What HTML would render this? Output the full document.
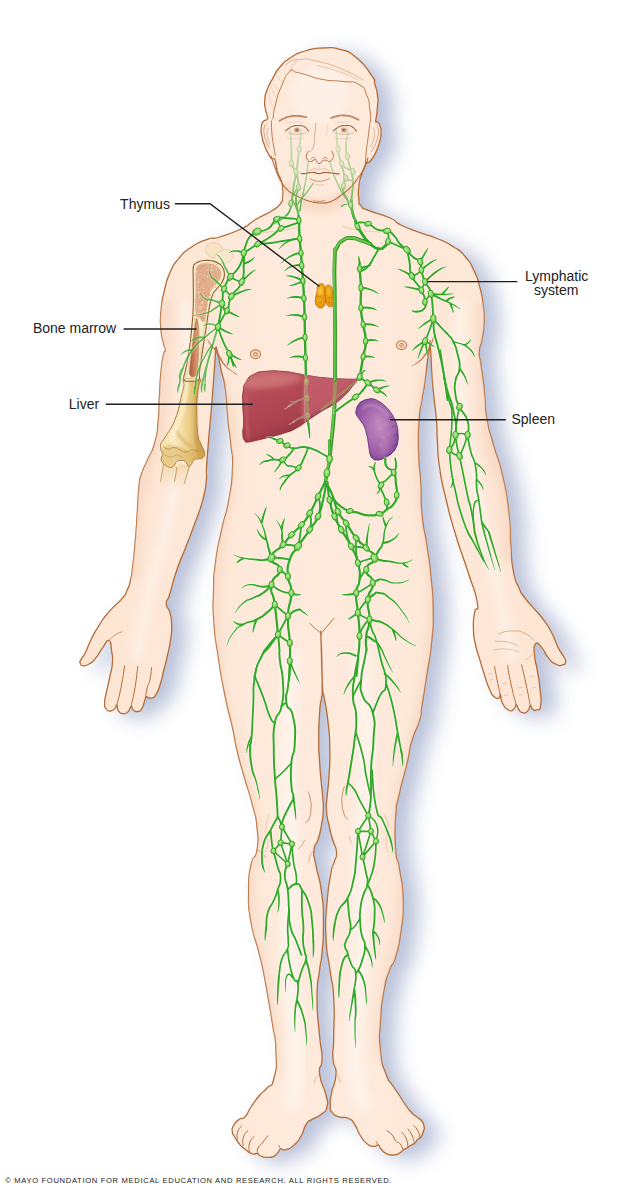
<!DOCTYPE html>
<html><head><meta charset="utf-8"><title>Lymphatic system</title>
<style>
html,body{margin:0;padding:0;background:#fff;}
body{width:632px;height:1187px;overflow:hidden;font-family:"Liberation Sans",sans-serif;}
svg{display:block}
text{font-family:"Liberation Sans",sans-serif;fill:#222;}
</style></head><body>
<svg width="632" height="1187" viewBox="0 0 632 1187">

<defs>
<filter id="shb" x="-15%" y="-5%" width="135%" height="112%"><feGaussianBlur stdDeviation="10"/></filter>
<filter id="b1" x="-50%" y="-50%" width="200%" height="200%"><feGaussianBlur stdDeviation="1"/></filter>
<filter id="b2" x="-50%" y="-50%" width="200%" height="200%"><feGaussianBlur stdDeviation="2.5"/></filter>
<filter id="b4" x="-100%" y="-100%" width="300%" height="300%"><feGaussianBlur stdDeviation="4"/></filter>
<linearGradient id="skin" x1="0" y1="0" x2="1" y2="0">
<stop offset="0" stop-color="#fde5d3"/><stop offset="0.5" stop-color="#feeadc"/><stop offset="1" stop-color="#fde5d3"/></linearGradient>
<linearGradient id="liverg" x1="0" y1="0" x2="0.6" y2="1">
<stop offset="0" stop-color="#cc6e72"/><stop offset="0.3" stop-color="#b64c58"/><stop offset="1" stop-color="#a03848"/></linearGradient>
<radialGradient id="spleeng" cx="0.55" cy="0.45" r="0.6">
<stop offset="0" stop-color="#c08ac0"/><stop offset="0.55" stop-color="#a669ae"/><stop offset="1" stop-color="#8a4e9e"/></radialGradient>
<linearGradient id="boneg" x1="0" y1="0" x2="1" y2="0">
<stop offset="0" stop-color="#f6e3ac"/><stop offset="0.3" stop-color="#f9ecc2"/><stop offset="0.62" stop-color="#eed28c"/><stop offset="1" stop-color="#c99e4c"/></linearGradient>
<radialGradient id="ndg" cx="0.42" cy="0.4" r="0.65"><stop offset="0" stop-color="#b6ee9c"/><stop offset="0.55" stop-color="#8cd96c"/><stop offset="1" stop-color="#4db53a"/></radialGradient>
<clipPath id="bodyclip"><path d="M323.5 48.0 C311.5 48.4 316.0 47.7 305.0 51.0 C294.0 54.3 298.9 52.5 290.6 57.8 C282.3 63.1 285.9 60.3 280.0 67.0 C274.1 73.7 277.3 70.3 273.0 78.0 C268.7 85.7 269.7 82.7 267.0 90.0 C264.3 97.3 265.4 94.0 264.8 100.0 C264.2 106.0 264.5 103.0 265.2 108.0 C265.9 113.0 266.3 111.3 267.0 115.0 C267.7 118.7 268.5 116.9 267.2 119.2 C265.9 121.5 265.0 118.8 263.0 121.8 C261.0 124.8 261.6 123.5 261.2 128.2 C260.8 132.9 260.8 130.2 261.9 136.0 C263.0 141.8 262.5 139.8 264.6 145.6 C266.7 151.4 265.9 149.3 268.2 153.5 C270.5 157.7 269.4 156.6 271.4 158.3 C273.4 160.0 272.8 157.5 274.2 158.7 C275.6 159.9 274.5 157.6 275.6 162.0 C276.7 166.4 275.7 166.0 277.5 172.0 C279.3 178.0 279.3 174.7 281.0 180.0 C282.7 185.3 282.1 182.3 282.6 188.0 C283.1 193.7 283.3 191.8 282.6 197.0 C281.9 202.2 284.1 198.9 280.6 203.5 C277.1 208.1 278.9 206.2 272.0 210.7 C265.1 215.2 266.7 213.2 260.0 217.0 C253.3 220.8 258.3 218.0 252.0 222.0 C245.7 226.0 251.7 224.0 241.0 229.0 C230.3 234.0 231.2 233.5 220.0 237.0 C208.8 240.5 217.1 235.8 207.3 239.4 C197.5 243.0 200.0 241.4 190.5 247.8 C181.0 254.2 185.4 250.6 178.7 258.7 C172.0 266.8 175.1 261.3 170.3 272.0 C165.5 282.7 167.5 277.7 164.4 290.7 C161.3 303.7 162.1 298.1 161.0 311.0 C159.9 323.9 160.2 318.7 161.0 329.4 C161.8 340.1 162.0 336.1 163.4 343.0 C164.8 349.9 165.3 346.0 165.3 350.0 C165.3 354.0 164.8 347.8 163.4 355.0 C162.0 362.2 162.3 357.6 161.0 371.5 C159.7 385.4 160.3 380.6 159.4 396.8 C158.5 413.0 159.8 404.9 158.3 420.0 C156.8 435.1 158.4 429.0 155.0 442.0 C151.6 455.0 152.5 448.3 148.0 459.0 C143.5 469.7 144.5 464.7 141.5 474.0 C138.5 483.3 140.3 475.5 139.0 487.0 C137.7 498.5 138.6 491.8 137.5 508.5 C136.4 525.2 137.2 518.0 135.6 537.0 C134.0 556.0 134.5 551.1 132.8 565.4 C131.1 579.7 132.4 571.8 130.5 580.0 C128.6 588.2 130.0 583.8 127.2 590.0 C124.4 596.2 127.8 591.7 122.0 598.7 C116.2 605.7 117.3 602.2 109.8 610.9 C102.3 619.6 105.8 614.9 99.4 624.8 C93.0 634.7 95.4 631.2 90.7 640.5 C86.0 649.8 88.6 646.3 85.4 652.7 C82.2 659.1 82.7 656.2 81.0 659.6 C79.3 663.0 79.6 661.0 80.2 663.0 C80.8 665.0 79.9 665.4 82.8 665.7 C85.7 666.0 84.6 666.6 89.0 664.0 C93.4 661.4 91.3 663.4 95.9 657.9 C100.5 652.4 98.5 653.2 102.9 647.4 C107.3 641.6 106.1 639.3 109.0 640.5 C111.9 641.7 110.5 643.5 111.6 651.0 C112.7 658.5 113.0 654.3 112.4 663.0 C111.8 671.7 111.8 667.1 109.8 677.0 C107.8 686.9 108.0 684.0 106.3 692.7 C104.6 701.4 104.6 697.5 104.6 703.0 C104.6 708.5 104.3 706.5 106.3 709.2 C108.3 711.9 107.8 711.3 110.7 711.0 C113.6 710.7 113.0 710.3 115.0 708.4 C117.0 706.5 115.6 704.3 116.8 705.2 C118.0 706.1 116.5 708.2 118.5 711.0 C120.5 713.8 119.7 713.3 122.9 713.6 C126.1 713.9 125.3 714.1 128.0 711.8 C130.7 709.5 129.2 707.4 131.0 706.8 C132.8 706.2 131.1 708.4 133.3 710.0 C135.5 711.6 134.8 712.0 137.7 711.5 C140.6 711.0 139.4 712.7 142.0 708.4 C144.6 704.1 143.5 702.1 145.5 698.5 C147.5 694.9 146.0 697.7 148.0 697.5 C150.0 697.3 148.9 699.0 151.6 698.0 C154.3 697.0 153.1 699.1 156.0 694.4 C158.9 689.7 157.7 692.1 160.3 684.0 C162.9 675.9 161.5 679.3 163.8 670.0 C166.1 660.7 165.0 666.4 167.3 656.0 C169.6 645.6 169.3 649.1 170.7 638.7 C172.1 628.3 171.9 633.5 171.6 624.8 C171.3 616.1 171.7 619.7 169.9 612.6 C168.1 605.5 166.3 609.6 166.3 603.4 C166.3 597.2 166.4 604.8 169.8 594.0 C173.2 583.2 171.1 586.8 176.5 571.0 C181.9 555.2 179.7 562.9 186.0 546.5 C192.3 530.1 189.7 537.6 195.4 521.8 C201.1 506.0 199.4 512.9 203.0 499.0 C206.6 485.1 205.1 490.5 206.3 480.0 C207.5 469.5 205.7 481.3 206.5 467.6 C207.3 453.9 206.9 461.2 208.7 439.0 C210.5 416.8 209.9 427.3 212.0 401.0 C214.1 374.7 213.8 377.3 215.0 360.0 C216.2 342.7 214.7 351.7 215.5 349.0 C216.3 346.3 215.7 345.2 217.5 352.0 C219.3 358.8 218.3 356.8 221.0 369.5 C223.7 382.2 223.2 373.2 225.5 390.0 C227.8 406.8 226.2 401.7 228.0 420.0 C229.8 438.3 229.5 429.0 231.0 445.0 C232.5 461.0 233.2 450.0 232.5 468.0 C231.8 486.0 232.7 478.0 229.0 499.0 C225.3 520.0 225.9 509.8 221.4 531.0 C216.9 552.2 218.1 542.2 215.5 562.5 C212.9 582.8 214.0 571.8 213.5 592.0 C213.0 612.2 212.5 602.0 214.0 623.0 C215.5 644.0 214.5 631.7 218.0 655.0 C221.5 678.3 219.7 668.8 224.5 693.0 C229.3 717.2 228.3 708.7 232.5 727.7 C236.7 746.7 233.3 734.2 237.0 750.0 C240.7 765.8 238.6 756.8 243.7 775.0 C248.8 793.2 248.0 787.3 252.4 804.6 C256.8 821.9 255.5 811.9 257.0 827.0 C258.5 842.1 259.0 837.3 257.0 850.0 C255.0 862.7 253.8 851.0 251.0 865.0 C248.2 879.0 248.6 873.0 248.6 892.0 C248.6 911.0 247.5 901.8 251.0 922.0 C254.5 942.2 254.3 933.4 259.0 952.7 C263.7 972.0 260.7 957.2 265.0 980.0 C269.3 1002.8 268.3 997.3 272.0 1021.0 C275.7 1044.7 275.3 1032.0 276.0 1051.0 C276.7 1070.0 277.0 1065.7 274.0 1078.0 C271.0 1090.3 271.7 1082.3 267.0 1088.0 C262.3 1093.7 265.1 1088.7 259.8 1095.0 C254.5 1101.3 255.9 1099.7 251.0 1107.0 C246.1 1114.3 249.0 1112.7 245.0 1116.8 C241.0 1120.9 242.8 1116.5 239.0 1119.4 C235.2 1122.3 235.9 1121.4 233.7 1125.5 C231.5 1129.6 232.0 1127.8 232.3 1131.6 C232.6 1135.4 232.7 1133.3 234.6 1136.8 C236.5 1140.3 235.7 1138.8 238.0 1142.0 C240.3 1145.2 238.9 1143.7 241.5 1146.3 C244.1 1148.9 243.3 1147.8 245.9 1149.8 C248.5 1151.8 246.8 1150.9 249.4 1152.4 C252.0 1153.9 251.1 1153.8 253.7 1154.2 C256.3 1154.6 254.9 1152.9 257.2 1153.5 C259.5 1154.1 257.5 1154.7 260.7 1156.0 C263.9 1157.3 262.5 1157.2 266.8 1157.3 C271.1 1157.4 270.0 1157.9 273.7 1156.3 C277.4 1154.7 275.7 1154.8 278.0 1152.4 C280.3 1150.0 278.0 1149.9 280.7 1149.0 C283.4 1148.1 281.4 1151.1 286.0 1149.6 C290.6 1148.1 289.4 1149.5 294.6 1144.6 C299.8 1139.7 297.8 1141.7 301.6 1135.0 C305.4 1128.3 302.5 1129.8 306.0 1124.6 C309.5 1119.4 306.8 1122.9 312.0 1119.4 C317.2 1115.9 316.7 1118.1 321.6 1114.0 C326.5 1109.9 325.3 1113.3 326.8 1107.0 C328.3 1100.7 328.4 1106.0 326.0 1095.0 C323.6 1084.0 320.9 1086.1 319.6 1074.0 C318.3 1061.9 322.0 1071.4 322.0 1058.7 C322.0 1046.0 321.3 1056.2 319.6 1036.0 C317.9 1015.8 317.0 1020.0 317.0 998.0 C317.0 976.0 317.9 985.1 319.6 970.0 C321.3 954.9 320.7 968.7 322.0 952.7 C323.3 936.7 323.6 942.2 323.4 922.0 C323.2 901.8 324.0 911.0 321.5 892.0 C319.0 873.0 318.3 879.0 315.8 865.0 C313.3 851.0 313.2 858.8 314.0 850.0 C314.8 841.2 315.8 847.3 318.3 838.7 C320.8 830.1 320.0 833.5 321.6 824.3 C323.2 815.1 322.8 820.1 323.2 811.0 C323.6 801.9 323.4 807.3 322.7 797.0 C322.0 786.7 322.1 792.3 321.0 780.0 C319.9 767.7 320.3 773.3 319.5 760.0 C318.7 746.7 318.7 755.8 318.7 740.0 C318.7 724.2 318.7 726.6 319.6 712.6 C320.5 698.6 320.6 705.5 321.5 698.0 C322.4 690.5 322.2 702.7 322.2 690.0 C322.2 677.3 322.1 679.7 321.6 660.0 C321.1 640.3 320.7 631.0 320.8 631.0 C320.9 631.0 321.2 640.7 321.8 660.0 C322.4 679.3 321.8 676.4 322.6 689.0 C323.4 701.6 322.5 686.8 324.3 697.8 C326.1 708.8 326.2 704.6 328.0 721.9 C329.8 739.2 329.5 731.1 329.8 749.6 C330.1 768.1 329.8 761.7 328.9 777.4 C328.0 793.1 327.9 785.4 327.1 796.6 C326.3 807.8 325.9 801.0 326.6 811.0 C327.3 821.0 327.3 816.9 329.3 826.5 C331.3 836.1 330.3 831.3 332.7 839.8 C335.1 848.3 336.0 844.6 336.5 852.0 C337.0 859.4 336.1 855.0 334.3 862.0 C332.5 869.0 333.4 859.3 331.0 873.0 C328.6 886.7 328.7 881.5 327.0 903.0 C325.3 924.5 325.0 915.2 326.0 937.5 C327.0 959.8 327.4 949.8 330.0 970.0 C332.6 990.2 332.5 976.0 333.7 998.0 C334.9 1020.0 333.9 1015.8 333.7 1036.0 C333.5 1056.2 332.2 1046.0 333.0 1058.7 C333.8 1071.4 336.5 1062.6 336.0 1074.0 C335.5 1085.4 333.4 1082.5 331.5 1093.0 C329.6 1103.5 330.2 1098.9 330.4 1105.4 C330.6 1111.9 329.3 1108.6 332.2 1112.4 C335.1 1116.2 333.5 1114.8 339.0 1116.8 C344.5 1118.8 343.4 1115.9 348.7 1118.5 C354.0 1121.1 351.0 1119.1 354.8 1124.6 C358.6 1130.1 355.9 1128.6 360.0 1135.0 C364.1 1141.4 362.3 1139.9 367.0 1143.7 C371.7 1147.5 370.2 1145.9 374.0 1146.3 C377.8 1146.7 376.0 1144.1 378.3 1145.0 C380.6 1145.9 378.4 1146.2 381.0 1149.0 C383.6 1151.8 382.0 1151.3 386.0 1153.3 C390.0 1155.3 388.6 1155.0 393.0 1155.0 C397.4 1155.0 395.7 1155.0 399.2 1153.3 C402.7 1151.6 400.9 1151.6 403.5 1149.8 C406.1 1148.0 404.7 1149.4 407.0 1148.0 C409.3 1146.6 407.9 1147.2 410.5 1145.5 C413.1 1143.8 412.6 1144.9 414.9 1142.9 C417.2 1140.9 415.5 1141.4 417.5 1139.4 C419.5 1137.4 419.0 1139.7 421.0 1136.8 C423.0 1133.9 422.6 1134.2 423.6 1130.7 C424.6 1127.2 424.6 1129.5 424.0 1126.3 C423.4 1123.1 424.3 1124.2 421.8 1121.0 C419.3 1117.8 420.4 1120.0 416.6 1116.8 C412.8 1113.6 414.9 1116.4 410.5 1111.5 C406.1 1106.6 407.3 1107.5 403.5 1102.0 C399.7 1096.5 402.7 1100.3 399.2 1095.0 C395.7 1089.7 397.4 1093.0 393.0 1086.0 C388.6 1079.0 390.2 1085.7 386.0 1074.0 C381.8 1062.3 382.3 1068.7 380.4 1051.0 C378.5 1033.3 379.2 1041.3 380.4 1021.0 C381.6 1000.7 381.0 1007.0 384.0 990.0 C387.0 973.0 385.6 981.2 389.5 970.0 C393.4 958.8 391.8 969.8 395.6 956.5 C399.4 943.2 398.5 949.0 401.0 930.0 C403.5 911.0 403.5 919.8 403.0 899.5 C402.5 879.2 401.9 885.5 399.4 869.0 C396.9 852.5 396.9 867.7 395.6 850.0 C394.3 832.3 394.3 835.0 395.6 816.0 C396.9 797.0 395.6 810.7 399.4 793.0 C403.2 775.3 402.8 780.7 407.0 763.0 C411.2 745.3 407.8 754.3 412.0 740.0 C416.2 725.7 416.3 731.7 419.6 720.0 C422.9 708.3 419.5 720.7 422.0 705.0 C424.5 689.3 423.8 694.2 427.0 673.0 C430.2 651.8 429.6 662.5 431.6 641.5 C433.6 620.5 433.2 631.2 433.0 610.0 C432.8 588.8 433.0 599.1 431.0 578.0 C429.0 556.9 430.0 567.6 427.0 546.6 C424.0 525.6 424.1 536.2 422.0 515.0 C419.9 493.8 421.8 504.0 420.6 483.0 C419.4 462.0 419.0 473.0 418.5 452.0 C418.0 431.0 417.9 437.3 419.0 420.0 C420.1 402.7 419.9 412.7 421.8 400.0 C423.7 387.3 422.4 398.7 424.8 382.0 C427.2 365.3 427.1 361.3 429.0 350.0 C430.9 338.7 429.2 337.3 430.4 348.0 C431.6 358.7 430.5 358.0 432.5 382.0 C434.5 406.0 434.8 401.0 436.4 420.0 C438.0 439.0 436.2 423.2 437.3 439.0 C438.4 454.8 436.7 447.5 439.6 467.5 C442.5 487.5 440.7 476.8 446.0 499.0 C451.3 521.2 448.1 509.7 455.4 534.0 C462.7 558.3 460.7 549.3 468.0 572.0 C475.3 594.7 475.0 588.5 477.2 602.0 C479.4 615.5 475.9 603.8 474.6 612.6 C473.3 621.4 473.1 617.8 473.4 628.3 C473.7 638.8 473.3 633.6 475.4 644.0 C477.5 654.4 476.9 649.8 479.8 659.6 C482.7 669.4 480.8 663.7 484.0 673.5 C487.2 683.3 485.9 681.2 489.4 689.0 C492.9 696.8 491.4 694.1 494.6 697.0 C497.8 699.9 497.0 698.5 499.0 697.8 C501.0 697.1 499.4 693.3 500.5 695.0 C501.6 696.7 499.7 698.0 502.4 703.0 C505.1 708.0 504.7 707.9 508.5 710.0 C512.3 712.1 511.1 710.9 513.7 709.2 C516.3 707.5 514.7 705.1 516.3 705.0 C517.9 704.9 516.5 706.4 518.5 709.0 C520.5 711.6 519.3 712.0 522.4 712.7 C525.5 713.4 525.1 713.3 527.7 711.0 C530.3 708.7 528.7 706.5 530.3 705.8 C531.9 705.1 530.5 707.6 532.5 709.0 C534.5 710.4 533.7 711.3 536.4 710.0 C539.1 708.7 539.6 712.5 540.7 705.0 C541.8 697.5 541.0 699.2 539.8 687.5 C538.6 675.8 538.9 680.5 537.2 670.0 C535.5 659.5 535.2 664.7 534.6 656.0 C534.0 647.3 533.2 646.9 535.5 644.0 C537.8 641.1 537.3 642.8 541.6 647.4 C545.9 652.0 543.9 652.4 548.5 657.9 C553.1 663.4 550.8 661.7 555.5 664.0 C560.2 666.3 559.1 665.7 562.5 664.8 C565.9 663.9 565.3 664.3 565.6 661.4 C565.9 658.5 565.8 660.7 563.3 656.0 C560.8 651.3 561.8 654.9 558.0 647.4 C554.2 639.9 556.9 642.8 552.0 633.5 C547.1 624.2 549.7 628.3 543.3 619.6 C536.9 610.9 539.3 614.9 532.9 607.4 C526.5 599.9 528.8 603.5 524.2 597.0 C519.6 590.5 522.6 596.3 519.0 588.0 C515.4 579.7 516.2 585.8 513.5 572.0 C510.8 558.2 512.3 565.6 510.8 546.6 C509.3 527.6 511.7 538.2 509.0 515.0 C506.3 491.8 508.0 500.3 502.8 477.0 C497.6 453.7 498.7 464.0 493.4 445.0 C488.1 426.0 489.9 436.1 487.0 420.0 C484.1 403.9 486.1 410.1 484.8 396.8 C483.5 383.5 484.4 391.3 483.0 380.0 C481.6 368.7 481.8 372.6 480.6 363.0 C479.4 353.4 478.7 359.7 479.3 351.3 C479.9 342.9 480.7 347.9 482.3 337.8 C483.9 327.7 483.8 332.3 484.0 321.0 C484.2 309.7 484.4 315.2 483.0 304.0 C481.6 292.8 482.8 298.5 479.8 287.3 C476.8 276.1 478.7 280.6 473.9 270.5 C469.1 260.4 472.2 264.8 465.5 257.0 C458.8 249.2 463.3 253.2 453.7 247.0 C444.1 240.8 448.0 243.3 436.8 238.5 C425.6 233.7 431.9 237.1 420.0 232.6 C408.1 228.1 411.0 229.9 401.0 225.0 C391.0 220.1 400.7 222.8 390.0 218.0 C379.3 213.2 378.7 214.8 369.0 210.7 C359.3 206.6 364.2 209.5 360.8 205.6 C357.4 201.7 359.5 205.5 358.8 199.0 C358.1 192.5 357.9 194.0 358.8 186.0 C359.7 178.0 359.5 181.6 361.5 175.0 C363.5 168.4 363.4 170.4 364.8 166.2 C366.2 162.0 364.7 163.6 365.8 162.4 C366.9 161.2 366.0 163.7 368.0 162.6 C370.0 161.5 369.0 163.1 371.9 159.0 C374.8 154.9 374.0 156.4 376.6 150.4 C379.2 144.4 378.3 146.7 379.8 140.9 C381.3 135.1 380.9 137.8 381.0 133.0 C381.1 128.2 381.3 130.2 380.2 126.6 C379.1 123.0 379.1 124.0 377.6 122.3 C376.1 120.6 376.1 123.3 375.7 121.5 C375.3 119.7 375.7 121.9 376.3 117.0 C376.9 112.1 377.0 113.9 377.4 106.9 C377.8 99.9 378.5 103.6 377.6 96.0 C376.7 88.4 376.8 90.8 374.8 84.0 C372.8 77.2 377.7 84.3 371.6 75.6 C365.5 66.9 366.7 66.4 356.5 57.8 C346.3 49.2 352.0 53.0 341.0 49.7 C330.0 46.4 335.5 47.6 323.5 48.0Z"/></clipPath>
</defs>
<rect width="632" height="1187" fill="#fff"/>
<g filter="url(#shb)" opacity="0.9"><path d="M323.5 48.0 C311.5 48.4 316.0 47.7 305.0 51.0 C294.0 54.3 298.9 52.5 290.6 57.8 C282.3 63.1 285.9 60.3 280.0 67.0 C274.1 73.7 277.3 70.3 273.0 78.0 C268.7 85.7 269.7 82.7 267.0 90.0 C264.3 97.3 265.4 94.0 264.8 100.0 C264.2 106.0 264.5 103.0 265.2 108.0 C265.9 113.0 266.3 111.3 267.0 115.0 C267.7 118.7 268.5 116.9 267.2 119.2 C265.9 121.5 265.0 118.8 263.0 121.8 C261.0 124.8 261.6 123.5 261.2 128.2 C260.8 132.9 260.8 130.2 261.9 136.0 C263.0 141.8 262.5 139.8 264.6 145.6 C266.7 151.4 265.9 149.3 268.2 153.5 C270.5 157.7 269.4 156.6 271.4 158.3 C273.4 160.0 272.8 157.5 274.2 158.7 C275.6 159.9 274.5 157.6 275.6 162.0 C276.7 166.4 275.7 166.0 277.5 172.0 C279.3 178.0 279.3 174.7 281.0 180.0 C282.7 185.3 282.1 182.3 282.6 188.0 C283.1 193.7 283.3 191.8 282.6 197.0 C281.9 202.2 284.1 198.9 280.6 203.5 C277.1 208.1 278.9 206.2 272.0 210.7 C265.1 215.2 266.7 213.2 260.0 217.0 C253.3 220.8 258.3 218.0 252.0 222.0 C245.7 226.0 251.7 224.0 241.0 229.0 C230.3 234.0 231.2 233.5 220.0 237.0 C208.8 240.5 217.1 235.8 207.3 239.4 C197.5 243.0 200.0 241.4 190.5 247.8 C181.0 254.2 185.4 250.6 178.7 258.7 C172.0 266.8 175.1 261.3 170.3 272.0 C165.5 282.7 167.5 277.7 164.4 290.7 C161.3 303.7 162.1 298.1 161.0 311.0 C159.9 323.9 160.2 318.7 161.0 329.4 C161.8 340.1 162.0 336.1 163.4 343.0 C164.8 349.9 165.3 346.0 165.3 350.0 C165.3 354.0 164.8 347.8 163.4 355.0 C162.0 362.2 162.3 357.6 161.0 371.5 C159.7 385.4 160.3 380.6 159.4 396.8 C158.5 413.0 159.8 404.9 158.3 420.0 C156.8 435.1 158.4 429.0 155.0 442.0 C151.6 455.0 152.5 448.3 148.0 459.0 C143.5 469.7 144.5 464.7 141.5 474.0 C138.5 483.3 140.3 475.5 139.0 487.0 C137.7 498.5 138.6 491.8 137.5 508.5 C136.4 525.2 137.2 518.0 135.6 537.0 C134.0 556.0 134.5 551.1 132.8 565.4 C131.1 579.7 132.4 571.8 130.5 580.0 C128.6 588.2 130.0 583.8 127.2 590.0 C124.4 596.2 127.8 591.7 122.0 598.7 C116.2 605.7 117.3 602.2 109.8 610.9 C102.3 619.6 105.8 614.9 99.4 624.8 C93.0 634.7 95.4 631.2 90.7 640.5 C86.0 649.8 88.6 646.3 85.4 652.7 C82.2 659.1 82.7 656.2 81.0 659.6 C79.3 663.0 79.6 661.0 80.2 663.0 C80.8 665.0 79.9 665.4 82.8 665.7 C85.7 666.0 84.6 666.6 89.0 664.0 C93.4 661.4 91.3 663.4 95.9 657.9 C100.5 652.4 98.5 653.2 102.9 647.4 C107.3 641.6 106.1 639.3 109.0 640.5 C111.9 641.7 110.5 643.5 111.6 651.0 C112.7 658.5 113.0 654.3 112.4 663.0 C111.8 671.7 111.8 667.1 109.8 677.0 C107.8 686.9 108.0 684.0 106.3 692.7 C104.6 701.4 104.6 697.5 104.6 703.0 C104.6 708.5 104.3 706.5 106.3 709.2 C108.3 711.9 107.8 711.3 110.7 711.0 C113.6 710.7 113.0 710.3 115.0 708.4 C117.0 706.5 115.6 704.3 116.8 705.2 C118.0 706.1 116.5 708.2 118.5 711.0 C120.5 713.8 119.7 713.3 122.9 713.6 C126.1 713.9 125.3 714.1 128.0 711.8 C130.7 709.5 129.2 707.4 131.0 706.8 C132.8 706.2 131.1 708.4 133.3 710.0 C135.5 711.6 134.8 712.0 137.7 711.5 C140.6 711.0 139.4 712.7 142.0 708.4 C144.6 704.1 143.5 702.1 145.5 698.5 C147.5 694.9 146.0 697.7 148.0 697.5 C150.0 697.3 148.9 699.0 151.6 698.0 C154.3 697.0 153.1 699.1 156.0 694.4 C158.9 689.7 157.7 692.1 160.3 684.0 C162.9 675.9 161.5 679.3 163.8 670.0 C166.1 660.7 165.0 666.4 167.3 656.0 C169.6 645.6 169.3 649.1 170.7 638.7 C172.1 628.3 171.9 633.5 171.6 624.8 C171.3 616.1 171.7 619.7 169.9 612.6 C168.1 605.5 166.3 609.6 166.3 603.4 C166.3 597.2 166.4 604.8 169.8 594.0 C173.2 583.2 171.1 586.8 176.5 571.0 C181.9 555.2 179.7 562.9 186.0 546.5 C192.3 530.1 189.7 537.6 195.4 521.8 C201.1 506.0 199.4 512.9 203.0 499.0 C206.6 485.1 205.1 490.5 206.3 480.0 C207.5 469.5 205.7 481.3 206.5 467.6 C207.3 453.9 206.9 461.2 208.7 439.0 C210.5 416.8 209.9 427.3 212.0 401.0 C214.1 374.7 213.8 377.3 215.0 360.0 C216.2 342.7 214.7 351.7 215.5 349.0 C216.3 346.3 215.7 345.2 217.5 352.0 C219.3 358.8 218.3 356.8 221.0 369.5 C223.7 382.2 223.2 373.2 225.5 390.0 C227.8 406.8 226.2 401.7 228.0 420.0 C229.8 438.3 229.5 429.0 231.0 445.0 C232.5 461.0 233.2 450.0 232.5 468.0 C231.8 486.0 232.7 478.0 229.0 499.0 C225.3 520.0 225.9 509.8 221.4 531.0 C216.9 552.2 218.1 542.2 215.5 562.5 C212.9 582.8 214.0 571.8 213.5 592.0 C213.0 612.2 212.5 602.0 214.0 623.0 C215.5 644.0 214.5 631.7 218.0 655.0 C221.5 678.3 219.7 668.8 224.5 693.0 C229.3 717.2 228.3 708.7 232.5 727.7 C236.7 746.7 233.3 734.2 237.0 750.0 C240.7 765.8 238.6 756.8 243.7 775.0 C248.8 793.2 248.0 787.3 252.4 804.6 C256.8 821.9 255.5 811.9 257.0 827.0 C258.5 842.1 259.0 837.3 257.0 850.0 C255.0 862.7 253.8 851.0 251.0 865.0 C248.2 879.0 248.6 873.0 248.6 892.0 C248.6 911.0 247.5 901.8 251.0 922.0 C254.5 942.2 254.3 933.4 259.0 952.7 C263.7 972.0 260.7 957.2 265.0 980.0 C269.3 1002.8 268.3 997.3 272.0 1021.0 C275.7 1044.7 275.3 1032.0 276.0 1051.0 C276.7 1070.0 277.0 1065.7 274.0 1078.0 C271.0 1090.3 271.7 1082.3 267.0 1088.0 C262.3 1093.7 265.1 1088.7 259.8 1095.0 C254.5 1101.3 255.9 1099.7 251.0 1107.0 C246.1 1114.3 249.0 1112.7 245.0 1116.8 C241.0 1120.9 242.8 1116.5 239.0 1119.4 C235.2 1122.3 235.9 1121.4 233.7 1125.5 C231.5 1129.6 232.0 1127.8 232.3 1131.6 C232.6 1135.4 232.7 1133.3 234.6 1136.8 C236.5 1140.3 235.7 1138.8 238.0 1142.0 C240.3 1145.2 238.9 1143.7 241.5 1146.3 C244.1 1148.9 243.3 1147.8 245.9 1149.8 C248.5 1151.8 246.8 1150.9 249.4 1152.4 C252.0 1153.9 251.1 1153.8 253.7 1154.2 C256.3 1154.6 254.9 1152.9 257.2 1153.5 C259.5 1154.1 257.5 1154.7 260.7 1156.0 C263.9 1157.3 262.5 1157.2 266.8 1157.3 C271.1 1157.4 270.0 1157.9 273.7 1156.3 C277.4 1154.7 275.7 1154.8 278.0 1152.4 C280.3 1150.0 278.0 1149.9 280.7 1149.0 C283.4 1148.1 281.4 1151.1 286.0 1149.6 C290.6 1148.1 289.4 1149.5 294.6 1144.6 C299.8 1139.7 297.8 1141.7 301.6 1135.0 C305.4 1128.3 302.5 1129.8 306.0 1124.6 C309.5 1119.4 306.8 1122.9 312.0 1119.4 C317.2 1115.9 316.7 1118.1 321.6 1114.0 C326.5 1109.9 325.3 1113.3 326.8 1107.0 C328.3 1100.7 328.4 1106.0 326.0 1095.0 C323.6 1084.0 320.9 1086.1 319.6 1074.0 C318.3 1061.9 322.0 1071.4 322.0 1058.7 C322.0 1046.0 321.3 1056.2 319.6 1036.0 C317.9 1015.8 317.0 1020.0 317.0 998.0 C317.0 976.0 317.9 985.1 319.6 970.0 C321.3 954.9 320.7 968.7 322.0 952.7 C323.3 936.7 323.6 942.2 323.4 922.0 C323.2 901.8 324.0 911.0 321.5 892.0 C319.0 873.0 318.3 879.0 315.8 865.0 C313.3 851.0 313.2 858.8 314.0 850.0 C314.8 841.2 315.8 847.3 318.3 838.7 C320.8 830.1 320.0 833.5 321.6 824.3 C323.2 815.1 322.8 820.1 323.2 811.0 C323.6 801.9 323.4 807.3 322.7 797.0 C322.0 786.7 322.1 792.3 321.0 780.0 C319.9 767.7 320.3 773.3 319.5 760.0 C318.7 746.7 318.7 755.8 318.7 740.0 C318.7 724.2 318.7 726.6 319.6 712.6 C320.5 698.6 320.6 705.5 321.5 698.0 C322.4 690.5 322.2 702.7 322.2 690.0 C322.2 677.3 322.1 679.7 321.6 660.0 C321.1 640.3 320.7 631.0 320.8 631.0 C320.9 631.0 321.2 640.7 321.8 660.0 C322.4 679.3 321.8 676.4 322.6 689.0 C323.4 701.6 322.5 686.8 324.3 697.8 C326.1 708.8 326.2 704.6 328.0 721.9 C329.8 739.2 329.5 731.1 329.8 749.6 C330.1 768.1 329.8 761.7 328.9 777.4 C328.0 793.1 327.9 785.4 327.1 796.6 C326.3 807.8 325.9 801.0 326.6 811.0 C327.3 821.0 327.3 816.9 329.3 826.5 C331.3 836.1 330.3 831.3 332.7 839.8 C335.1 848.3 336.0 844.6 336.5 852.0 C337.0 859.4 336.1 855.0 334.3 862.0 C332.5 869.0 333.4 859.3 331.0 873.0 C328.6 886.7 328.7 881.5 327.0 903.0 C325.3 924.5 325.0 915.2 326.0 937.5 C327.0 959.8 327.4 949.8 330.0 970.0 C332.6 990.2 332.5 976.0 333.7 998.0 C334.9 1020.0 333.9 1015.8 333.7 1036.0 C333.5 1056.2 332.2 1046.0 333.0 1058.7 C333.8 1071.4 336.5 1062.6 336.0 1074.0 C335.5 1085.4 333.4 1082.5 331.5 1093.0 C329.6 1103.5 330.2 1098.9 330.4 1105.4 C330.6 1111.9 329.3 1108.6 332.2 1112.4 C335.1 1116.2 333.5 1114.8 339.0 1116.8 C344.5 1118.8 343.4 1115.9 348.7 1118.5 C354.0 1121.1 351.0 1119.1 354.8 1124.6 C358.6 1130.1 355.9 1128.6 360.0 1135.0 C364.1 1141.4 362.3 1139.9 367.0 1143.7 C371.7 1147.5 370.2 1145.9 374.0 1146.3 C377.8 1146.7 376.0 1144.1 378.3 1145.0 C380.6 1145.9 378.4 1146.2 381.0 1149.0 C383.6 1151.8 382.0 1151.3 386.0 1153.3 C390.0 1155.3 388.6 1155.0 393.0 1155.0 C397.4 1155.0 395.7 1155.0 399.2 1153.3 C402.7 1151.6 400.9 1151.6 403.5 1149.8 C406.1 1148.0 404.7 1149.4 407.0 1148.0 C409.3 1146.6 407.9 1147.2 410.5 1145.5 C413.1 1143.8 412.6 1144.9 414.9 1142.9 C417.2 1140.9 415.5 1141.4 417.5 1139.4 C419.5 1137.4 419.0 1139.7 421.0 1136.8 C423.0 1133.9 422.6 1134.2 423.6 1130.7 C424.6 1127.2 424.6 1129.5 424.0 1126.3 C423.4 1123.1 424.3 1124.2 421.8 1121.0 C419.3 1117.8 420.4 1120.0 416.6 1116.8 C412.8 1113.6 414.9 1116.4 410.5 1111.5 C406.1 1106.6 407.3 1107.5 403.5 1102.0 C399.7 1096.5 402.7 1100.3 399.2 1095.0 C395.7 1089.7 397.4 1093.0 393.0 1086.0 C388.6 1079.0 390.2 1085.7 386.0 1074.0 C381.8 1062.3 382.3 1068.7 380.4 1051.0 C378.5 1033.3 379.2 1041.3 380.4 1021.0 C381.6 1000.7 381.0 1007.0 384.0 990.0 C387.0 973.0 385.6 981.2 389.5 970.0 C393.4 958.8 391.8 969.8 395.6 956.5 C399.4 943.2 398.5 949.0 401.0 930.0 C403.5 911.0 403.5 919.8 403.0 899.5 C402.5 879.2 401.9 885.5 399.4 869.0 C396.9 852.5 396.9 867.7 395.6 850.0 C394.3 832.3 394.3 835.0 395.6 816.0 C396.9 797.0 395.6 810.7 399.4 793.0 C403.2 775.3 402.8 780.7 407.0 763.0 C411.2 745.3 407.8 754.3 412.0 740.0 C416.2 725.7 416.3 731.7 419.6 720.0 C422.9 708.3 419.5 720.7 422.0 705.0 C424.5 689.3 423.8 694.2 427.0 673.0 C430.2 651.8 429.6 662.5 431.6 641.5 C433.6 620.5 433.2 631.2 433.0 610.0 C432.8 588.8 433.0 599.1 431.0 578.0 C429.0 556.9 430.0 567.6 427.0 546.6 C424.0 525.6 424.1 536.2 422.0 515.0 C419.9 493.8 421.8 504.0 420.6 483.0 C419.4 462.0 419.0 473.0 418.5 452.0 C418.0 431.0 417.9 437.3 419.0 420.0 C420.1 402.7 419.9 412.7 421.8 400.0 C423.7 387.3 422.4 398.7 424.8 382.0 C427.2 365.3 427.1 361.3 429.0 350.0 C430.9 338.7 429.2 337.3 430.4 348.0 C431.6 358.7 430.5 358.0 432.5 382.0 C434.5 406.0 434.8 401.0 436.4 420.0 C438.0 439.0 436.2 423.2 437.3 439.0 C438.4 454.8 436.7 447.5 439.6 467.5 C442.5 487.5 440.7 476.8 446.0 499.0 C451.3 521.2 448.1 509.7 455.4 534.0 C462.7 558.3 460.7 549.3 468.0 572.0 C475.3 594.7 475.0 588.5 477.2 602.0 C479.4 615.5 475.9 603.8 474.6 612.6 C473.3 621.4 473.1 617.8 473.4 628.3 C473.7 638.8 473.3 633.6 475.4 644.0 C477.5 654.4 476.9 649.8 479.8 659.6 C482.7 669.4 480.8 663.7 484.0 673.5 C487.2 683.3 485.9 681.2 489.4 689.0 C492.9 696.8 491.4 694.1 494.6 697.0 C497.8 699.9 497.0 698.5 499.0 697.8 C501.0 697.1 499.4 693.3 500.5 695.0 C501.6 696.7 499.7 698.0 502.4 703.0 C505.1 708.0 504.7 707.9 508.5 710.0 C512.3 712.1 511.1 710.9 513.7 709.2 C516.3 707.5 514.7 705.1 516.3 705.0 C517.9 704.9 516.5 706.4 518.5 709.0 C520.5 711.6 519.3 712.0 522.4 712.7 C525.5 713.4 525.1 713.3 527.7 711.0 C530.3 708.7 528.7 706.5 530.3 705.8 C531.9 705.1 530.5 707.6 532.5 709.0 C534.5 710.4 533.7 711.3 536.4 710.0 C539.1 708.7 539.6 712.5 540.7 705.0 C541.8 697.5 541.0 699.2 539.8 687.5 C538.6 675.8 538.9 680.5 537.2 670.0 C535.5 659.5 535.2 664.7 534.6 656.0 C534.0 647.3 533.2 646.9 535.5 644.0 C537.8 641.1 537.3 642.8 541.6 647.4 C545.9 652.0 543.9 652.4 548.5 657.9 C553.1 663.4 550.8 661.7 555.5 664.0 C560.2 666.3 559.1 665.7 562.5 664.8 C565.9 663.9 565.3 664.3 565.6 661.4 C565.9 658.5 565.8 660.7 563.3 656.0 C560.8 651.3 561.8 654.9 558.0 647.4 C554.2 639.9 556.9 642.8 552.0 633.5 C547.1 624.2 549.7 628.3 543.3 619.6 C536.9 610.9 539.3 614.9 532.9 607.4 C526.5 599.9 528.8 603.5 524.2 597.0 C519.6 590.5 522.6 596.3 519.0 588.0 C515.4 579.7 516.2 585.8 513.5 572.0 C510.8 558.2 512.3 565.6 510.8 546.6 C509.3 527.6 511.7 538.2 509.0 515.0 C506.3 491.8 508.0 500.3 502.8 477.0 C497.6 453.7 498.7 464.0 493.4 445.0 C488.1 426.0 489.9 436.1 487.0 420.0 C484.1 403.9 486.1 410.1 484.8 396.8 C483.5 383.5 484.4 391.3 483.0 380.0 C481.6 368.7 481.8 372.6 480.6 363.0 C479.4 353.4 478.7 359.7 479.3 351.3 C479.9 342.9 480.7 347.9 482.3 337.8 C483.9 327.7 483.8 332.3 484.0 321.0 C484.2 309.7 484.4 315.2 483.0 304.0 C481.6 292.8 482.8 298.5 479.8 287.3 C476.8 276.1 478.7 280.6 473.9 270.5 C469.1 260.4 472.2 264.8 465.5 257.0 C458.8 249.2 463.3 253.2 453.7 247.0 C444.1 240.8 448.0 243.3 436.8 238.5 C425.6 233.7 431.9 237.1 420.0 232.6 C408.1 228.1 411.0 229.9 401.0 225.0 C391.0 220.1 400.7 222.8 390.0 218.0 C379.3 213.2 378.7 214.8 369.0 210.7 C359.3 206.6 364.2 209.5 360.8 205.6 C357.4 201.7 359.5 205.5 358.8 199.0 C358.1 192.5 357.9 194.0 358.8 186.0 C359.7 178.0 359.5 181.6 361.5 175.0 C363.5 168.4 363.4 170.4 364.8 166.2 C366.2 162.0 364.7 163.6 365.8 162.4 C366.9 161.2 366.0 163.7 368.0 162.6 C370.0 161.5 369.0 163.1 371.9 159.0 C374.8 154.9 374.0 156.4 376.6 150.4 C379.2 144.4 378.3 146.7 379.8 140.9 C381.3 135.1 380.9 137.8 381.0 133.0 C381.1 128.2 381.3 130.2 380.2 126.6 C379.1 123.0 379.1 124.0 377.6 122.3 C376.1 120.6 376.1 123.3 375.7 121.5 C375.3 119.7 375.7 121.9 376.3 117.0 C376.9 112.1 377.0 113.9 377.4 106.9 C377.8 99.9 378.5 103.6 377.6 96.0 C376.7 88.4 376.8 90.8 374.8 84.0 C372.8 77.2 377.7 84.3 371.6 75.6 C365.5 66.9 366.7 66.4 356.5 57.8 C346.3 49.2 352.0 53.0 341.0 49.7 C330.0 46.4 335.5 47.6 323.5 48.0Z" fill="#b2bbd5" transform="translate(15,6)"/></g>
<path d="M323.5 48.0 C311.5 48.4 316.0 47.7 305.0 51.0 C294.0 54.3 298.9 52.5 290.6 57.8 C282.3 63.1 285.9 60.3 280.0 67.0 C274.1 73.7 277.3 70.3 273.0 78.0 C268.7 85.7 269.7 82.7 267.0 90.0 C264.3 97.3 265.4 94.0 264.8 100.0 C264.2 106.0 264.5 103.0 265.2 108.0 C265.9 113.0 266.3 111.3 267.0 115.0 C267.7 118.7 268.5 116.9 267.2 119.2 C265.9 121.5 265.0 118.8 263.0 121.8 C261.0 124.8 261.6 123.5 261.2 128.2 C260.8 132.9 260.8 130.2 261.9 136.0 C263.0 141.8 262.5 139.8 264.6 145.6 C266.7 151.4 265.9 149.3 268.2 153.5 C270.5 157.7 269.4 156.6 271.4 158.3 C273.4 160.0 272.8 157.5 274.2 158.7 C275.6 159.9 274.5 157.6 275.6 162.0 C276.7 166.4 275.7 166.0 277.5 172.0 C279.3 178.0 279.3 174.7 281.0 180.0 C282.7 185.3 282.1 182.3 282.6 188.0 C283.1 193.7 283.3 191.8 282.6 197.0 C281.9 202.2 284.1 198.9 280.6 203.5 C277.1 208.1 278.9 206.2 272.0 210.7 C265.1 215.2 266.7 213.2 260.0 217.0 C253.3 220.8 258.3 218.0 252.0 222.0 C245.7 226.0 251.7 224.0 241.0 229.0 C230.3 234.0 231.2 233.5 220.0 237.0 C208.8 240.5 217.1 235.8 207.3 239.4 C197.5 243.0 200.0 241.4 190.5 247.8 C181.0 254.2 185.4 250.6 178.7 258.7 C172.0 266.8 175.1 261.3 170.3 272.0 C165.5 282.7 167.5 277.7 164.4 290.7 C161.3 303.7 162.1 298.1 161.0 311.0 C159.9 323.9 160.2 318.7 161.0 329.4 C161.8 340.1 162.0 336.1 163.4 343.0 C164.8 349.9 165.3 346.0 165.3 350.0 C165.3 354.0 164.8 347.8 163.4 355.0 C162.0 362.2 162.3 357.6 161.0 371.5 C159.7 385.4 160.3 380.6 159.4 396.8 C158.5 413.0 159.8 404.9 158.3 420.0 C156.8 435.1 158.4 429.0 155.0 442.0 C151.6 455.0 152.5 448.3 148.0 459.0 C143.5 469.7 144.5 464.7 141.5 474.0 C138.5 483.3 140.3 475.5 139.0 487.0 C137.7 498.5 138.6 491.8 137.5 508.5 C136.4 525.2 137.2 518.0 135.6 537.0 C134.0 556.0 134.5 551.1 132.8 565.4 C131.1 579.7 132.4 571.8 130.5 580.0 C128.6 588.2 130.0 583.8 127.2 590.0 C124.4 596.2 127.8 591.7 122.0 598.7 C116.2 605.7 117.3 602.2 109.8 610.9 C102.3 619.6 105.8 614.9 99.4 624.8 C93.0 634.7 95.4 631.2 90.7 640.5 C86.0 649.8 88.6 646.3 85.4 652.7 C82.2 659.1 82.7 656.2 81.0 659.6 C79.3 663.0 79.6 661.0 80.2 663.0 C80.8 665.0 79.9 665.4 82.8 665.7 C85.7 666.0 84.6 666.6 89.0 664.0 C93.4 661.4 91.3 663.4 95.9 657.9 C100.5 652.4 98.5 653.2 102.9 647.4 C107.3 641.6 106.1 639.3 109.0 640.5 C111.9 641.7 110.5 643.5 111.6 651.0 C112.7 658.5 113.0 654.3 112.4 663.0 C111.8 671.7 111.8 667.1 109.8 677.0 C107.8 686.9 108.0 684.0 106.3 692.7 C104.6 701.4 104.6 697.5 104.6 703.0 C104.6 708.5 104.3 706.5 106.3 709.2 C108.3 711.9 107.8 711.3 110.7 711.0 C113.6 710.7 113.0 710.3 115.0 708.4 C117.0 706.5 115.6 704.3 116.8 705.2 C118.0 706.1 116.5 708.2 118.5 711.0 C120.5 713.8 119.7 713.3 122.9 713.6 C126.1 713.9 125.3 714.1 128.0 711.8 C130.7 709.5 129.2 707.4 131.0 706.8 C132.8 706.2 131.1 708.4 133.3 710.0 C135.5 711.6 134.8 712.0 137.7 711.5 C140.6 711.0 139.4 712.7 142.0 708.4 C144.6 704.1 143.5 702.1 145.5 698.5 C147.5 694.9 146.0 697.7 148.0 697.5 C150.0 697.3 148.9 699.0 151.6 698.0 C154.3 697.0 153.1 699.1 156.0 694.4 C158.9 689.7 157.7 692.1 160.3 684.0 C162.9 675.9 161.5 679.3 163.8 670.0 C166.1 660.7 165.0 666.4 167.3 656.0 C169.6 645.6 169.3 649.1 170.7 638.7 C172.1 628.3 171.9 633.5 171.6 624.8 C171.3 616.1 171.7 619.7 169.9 612.6 C168.1 605.5 166.3 609.6 166.3 603.4 C166.3 597.2 166.4 604.8 169.8 594.0 C173.2 583.2 171.1 586.8 176.5 571.0 C181.9 555.2 179.7 562.9 186.0 546.5 C192.3 530.1 189.7 537.6 195.4 521.8 C201.1 506.0 199.4 512.9 203.0 499.0 C206.6 485.1 205.1 490.5 206.3 480.0 C207.5 469.5 205.7 481.3 206.5 467.6 C207.3 453.9 206.9 461.2 208.7 439.0 C210.5 416.8 209.9 427.3 212.0 401.0 C214.1 374.7 213.8 377.3 215.0 360.0 C216.2 342.7 214.7 351.7 215.5 349.0 C216.3 346.3 215.7 345.2 217.5 352.0 C219.3 358.8 218.3 356.8 221.0 369.5 C223.7 382.2 223.2 373.2 225.5 390.0 C227.8 406.8 226.2 401.7 228.0 420.0 C229.8 438.3 229.5 429.0 231.0 445.0 C232.5 461.0 233.2 450.0 232.5 468.0 C231.8 486.0 232.7 478.0 229.0 499.0 C225.3 520.0 225.9 509.8 221.4 531.0 C216.9 552.2 218.1 542.2 215.5 562.5 C212.9 582.8 214.0 571.8 213.5 592.0 C213.0 612.2 212.5 602.0 214.0 623.0 C215.5 644.0 214.5 631.7 218.0 655.0 C221.5 678.3 219.7 668.8 224.5 693.0 C229.3 717.2 228.3 708.7 232.5 727.7 C236.7 746.7 233.3 734.2 237.0 750.0 C240.7 765.8 238.6 756.8 243.7 775.0 C248.8 793.2 248.0 787.3 252.4 804.6 C256.8 821.9 255.5 811.9 257.0 827.0 C258.5 842.1 259.0 837.3 257.0 850.0 C255.0 862.7 253.8 851.0 251.0 865.0 C248.2 879.0 248.6 873.0 248.6 892.0 C248.6 911.0 247.5 901.8 251.0 922.0 C254.5 942.2 254.3 933.4 259.0 952.7 C263.7 972.0 260.7 957.2 265.0 980.0 C269.3 1002.8 268.3 997.3 272.0 1021.0 C275.7 1044.7 275.3 1032.0 276.0 1051.0 C276.7 1070.0 277.0 1065.7 274.0 1078.0 C271.0 1090.3 271.7 1082.3 267.0 1088.0 C262.3 1093.7 265.1 1088.7 259.8 1095.0 C254.5 1101.3 255.9 1099.7 251.0 1107.0 C246.1 1114.3 249.0 1112.7 245.0 1116.8 C241.0 1120.9 242.8 1116.5 239.0 1119.4 C235.2 1122.3 235.9 1121.4 233.7 1125.5 C231.5 1129.6 232.0 1127.8 232.3 1131.6 C232.6 1135.4 232.7 1133.3 234.6 1136.8 C236.5 1140.3 235.7 1138.8 238.0 1142.0 C240.3 1145.2 238.9 1143.7 241.5 1146.3 C244.1 1148.9 243.3 1147.8 245.9 1149.8 C248.5 1151.8 246.8 1150.9 249.4 1152.4 C252.0 1153.9 251.1 1153.8 253.7 1154.2 C256.3 1154.6 254.9 1152.9 257.2 1153.5 C259.5 1154.1 257.5 1154.7 260.7 1156.0 C263.9 1157.3 262.5 1157.2 266.8 1157.3 C271.1 1157.4 270.0 1157.9 273.7 1156.3 C277.4 1154.7 275.7 1154.8 278.0 1152.4 C280.3 1150.0 278.0 1149.9 280.7 1149.0 C283.4 1148.1 281.4 1151.1 286.0 1149.6 C290.6 1148.1 289.4 1149.5 294.6 1144.6 C299.8 1139.7 297.8 1141.7 301.6 1135.0 C305.4 1128.3 302.5 1129.8 306.0 1124.6 C309.5 1119.4 306.8 1122.9 312.0 1119.4 C317.2 1115.9 316.7 1118.1 321.6 1114.0 C326.5 1109.9 325.3 1113.3 326.8 1107.0 C328.3 1100.7 328.4 1106.0 326.0 1095.0 C323.6 1084.0 320.9 1086.1 319.6 1074.0 C318.3 1061.9 322.0 1071.4 322.0 1058.7 C322.0 1046.0 321.3 1056.2 319.6 1036.0 C317.9 1015.8 317.0 1020.0 317.0 998.0 C317.0 976.0 317.9 985.1 319.6 970.0 C321.3 954.9 320.7 968.7 322.0 952.7 C323.3 936.7 323.6 942.2 323.4 922.0 C323.2 901.8 324.0 911.0 321.5 892.0 C319.0 873.0 318.3 879.0 315.8 865.0 C313.3 851.0 313.2 858.8 314.0 850.0 C314.8 841.2 315.8 847.3 318.3 838.7 C320.8 830.1 320.0 833.5 321.6 824.3 C323.2 815.1 322.8 820.1 323.2 811.0 C323.6 801.9 323.4 807.3 322.7 797.0 C322.0 786.7 322.1 792.3 321.0 780.0 C319.9 767.7 320.3 773.3 319.5 760.0 C318.7 746.7 318.7 755.8 318.7 740.0 C318.7 724.2 318.7 726.6 319.6 712.6 C320.5 698.6 320.6 705.5 321.5 698.0 C322.4 690.5 322.2 702.7 322.2 690.0 C322.2 677.3 322.1 679.7 321.6 660.0 C321.1 640.3 320.7 631.0 320.8 631.0 C320.9 631.0 321.2 640.7 321.8 660.0 C322.4 679.3 321.8 676.4 322.6 689.0 C323.4 701.6 322.5 686.8 324.3 697.8 C326.1 708.8 326.2 704.6 328.0 721.9 C329.8 739.2 329.5 731.1 329.8 749.6 C330.1 768.1 329.8 761.7 328.9 777.4 C328.0 793.1 327.9 785.4 327.1 796.6 C326.3 807.8 325.9 801.0 326.6 811.0 C327.3 821.0 327.3 816.9 329.3 826.5 C331.3 836.1 330.3 831.3 332.7 839.8 C335.1 848.3 336.0 844.6 336.5 852.0 C337.0 859.4 336.1 855.0 334.3 862.0 C332.5 869.0 333.4 859.3 331.0 873.0 C328.6 886.7 328.7 881.5 327.0 903.0 C325.3 924.5 325.0 915.2 326.0 937.5 C327.0 959.8 327.4 949.8 330.0 970.0 C332.6 990.2 332.5 976.0 333.7 998.0 C334.9 1020.0 333.9 1015.8 333.7 1036.0 C333.5 1056.2 332.2 1046.0 333.0 1058.7 C333.8 1071.4 336.5 1062.6 336.0 1074.0 C335.5 1085.4 333.4 1082.5 331.5 1093.0 C329.6 1103.5 330.2 1098.9 330.4 1105.4 C330.6 1111.9 329.3 1108.6 332.2 1112.4 C335.1 1116.2 333.5 1114.8 339.0 1116.8 C344.5 1118.8 343.4 1115.9 348.7 1118.5 C354.0 1121.1 351.0 1119.1 354.8 1124.6 C358.6 1130.1 355.9 1128.6 360.0 1135.0 C364.1 1141.4 362.3 1139.9 367.0 1143.7 C371.7 1147.5 370.2 1145.9 374.0 1146.3 C377.8 1146.7 376.0 1144.1 378.3 1145.0 C380.6 1145.9 378.4 1146.2 381.0 1149.0 C383.6 1151.8 382.0 1151.3 386.0 1153.3 C390.0 1155.3 388.6 1155.0 393.0 1155.0 C397.4 1155.0 395.7 1155.0 399.2 1153.3 C402.7 1151.6 400.9 1151.6 403.5 1149.8 C406.1 1148.0 404.7 1149.4 407.0 1148.0 C409.3 1146.6 407.9 1147.2 410.5 1145.5 C413.1 1143.8 412.6 1144.9 414.9 1142.9 C417.2 1140.9 415.5 1141.4 417.5 1139.4 C419.5 1137.4 419.0 1139.7 421.0 1136.8 C423.0 1133.9 422.6 1134.2 423.6 1130.7 C424.6 1127.2 424.6 1129.5 424.0 1126.3 C423.4 1123.1 424.3 1124.2 421.8 1121.0 C419.3 1117.8 420.4 1120.0 416.6 1116.8 C412.8 1113.6 414.9 1116.4 410.5 1111.5 C406.1 1106.6 407.3 1107.5 403.5 1102.0 C399.7 1096.5 402.7 1100.3 399.2 1095.0 C395.7 1089.7 397.4 1093.0 393.0 1086.0 C388.6 1079.0 390.2 1085.7 386.0 1074.0 C381.8 1062.3 382.3 1068.7 380.4 1051.0 C378.5 1033.3 379.2 1041.3 380.4 1021.0 C381.6 1000.7 381.0 1007.0 384.0 990.0 C387.0 973.0 385.6 981.2 389.5 970.0 C393.4 958.8 391.8 969.8 395.6 956.5 C399.4 943.2 398.5 949.0 401.0 930.0 C403.5 911.0 403.5 919.8 403.0 899.5 C402.5 879.2 401.9 885.5 399.4 869.0 C396.9 852.5 396.9 867.7 395.6 850.0 C394.3 832.3 394.3 835.0 395.6 816.0 C396.9 797.0 395.6 810.7 399.4 793.0 C403.2 775.3 402.8 780.7 407.0 763.0 C411.2 745.3 407.8 754.3 412.0 740.0 C416.2 725.7 416.3 731.7 419.6 720.0 C422.9 708.3 419.5 720.7 422.0 705.0 C424.5 689.3 423.8 694.2 427.0 673.0 C430.2 651.8 429.6 662.5 431.6 641.5 C433.6 620.5 433.2 631.2 433.0 610.0 C432.8 588.8 433.0 599.1 431.0 578.0 C429.0 556.9 430.0 567.6 427.0 546.6 C424.0 525.6 424.1 536.2 422.0 515.0 C419.9 493.8 421.8 504.0 420.6 483.0 C419.4 462.0 419.0 473.0 418.5 452.0 C418.0 431.0 417.9 437.3 419.0 420.0 C420.1 402.7 419.9 412.7 421.8 400.0 C423.7 387.3 422.4 398.7 424.8 382.0 C427.2 365.3 427.1 361.3 429.0 350.0 C430.9 338.7 429.2 337.3 430.4 348.0 C431.6 358.7 430.5 358.0 432.5 382.0 C434.5 406.0 434.8 401.0 436.4 420.0 C438.0 439.0 436.2 423.2 437.3 439.0 C438.4 454.8 436.7 447.5 439.6 467.5 C442.5 487.5 440.7 476.8 446.0 499.0 C451.3 521.2 448.1 509.7 455.4 534.0 C462.7 558.3 460.7 549.3 468.0 572.0 C475.3 594.7 475.0 588.5 477.2 602.0 C479.4 615.5 475.9 603.8 474.6 612.6 C473.3 621.4 473.1 617.8 473.4 628.3 C473.7 638.8 473.3 633.6 475.4 644.0 C477.5 654.4 476.9 649.8 479.8 659.6 C482.7 669.4 480.8 663.7 484.0 673.5 C487.2 683.3 485.9 681.2 489.4 689.0 C492.9 696.8 491.4 694.1 494.6 697.0 C497.8 699.9 497.0 698.5 499.0 697.8 C501.0 697.1 499.4 693.3 500.5 695.0 C501.6 696.7 499.7 698.0 502.4 703.0 C505.1 708.0 504.7 707.9 508.5 710.0 C512.3 712.1 511.1 710.9 513.7 709.2 C516.3 707.5 514.7 705.1 516.3 705.0 C517.9 704.9 516.5 706.4 518.5 709.0 C520.5 711.6 519.3 712.0 522.4 712.7 C525.5 713.4 525.1 713.3 527.7 711.0 C530.3 708.7 528.7 706.5 530.3 705.8 C531.9 705.1 530.5 707.6 532.5 709.0 C534.5 710.4 533.7 711.3 536.4 710.0 C539.1 708.7 539.6 712.5 540.7 705.0 C541.8 697.5 541.0 699.2 539.8 687.5 C538.6 675.8 538.9 680.5 537.2 670.0 C535.5 659.5 535.2 664.7 534.6 656.0 C534.0 647.3 533.2 646.9 535.5 644.0 C537.8 641.1 537.3 642.8 541.6 647.4 C545.9 652.0 543.9 652.4 548.5 657.9 C553.1 663.4 550.8 661.7 555.5 664.0 C560.2 666.3 559.1 665.7 562.5 664.8 C565.9 663.9 565.3 664.3 565.6 661.4 C565.9 658.5 565.8 660.7 563.3 656.0 C560.8 651.3 561.8 654.9 558.0 647.4 C554.2 639.9 556.9 642.8 552.0 633.5 C547.1 624.2 549.7 628.3 543.3 619.6 C536.9 610.9 539.3 614.9 532.9 607.4 C526.5 599.9 528.8 603.5 524.2 597.0 C519.6 590.5 522.6 596.3 519.0 588.0 C515.4 579.7 516.2 585.8 513.5 572.0 C510.8 558.2 512.3 565.6 510.8 546.6 C509.3 527.6 511.7 538.2 509.0 515.0 C506.3 491.8 508.0 500.3 502.8 477.0 C497.6 453.7 498.7 464.0 493.4 445.0 C488.1 426.0 489.9 436.1 487.0 420.0 C484.1 403.9 486.1 410.1 484.8 396.8 C483.5 383.5 484.4 391.3 483.0 380.0 C481.6 368.7 481.8 372.6 480.6 363.0 C479.4 353.4 478.7 359.7 479.3 351.3 C479.9 342.9 480.7 347.9 482.3 337.8 C483.9 327.7 483.8 332.3 484.0 321.0 C484.2 309.7 484.4 315.2 483.0 304.0 C481.6 292.8 482.8 298.5 479.8 287.3 C476.8 276.1 478.7 280.6 473.9 270.5 C469.1 260.4 472.2 264.8 465.5 257.0 C458.8 249.2 463.3 253.2 453.7 247.0 C444.1 240.8 448.0 243.3 436.8 238.5 C425.6 233.7 431.9 237.1 420.0 232.6 C408.1 228.1 411.0 229.9 401.0 225.0 C391.0 220.1 400.7 222.8 390.0 218.0 C379.3 213.2 378.7 214.8 369.0 210.7 C359.3 206.6 364.2 209.5 360.8 205.6 C357.4 201.7 359.5 205.5 358.8 199.0 C358.1 192.5 357.9 194.0 358.8 186.0 C359.7 178.0 359.5 181.6 361.5 175.0 C363.5 168.4 363.4 170.4 364.8 166.2 C366.2 162.0 364.7 163.6 365.8 162.4 C366.9 161.2 366.0 163.7 368.0 162.6 C370.0 161.5 369.0 163.1 371.9 159.0 C374.8 154.9 374.0 156.4 376.6 150.4 C379.2 144.4 378.3 146.7 379.8 140.9 C381.3 135.1 380.9 137.8 381.0 133.0 C381.1 128.2 381.3 130.2 380.2 126.6 C379.1 123.0 379.1 124.0 377.6 122.3 C376.1 120.6 376.1 123.3 375.7 121.5 C375.3 119.7 375.7 121.9 376.3 117.0 C376.9 112.1 377.0 113.9 377.4 106.9 C377.8 99.9 378.5 103.6 377.6 96.0 C376.7 88.4 376.8 90.8 374.8 84.0 C372.8 77.2 377.7 84.3 371.6 75.6 C365.5 66.9 366.7 66.4 356.5 57.8 C346.3 49.2 352.0 53.0 341.0 49.7 C330.0 46.4 335.5 47.6 323.5 48.0Z" fill="url(#skin)" stroke="#b46c38" stroke-width="1.3" stroke-linejoin="round"/>
<g clip-path="url(#bodyclip)">
<path d="M284.0 186.0 C289.3 190.7 288.0 193.3 300.0 200.0 C312.0 206.7 306.7 206.0 320.0 206.0 C333.3 206.0 327.3 207.3 340.0 200.0 C352.7 192.7 352.0 189.3 358.0 184.0" stroke="#f3cdb4" stroke-width="9" fill="none" opacity="0.75" filter="url(#b4)"/>
<path d="M166.0 300.0 C165.0 320.0 165.0 320.0 163.0 360.0 C161.0 400.0 165.7 383.3 160.0 420.0 C154.3 456.7 154.0 436.7 146.0 470.0 C138.0 503.3 140.3 483.3 136.0 520.0 C131.7 556.7 134.0 560.0 133.0 580.0" stroke="#f6d4bd" stroke-width="10" fill="none" opacity="0.7" filter="url(#b4)"/>
<path d="M484.0 300.0 C484.0 326.7 482.0 333.3 484.0 380.0 C486.0 426.7 482.7 400.0 490.0 440.0 C497.3 480.0 500.0 460.0 506.0 500.0 C512.0 540.0 507.3 540.0 508.0 560.0" stroke="#f6d4bd" stroke-width="10" fill="none" opacity="0.7" filter="url(#b4)"/>
<path d="M222.0 380.0 C225.0 406.7 232.3 400.0 231.0 460.0 C229.7 520.0 223.0 500.0 218.0 560.0 C213.0 620.0 211.3 580.0 216.0 640.0 C220.7 700.0 219.0 676.7 232.0 740.0 C245.0 803.3 249.0 776.7 255.0 830.0 C261.0 883.3 245.7 843.3 250.0 900.0 C254.3 956.7 259.7 943.3 268.0 1000.0 C276.3 1056.7 272.7 1046.7 275.0 1070.0" stroke="#f6d4bd" stroke-width="10" fill="none" opacity="0.6" filter="url(#b4)"/>
<path d="M426.0 370.0 C424.0 400.0 418.7 396.7 420.0 460.0 C421.3 523.3 426.0 503.3 430.0 560.0 C434.0 616.7 436.7 573.3 432.0 630.0 C427.3 686.7 427.7 666.7 416.0 730.0 C404.3 793.3 401.7 763.3 397.0 820.0 C392.3 876.7 406.3 840.0 402.0 900.0 C397.7 960.0 390.7 946.7 384.0 1000.0 C377.3 1053.3 382.7 1040.0 382.0 1060.0" stroke="#f6d4bd" stroke-width="10" fill="none" opacity="0.6" filter="url(#b4)"/>
<path d="M292.0 650.0 C290.3 686.7 287.3 693.3 287.0 760.0 C286.7 826.7 290.3 786.7 291.0 850.0 C291.7 913.3 287.3 883.3 289.0 950.0 C290.7 1016.7 295.7 996.7 296.0 1050.0 C296.3 1103.3 292.0 1090.0 290.0 1110.0" stroke="#ffffff" stroke-width="18" fill="none" opacity="0.42" filter="url(#b4)"/>
<path d="M360.0 650.0 C362.0 686.7 365.7 693.3 366.0 760.0 C366.3 826.7 362.7 786.7 361.0 850.0 C359.3 913.3 363.0 883.3 361.0 950.0 C359.0 1016.7 353.3 996.7 355.0 1050.0 C356.7 1103.3 362.3 1090.0 366.0 1110.0" stroke="#ffffff" stroke-width="18" fill="none" opacity="0.42" filter="url(#b4)"/>
<path d="M325.0 240.0 C325.0 270.0 325.0 253.3 325.0 330.0 C325.0 406.7 325.0 380.0 325.0 470.0 C325.0 560.0 325.0 556.7 325.0 600.0" stroke="#ffffff" stroke-width="22" fill="none" opacity="0.35" filter="url(#b4)"/>
<path d="M185.0 300.0 C185.3 333.3 190.3 333.3 186.0 400.0 C181.7 466.7 184.0 436.7 172.0 500.0 C160.0 563.3 162.3 536.7 150.0 590.0 C137.7 643.3 140.0 636.7 135.0 660.0" stroke="#ffffff" stroke-width="12" fill="none" opacity="0.4" filter="url(#b4)"/>
<path d="M460.0 300.0 C460.7 333.3 456.0 333.3 462.0 400.0 C468.0 466.7 466.0 436.7 478.0 500.0 C490.0 563.3 486.7 536.7 498.0 590.0 C509.3 643.3 507.3 636.7 512.0 660.0" stroke="#ffffff" stroke-width="12" fill="none" opacity="0.4" filter="url(#b4)"/>
<ellipse cx="320" cy="95" rx="30" ry="28" fill="#fff" opacity="0.3" filter="url(#b4)"/>
</g>
<path d="M271.0 156.0 C272.2 159.3 272.0 159.1 274.5 166.0 C277.0 172.9 276.0 171.0 278.5 176.7 C281.0 182.4 279.3 178.9 282.0 183.0 C284.7 187.1 283.0 185.3 286.7 189.0 C290.4 192.7 288.2 191.0 293.0 194.0 C297.8 197.0 296.0 195.7 301.0 198.0 C306.0 200.3 303.2 199.3 308.0 200.8 C312.8 202.3 310.8 201.8 315.5 202.5 C320.2 203.2 317.8 203.0 322.0 203.0 C326.2 203.0 324.0 203.5 328.0 202.5 C332.0 201.5 330.0 202.2 334.0 200.0 C338.0 197.8 335.8 199.0 340.0 196.0 C344.2 193.0 342.3 194.7 346.5 191.0 C350.7 187.3 348.8 189.3 352.6 185.0 C356.4 180.7 354.5 182.8 358.0 178.0 C361.5 173.2 360.3 175.3 363.0 170.6 C365.7 165.9 364.3 168.2 366.0 164.0 C367.7 159.8 367.3 160.0 368.0 158.0" stroke="#b46c38" stroke-width="1.1" fill="none" opacity="1" stroke-linecap="round" stroke-linejoin="round" />
<path d="M313.5 200.6 C315.3 200.9 315.3 201.4 319.0 201.4 C322.7 201.4 322.7 200.9 324.6 200.6" stroke="#b46c38" stroke-width="0.9" fill="none" opacity="0.8" stroke-linecap="round" stroke-linejoin="round" />
<path d="M272.9 119.0 C273.9 113.8 272.8 114.5 275.8 103.3 C278.8 92.1 277.2 96.1 281.8 85.5 C286.4 74.9 285.0 76.0 289.7 71.6 C294.4 67.2 290.7 71.2 296.0 72.2 C301.3 73.2 296.4 72.1 305.5 74.6 C314.6 77.1 310.8 77.3 323.3 79.6 C335.8 81.9 331.1 79.9 343.0 81.5 C354.9 83.1 351.0 79.9 358.9 84.5 C366.8 89.1 363.2 87.2 366.8 95.4 C370.4 103.6 368.5 100.7 369.8 109.2 C371.1 117.7 370.5 117.1 370.8 121.0" stroke="#b46c38" stroke-width="1.0" fill="none" opacity="0.9" stroke-linecap="round" stroke-linejoin="round" />
<path d="M285.7 64.7 C290.1 63.0 287.8 60.5 299.0 59.5 C310.2 58.5 304.6 58.4 319.3 61.8 C334.0 65.2 328.5 63.8 343.0 69.7 C357.5 75.6 356.2 76.3 362.8 79.6" stroke="#b46c38" stroke-width="0.8" fill="none" opacity="0.55" stroke-linecap="round" stroke-linejoin="round" />
<path d="M317.0 65.5 C324.7 67.7 326.7 67.3 340.0 72.0 C353.3 76.7 351.3 77.0 357.0 79.5" stroke="#b46c38" stroke-width="0.7" fill="none" opacity="0.45" stroke-linecap="round" stroke-linejoin="round" />
<path d="M289.7 71.6 C290.5 69.7 289.6 69.5 292.0 66.0 C294.4 62.5 295.3 62.7 297.0 61.0" stroke="#b46c38" stroke-width="0.7" fill="none" opacity="0.5" stroke-linecap="round" stroke-linejoin="round" />
<path d="M270.0 80.0 C270.7 83.0 270.0 83.0 272.0 89.0 C274.0 95.0 274.7 95.0 276.0 98.0" stroke="#b46c38" stroke-width="0.6" fill="none" opacity="0.3" stroke-linecap="round" stroke-linejoin="round" />
<path d="M272.5 76.0 C273.2 78.7 272.6 78.7 274.8 84.0 C276.9 89.3 277.6 89.3 279.0 92.0" stroke="#b46c38" stroke-width="0.6" fill="none" opacity="0.3" stroke-linecap="round" stroke-linejoin="round" />
<path d="M269.0 92.0 C269.4 94.7 268.8 94.7 270.2 100.0 C271.8 105.3 272.4 105.3 273.5 108.0" stroke="#b46c38" stroke-width="0.6" fill="none" opacity="0.3" stroke-linecap="round" stroke-linejoin="round" />
<path d="M276.0 72.0 C276.8 74.0 276.2 74.0 278.5 78.0 C280.8 82.0 281.5 82.0 283.0 84.0" stroke="#b46c38" stroke-width="0.6" fill="none" opacity="0.3" stroke-linecap="round" stroke-linejoin="round" />
<path d="M271.4 121.0 C271.6 125.5 271.2 126.1 272.0 134.6 C272.8 143.1 272.6 139.4 273.7 146.4 C274.8 153.4 274.8 152.5 275.3 155.5" stroke="#b46c38" stroke-width="1.0" fill="none" opacity="0.9" stroke-linecap="round" stroke-linejoin="round" />
<path d="M266.5 124.0 C265.7 125.3 264.9 124.3 264.2 128.0 C263.5 131.7 263.6 130.3 264.4 135.0 C265.2 139.7 265.0 137.7 266.5 142.0 C268.0 146.3 268.2 146.0 269.0 148.0" stroke="#b46c38" stroke-width="0.8" fill="none" opacity="0.7" stroke-linecap="round" stroke-linejoin="round" />
<path d="M268.2 128.0 C267.8 129.7 267.0 129.3 267.0 133.0 C267.0 136.7 267.2 135.3 268.2 139.0 C269.2 142.7 269.4 142.3 270.0 144.0" stroke="#b46c38" stroke-width="0.7" fill="none" opacity="0.55" stroke-linecap="round" stroke-linejoin="round" />
<path d="M370.2 121.0 C370.0 122.9 370.3 120.5 369.5 126.6 C368.7 132.7 368.9 131.4 367.9 139.3 C366.9 147.2 367.2 142.8 366.4 150.4 C365.6 158.0 365.9 158.1 365.6 162.0" stroke="#b46c38" stroke-width="1.0" fill="none" opacity="0.9" stroke-linecap="round" stroke-linejoin="round" />
<path d="M376.5 125.5 C377.1 127.0 378.0 125.8 378.3 130.0 C378.6 134.2 378.8 132.7 377.5 138.0 C376.2 143.3 376.7 141.3 374.5 146.0 C372.3 150.7 372.2 150.0 371.0 152.0" stroke="#b46c38" stroke-width="0.8" fill="none" opacity="0.7" stroke-linecap="round" stroke-linejoin="round" />
<path d="M373.5 128.0 C373.8 130.0 374.7 129.7 374.5 134.0 C374.3 138.3 374.3 136.7 373.0 141.0 C371.7 145.3 371.3 145.0 370.5 147.0" stroke="#b46c38" stroke-width="0.7" fill="none" opacity="0.55" stroke-linecap="round" stroke-linejoin="round" />
<path d="M279.5 120.8 C281.3 119.9 281.3 119.5 285.0 118.0 C288.7 116.5 286.3 117.1 290.6 116.4 C294.9 115.7 292.7 115.7 298.0 116.0 C303.3 116.3 303.6 116.8 306.4 117.2" stroke="#b4784e" stroke-width="1.8" fill="none" opacity="0.85" stroke-linecap="round" stroke-linejoin="round" />
<path d="M331.0 118.0 C333.3 117.3 333.5 116.8 338.0 116.0 C342.5 115.2 339.7 115.2 344.4 115.5 C349.1 115.8 347.3 115.4 352.0 116.8 C356.7 118.2 356.4 118.8 358.6 119.8" stroke="#b4784e" stroke-width="1.8" fill="none" opacity="0.85" stroke-linecap="round" stroke-linejoin="round" />
<ellipse cx="296.9" cy="130" rx="2.8" ry="2.6" fill="#c2a27e"/><circle cx="296.9" cy="130" r="1.1" fill="#8a6a52"/>
<path d="M285.5 131.0 C286.7 130.1 286.3 129.9 289.0 128.2 C291.7 126.5 290.2 126.9 293.5 126.0 C296.8 125.1 295.5 125.4 299.0 125.6 C302.5 125.8 300.7 124.7 304.0 126.6 C307.3 128.5 307.2 129.7 308.8 131.2" stroke="#a06c46" stroke-width="1.1" fill="none" opacity="1" stroke-linecap="round" stroke-linejoin="round" />
<path d="M288.0 132.5 C289.7 133.0 289.0 133.4 293.0 134.0 C297.0 134.6 295.7 134.7 300.0 134.2 C304.3 133.7 304.0 133.1 306.0 132.5" stroke="#c0906c" stroke-width="0.7" fill="none" opacity="0.8" stroke-linecap="round" stroke-linejoin="round" />
<path d="M287.0 123.5 C289.3 123.0 289.0 122.4 294.0 122.0 C299.0 121.6 299.3 122.3 302.0 122.4" stroke="#c99a7a" stroke-width="0.6" fill="none" opacity="0.5" stroke-linecap="round" stroke-linejoin="round" />
<path d="M287.0 137.5 C289.3 138.0 288.7 138.8 294.0 139.0 C299.3 139.2 300.0 138.3 303.0 138.0" stroke="#c99a7a" stroke-width="0.6" fill="none" opacity="0.5" stroke-linecap="round" stroke-linejoin="round" />
<ellipse cx="343.8" cy="130" rx="2.8" ry="2.6" fill="#c2a27e"/><circle cx="343.8" cy="130" r="1.1" fill="#8a6a52"/>
<path d="M333.3 131.0 C334.5 130.1 334.1 129.9 336.8 128.2 C339.5 126.5 338.0 126.9 341.3 126.0 C344.6 125.1 343.3 125.4 346.8 125.6 C350.3 125.8 348.5 124.7 351.8 126.6 C355.1 128.5 355.0 129.7 356.6 131.2" stroke="#a06c46" stroke-width="1.1" fill="none" opacity="1" stroke-linecap="round" stroke-linejoin="round" />
<path d="M335.8 132.5 C337.5 133.0 336.8 133.4 340.8 134.0 C344.8 134.6 343.5 134.7 347.8 134.2 C352.1 133.7 351.8 133.1 353.8 132.5" stroke="#c0906c" stroke-width="0.7" fill="none" opacity="0.8" stroke-linecap="round" stroke-linejoin="round" />
<path d="M334.8 123.5 C337.1 123.0 336.8 122.4 341.8 122.0 C346.8 121.6 347.1 122.3 349.8 122.4" stroke="#c99a7a" stroke-width="0.6" fill="none" opacity="0.5" stroke-linecap="round" stroke-linejoin="round" />
<path d="M334.8 137.5 C337.1 138.0 336.5 138.8 341.8 139.0 C347.1 139.2 347.8 138.3 350.8 138.0" stroke="#c99a7a" stroke-width="0.6" fill="none" opacity="0.5" stroke-linecap="round" stroke-linejoin="round" />
<path d="M315.9 123.0 C315.5 126.7 315.6 126.2 314.8 134.0 C314.0 141.8 315.1 140.6 313.5 146.4 C311.9 152.2 311.2 149.8 310.0 151.5" stroke="#b46c38" stroke-width="0.8" fill="none" opacity="0.6" stroke-linecap="round" stroke-linejoin="round" />
<path d="M327.2 125.0 C327.1 127.0 327.2 127.3 327.0 131.0 C326.8 134.7 326.7 134.3 326.5 136.0" stroke="#b46c38" stroke-width="0.6" fill="none" opacity="0.3" stroke-linecap="round" stroke-linejoin="round" />
<path d="M308.5 151.5 C307.9 152.7 307.1 152.5 306.6 155.0 C306.1 157.5 305.9 156.9 307.0 159.0 C308.1 161.1 307.8 160.8 309.8 161.4 C311.8 162.0 311.2 161.4 313.0 160.8 C314.8 160.2 313.3 158.7 315.3 159.6 C317.3 160.5 316.5 163.2 319.0 163.6 C321.5 164.0 320.5 161.9 322.8 160.8 C325.1 159.7 323.8 160.0 326.0 160.2 C328.2 160.4 327.1 162.0 329.3 161.4 C331.5 160.8 331.3 160.8 332.6 158.5 C333.9 156.2 333.6 157.0 333.2 154.5 C332.8 152.0 332.1 152.2 331.5 151.0" stroke="#b46c38" stroke-width="1.0" fill="none" opacity="1" stroke-linecap="round" stroke-linejoin="round" />
<path d="M311.0 159.5 C311.8 158.8 311.8 157.5 313.5 157.3 C315.2 157.1 315.3 158.3 316.2 158.8" stroke="#b46c38" stroke-width="0.8" fill="none" opacity="0.85" stroke-linecap="round" stroke-linejoin="round" />
<path d="M322.5 158.8 C323.4 158.3 323.4 157.1 325.2 157.3 C327.0 157.5 327.1 158.6 328.0 159.3" stroke="#b46c38" stroke-width="0.8" fill="none" opacity="0.85" stroke-linecap="round" stroke-linejoin="round" />
<path d="M300.9 173.3 C302.3 173.4 302.1 173.8 305.0 173.6 C307.9 173.4 306.4 172.9 309.6 172.6 C312.8 172.3 311.4 172.3 314.5 172.6 C317.6 172.9 316.0 173.6 319.0 173.6 C322.0 173.6 320.3 172.9 323.5 172.6 C326.7 172.3 325.0 172.3 328.5 172.6 C332.0 172.9 330.3 172.9 334.0 173.4 C337.7 173.9 337.7 173.8 339.6 174.0" stroke="#a9623a" stroke-width="1.1" fill="none" opacity="1" stroke-linecap="round" stroke-linejoin="round" />
<path d="M309.0 170.5 C310.8 169.9 311.2 169.0 314.5 168.8 C317.8 168.6 316.0 169.8 319.0 169.8 C322.0 169.8 320.0 168.6 323.5 168.8 C327.0 169.0 327.5 169.9 329.5 170.5" stroke="#b46c38" stroke-width="0.6" fill="none" opacity="0.5" stroke-linecap="round" stroke-linejoin="round" />
<path d="M309.6 178.6 C311.1 179.2 310.9 179.5 314.0 180.4 C317.1 181.3 315.5 181.2 319.0 181.2 C322.5 181.2 321.1 181.3 324.5 180.4 C327.9 179.5 327.7 179.2 329.3 178.6" stroke="#b46c38" stroke-width="0.9" fill="none" opacity="0.8" stroke-linecap="round" stroke-linejoin="round" />
<path d="M316.0 184.6 C317.3 184.8 317.4 185.2 320.0 185.2 C322.6 185.2 322.5 184.8 323.8 184.6" stroke="#b46c38" stroke-width="0.7" fill="none" opacity="0.45" stroke-linecap="round" stroke-linejoin="round" />
<path d="M319.0 164.8 C319.1 166.0 319.2 167.3 319.3 168.5" stroke="#b46c38" stroke-width="0.6" fill="none" opacity="0.35" stroke-linecap="round" stroke-linejoin="round" />
<path d="M300.0 226.0 C296.7 227.0 298.0 227.3 290.0 229.0 C282.0 230.7 285.3 229.7 276.0 231.0 C266.7 232.3 266.7 232.3 262.0 233.0" stroke="#b46c38" stroke-width="0.7" fill="none" opacity="0.35" stroke-linecap="round" stroke-linejoin="round" />
<path d="M342.0 226.0 C345.3 227.0 344.0 227.3 352.0 229.0 C360.0 230.7 356.7 230.0 366.0 231.0 C375.3 232.0 375.3 231.7 380.0 232.0" stroke="#b46c38" stroke-width="0.7" fill="none" opacity="0.35" stroke-linecap="round" stroke-linejoin="round" />
<ellipse cx="255.5" cy="354.3" rx="5" ry="4.4" fill="#fadcc8" stroke="#bf8052" stroke-width="1.1"/><circle cx="255.5" cy="354.3" r="1.9" fill="#f3c3a8" stroke="#bf8052" stroke-width="0.9"/>
<ellipse cx="401.5" cy="345.2" rx="5" ry="4.4" fill="#fadcc8" stroke="#bf8052" stroke-width="1.1"/><circle cx="401.5" cy="345.2" r="1.9" fill="#f3c3a8" stroke="#bf8052" stroke-width="0.9"/>
<path d="M215.4 348.2 L214.9 347.8 L214.4 347.7 L214.2 347.7 L213.9 347.6 L213.2 346.9 L212.1 345.6 L210.8 344.1 L209.8 342.8 L209.0 341.6 L208.3 340.5 L207.6 339.4 L206.7 338.2 L206.5 338.4 L207.2 339.6 L207.7 340.8 L208.3 342.0 L209.0 343.3 L210.0 344.7 L211.1 346.4 L212.3 347.8 L213.0 348.6 L213.6 349.0 L214.1 349.1 L214.2 349.2 L214.6 349.4Z" fill="#b46c38" opacity="0.9"/>
<path d="M214.3 349.2 L215.0 350.5 L215.6 351.6 L216.2 352.7 L216.9 354.0 L217.9 355.7 L219.4 358.1 L220.6 360.2 L221.3 361.5 L221.7 362.3 L222.2 363.0 L223.0 364.1 L224.5 365.8 L226.1 367.5 L227.1 368.5 L227.8 369.1 L228.5 369.5 L229.6 370.2 L231.3 371.3 L233.1 372.6 L234.3 373.4 L235.2 373.9 L235.9 374.2 L236.6 374.5 L237.5 374.9 L237.7 374.7 L236.8 374.1 L236.2 373.7 L235.5 373.3 L234.7 372.8 L233.5 372.0 L231.7 370.7 L230.1 369.4 L229.1 368.7 L228.4 368.3 L227.8 367.7 L227.0 366.7 L225.5 365.0 L224.0 363.3 L223.3 362.3 L222.9 361.6 L222.6 360.9 L221.9 359.5 L220.6 357.3 L219.2 354.9 L218.3 353.2 L217.6 351.9 L217.0 350.8 L216.4 349.7 L215.7 348.4Z" fill="#b46c38" opacity="0.9"/>
<path d="M430.2 348.8 L430.5 348.0 L430.7 347.4 L430.8 346.9 L431.1 346.1 L431.5 344.9 L432.0 343.2 L432.6 341.4 L433.1 340.0 L433.4 338.9 L433.6 338.0 L433.9 337.1 L434.1 336.1 L433.9 335.9 L433.4 337.0 L433.0 337.8 L432.6 338.7 L432.2 339.7 L431.7 341.0 L431.0 342.8 L430.3 344.5 L429.8 345.6 L429.5 346.4 L429.3 346.9 L429.1 347.5 L428.8 348.2Z" fill="#b46c38" opacity="0.9"/>
<path d="M428.8 348.1 L428.2 349.0 L427.8 349.8 L427.3 350.5 L426.8 351.4 L425.9 352.7 L424.4 354.6 L423.1 356.3 L422.4 357.4 L422.0 358.0 L421.5 358.7 L420.5 359.6 L418.7 361.1 L416.7 362.7 L415.2 363.8 L414.1 364.5 L413.1 365.1 L412.1 365.6 L410.9 366.4 L411.1 366.6 L412.3 366.0 L413.3 365.6 L414.4 365.1 L415.7 364.5 L417.2 363.4 L419.3 361.9 L421.2 360.4 L422.2 359.5 L422.9 358.8 L423.5 358.1 L424.2 357.1 L425.6 355.4 L427.0 353.6 L428.0 352.3 L428.7 351.3 L429.1 350.6 L429.6 349.9 L430.2 348.9Z" fill="#b46c38" opacity="0.9"/>
<path d="M310.0 623.5 C311.3 624.8 311.0 624.8 314.0 627.5 C317.0 630.2 316.7 629.3 319.0 631.5 C321.3 633.7 320.3 633.2 321.0 634.0" stroke="#b46c38" stroke-width="1.0" fill="none" opacity="1" stroke-linecap="round" stroke-linejoin="round" />
<path d="M334.0 618.5 C332.3 620.3 332.3 620.2 329.0 624.0 C325.7 627.8 326.7 626.7 324.0 630.0 C321.3 633.3 322.0 632.7 321.0 634.0" stroke="#b46c38" stroke-width="1.0" fill="none" opacity="1" stroke-linecap="round" stroke-linejoin="round" />
<path d="M124.6 665.7 C123.4 673.0 123.6 674.4 121.0 687.5 C118.4 700.6 118.2 699.2 116.8 705.0" stroke="#b46c38" stroke-width="1.0" fill="none" opacity="1" stroke-linecap="round" stroke-linejoin="round" />
<path d="M137.7 666.6 C136.8 673.6 137.2 674.2 135.0 687.5 C132.8 700.8 132.3 700.2 131.0 706.6" stroke="#b46c38" stroke-width="1.0" fill="none" opacity="1" stroke-linecap="round" stroke-linejoin="round" />
<path d="M151.6 667.5 C151.0 671.8 151.3 673.8 149.8 680.5 C148.3 687.2 148.6 681.7 147.2 687.5 C145.8 693.3 146.1 694.5 145.5 698.0" stroke="#b46c38" stroke-width="1.0" fill="none" opacity="1" stroke-linecap="round" stroke-linejoin="round" />
<path d="M122.0 631.8 C119.7 632.9 119.3 632.1 115.0 635.0 C110.7 637.9 111.0 638.7 109.0 640.5" stroke="#b46c38" stroke-width="0.9" fill="none" opacity="0.8" stroke-linecap="round" stroke-linejoin="round" />
<path d="M494.6 666.6 C495.5 671.2 495.3 671.2 497.2 680.5 C499.1 689.8 499.3 689.8 500.3 694.5" stroke="#b46c38" stroke-width="1.0" fill="none" opacity="1" stroke-linecap="round" stroke-linejoin="round" />
<path d="M507.6 665.7 C508.7 671.8 508.1 670.9 511.0 684.0 C513.9 697.1 514.5 698.0 516.3 705.0" stroke="#b46c38" stroke-width="1.0" fill="none" opacity="1" stroke-linecap="round" stroke-linejoin="round" />
<path d="M521.6 664.8 C523.1 671.2 523.1 670.4 526.0 684.0 C528.9 697.6 528.9 698.5 530.3 705.7" stroke="#b46c38" stroke-width="1.0" fill="none" opacity="1" stroke-linecap="round" stroke-linejoin="round" />
<path d="M499.0 633.5 C503.3 632.7 503.3 631.0 512.0 631.0 C520.7 631.0 517.7 630.3 525.0 633.5 C532.3 636.7 530.9 638.2 533.8 640.5" stroke="#b46c38" stroke-width="0.8" fill="none" opacity="0.6" stroke-linecap="round" stroke-linejoin="round" />
<path d="M495.5 641.3 C499.8 641.6 501.3 640.7 508.5 642.2 C515.7 643.7 514.3 644.5 517.2 645.7" stroke="#b46c38" stroke-width="0.8" fill="none" opacity="0.5" stroke-linecap="round" stroke-linejoin="round" />
<path d="M493.7 650.0 C497.5 649.7 496.6 648.4 505.0 649.0 C513.4 649.6 514.3 650.9 519.0 651.8" stroke="#b46c38" stroke-width="0.7" fill="none" opacity="0.45" stroke-linecap="round" stroke-linejoin="round" />
<path d="M526.0 659.6 C527.3 658.7 528.0 658.7 530.0 657.0 C532.0 655.3 531.3 655.3 532.0 654.4" stroke="#b46c38" stroke-width="0.7" fill="none" opacity="0.5" stroke-linecap="round" stroke-linejoin="round" />
<path d="M488.5 674.0 l4.0 -0.6" stroke="#d9967a" stroke-width="0.8" opacity="0.6"/>
<path d="M489.5 680.0 l3.5 -0.6" stroke="#d9967a" stroke-width="0.8" opacity="0.6"/>
<path d="M502.5 683.5 l5.0 -0.6" stroke="#d9967a" stroke-width="0.8" opacity="0.6"/>
<path d="M504.0 695.5 l4.5 -0.6" stroke="#d9967a" stroke-width="0.8" opacity="0.6"/>
<path d="M517.5 688.0 l5.0 -0.6" stroke="#d9967a" stroke-width="0.8" opacity="0.6"/>
<path d="M518.5 695.0 l4.5 -0.6" stroke="#d9967a" stroke-width="0.8" opacity="0.6"/>
<path d="M530.5 677.0 l4.0 -0.6" stroke="#d9967a" stroke-width="0.8" opacity="0.6"/>
<path d="M532.0 688.0 l4.0 -0.6" stroke="#d9967a" stroke-width="0.8" opacity="0.6"/>
<path d="M308.3 792.0 C309.0 794.7 309.6 794.8 310.5 800.0 C311.4 805.2 311.4 801.8 311.0 807.7 C310.6 813.6 311.2 812.7 309.4 817.7 C307.6 822.7 306.8 821.0 305.5 822.6" stroke="#b46c38" stroke-width="1.0" fill="none" opacity="0.75" stroke-linecap="round" stroke-linejoin="round" />
<path d="M344.3 786.6 C343.6 789.4 343.1 789.9 342.3 795.0 C341.5 800.1 341.5 796.0 342.0 802.0 C342.5 808.0 341.8 807.2 343.7 813.0 C345.6 818.8 346.3 817.2 347.6 819.3" stroke="#b46c38" stroke-width="1.0" fill="none" opacity="0.75" stroke-linecap="round" stroke-linejoin="round" />
<path d="M298.3 848.7 C299.5 847.5 300.0 847.8 302.0 845.0 C304.0 842.2 303.6 841.9 304.4 840.4" stroke="#b46c38" stroke-width="0.9" fill="none" opacity="0.6" stroke-linecap="round" stroke-linejoin="round" />
<path d="M349.3 836.5 C349.7 838.0 349.4 838.4 350.5 841.0 C351.6 843.6 351.9 843.1 352.6 844.2" stroke="#d08a70" stroke-width="0.9" fill="none" opacity="0.6" stroke-linecap="round" stroke-linejoin="round" />
<path d="M269.0 815.0 C268.0 819.3 266.3 819.0 266.0 828.0 C265.7 837.0 268.3 834.0 268.0 842.0 C267.7 850.0 266.0 848.7 265.0 852.0" stroke="#b46c38" stroke-width="0.7" fill="none" opacity="0.35" stroke-linecap="round" stroke-linejoin="round" />
<path d="M385.0 815.0 C386.0 819.3 387.7 819.0 388.0 828.0 C388.3 837.0 386.0 834.0 386.0 842.0 C386.0 850.0 387.3 848.7 388.0 852.0" stroke="#b46c38" stroke-width="0.7" fill="none" opacity="0.35" stroke-linecap="round" stroke-linejoin="round" />
<path d="M257.0 850.0 C258.7 851.0 259.0 850.3 262.0 853.0 C265.0 855.7 264.7 856.3 266.0 858.0" stroke="#b46c38" stroke-width="0.8" fill="none" opacity="0.6" stroke-linecap="round" stroke-linejoin="round" />
<path d="M314.0 850.0 C312.7 852.0 311.7 852.0 310.0 856.0 C308.3 860.0 309.3 860.0 309.0 862.0" stroke="#b46c38" stroke-width="0.8" fill="none" opacity="0.6" stroke-linecap="round" stroke-linejoin="round" />
<path d="M319.6 1074.0 C318.4 1075.3 317.7 1075.0 316.0 1078.0 C314.3 1081.0 315.0 1081.3 314.5 1083.0" stroke="#b46c38" stroke-width="0.7" fill="none" opacity="0.5" stroke-linecap="round" stroke-linejoin="round" />
<path d="M336.0 1074.0 C337.0 1075.3 337.7 1075.0 339.0 1078.0 C340.3 1081.0 339.7 1081.3 340.0 1083.0" stroke="#b46c38" stroke-width="0.7" fill="none" opacity="0.5" stroke-linecap="round" stroke-linejoin="round" />
<path d="M241.5 1126.0 C240.2 1128.1 238.8 1127.9 237.5 1132.4 C236.2 1136.9 237.5 1137.1 237.5 1139.4" stroke="#b46c38" stroke-width="1.0" fill="none" opacity="1" stroke-linecap="round" stroke-linejoin="round" />
<path d="M247.6 1130.7 C246.2 1133.0 244.7 1132.7 243.3 1137.6 C241.9 1142.5 243.3 1142.9 243.3 1145.5" stroke="#b46c38" stroke-width="1.0" fill="none" opacity="1" stroke-linecap="round" stroke-linejoin="round" />
<path d="M253.7 1136.8 C252.3 1139.1 250.8 1138.8 249.4 1143.7 C248.0 1148.6 249.4 1149.0 249.4 1151.6" stroke="#b46c38" stroke-width="1.0" fill="none" opacity="1" stroke-linecap="round" stroke-linejoin="round" />
<path d="M267.6 1136.0 C265.9 1138.3 265.6 1138.9 262.4 1142.9 C259.2 1146.9 259.6 1144.5 258.0 1148.0 C256.4 1151.5 257.8 1151.5 257.7 1153.3" stroke="#b46c38" stroke-width="1.0" fill="none" opacity="1" stroke-linecap="round" stroke-linejoin="round" />
<path d="M280.7 1149.0 C280.3 1148.3 280.1 1148.2 279.5 1147.0 C278.9 1145.8 279.2 1145.9 279.0 1145.3" stroke="#b46c38" stroke-width="0.9" fill="none" opacity="1" stroke-linecap="round" stroke-linejoin="round" />
<path d="M387.0 1130.7 C388.7 1132.1 389.3 1131.6 392.2 1135.0 C395.1 1138.4 393.1 1138.1 395.7 1141.0 C398.3 1143.9 397.7 1141.0 400.0 1143.7 C402.3 1146.4 401.8 1147.2 402.7 1149.0" stroke="#b46c38" stroke-width="1.0" fill="none" opacity="1" stroke-linecap="round" stroke-linejoin="round" />
<path d="M401.8 1132.4 C403.3 1134.4 404.1 1133.6 406.2 1138.5 C408.3 1143.4 407.4 1144.3 408.0 1147.2" stroke="#b46c38" stroke-width="1.0" fill="none" opacity="1" stroke-linecap="round" stroke-linejoin="round" />
<path d="M408.0 1129.0 C409.4 1131.3 410.3 1131.7 412.3 1136.0 C414.3 1140.3 413.4 1140.0 414.0 1142.0" stroke="#b46c38" stroke-width="1.0" fill="none" opacity="1" stroke-linecap="round" stroke-linejoin="round" />
<path d="M414.0 1125.5 C415.4 1127.5 416.4 1127.5 418.3 1131.5 C420.2 1135.5 419.2 1135.6 419.6 1137.6" stroke="#b46c38" stroke-width="1.0" fill="none" opacity="1" stroke-linecap="round" stroke-linejoin="round" />
<path d="M378.3 1145.0 C377.9 1144.3 377.8 1144.2 377.0 1143.0 C376.2 1141.8 376.3 1142.0 376.0 1141.5" stroke="#b46c38" stroke-width="0.9" fill="none" opacity="1" stroke-linecap="round" stroke-linejoin="round" />
<g opacity="0.75">
<path d="M206.0 248.0 C206.7 244.2 206.7 245.2 210.0 243.5 C213.3 241.8 212.3 242.2 216.0 243.0 C219.7 243.8 218.8 243.3 221.0 246.0 C223.2 248.7 222.8 247.7 222.5 251.0 C222.2 254.3 222.8 253.8 220.0 256.0 C217.2 258.2 218.0 257.8 214.0 257.5 C210.0 257.2 210.7 258.2 208.0 255.0 C205.3 251.8 205.3 251.8 206.0 248.0Z" fill="#f4e3bd" stroke="#d8b98a" stroke-width="0.7"/>
<path d="M215.0 255.0 C216.3 251.3 216.3 252.7 221.0 251.0 C225.7 249.3 225.0 249.0 229.0 250.0 C233.0 251.0 232.3 250.7 233.0 254.0 C233.7 257.3 234.0 257.0 231.0 260.0 C228.0 263.0 228.7 262.3 224.0 263.0 C219.3 263.7 220.0 264.7 217.0 262.0 C214.0 259.3 213.7 258.7 215.0 255.0Z" fill="#f6e8c8" stroke="#d8b98a" stroke-width="0.6"/>
</g>
<defs><linearGradient id="fadeb" x1="0" y1="0" x2="0" y2="1"><stop offset="0" stop-color="#efd9a4" stop-opacity="1"/><stop offset="1" stop-color="#f6ddc4" stop-opacity="0"/></linearGradient></defs>
<path d="M163 462 L160 490 L176 490 L178 466Z" fill="url(#fadeb)"/>
<path d="M178 463 L171 492 L183 492 L190 466Z" fill="url(#fadeb)"/>
<path d="M163.5 464 L160.5 482 M177 467 L174.5 482 M189.5 466.5 L184 484" stroke="#b08040" stroke-width="0.9" opacity="0.75" fill="none"/>
<path d="M185.0 378.0 C180.9 380.1 184.8 381.8 184.0 386.0 C183.2 390.2 183.1 389.4 182.0 393.7 C180.9 398.0 181.1 397.4 180.0 402.0 C178.9 406.6 179.3 406.3 178.0 411.0 C176.7 415.7 176.7 415.2 175.0 419.5 C173.3 423.8 173.6 423.3 171.6 427.0 C169.6 430.7 169.6 430.1 167.5 433.5 C165.4 436.9 165.4 436.9 163.7 439.6 C162.0 442.3 161.8 441.4 161.0 443.5 C160.2 445.6 160.5 445.5 160.6 447.5 C160.7 449.5 160.9 449.3 161.5 451.0 C162.1 452.7 163.0 452.4 163.0 454.0 C163.0 455.6 162.0 455.4 161.6 457.0 C161.2 458.6 161.0 458.4 161.4 460.0 C161.8 461.6 162.0 461.7 163.0 463.0 C164.0 464.3 163.8 464.0 165.3 465.0 C166.8 466.0 166.8 466.2 168.5 466.8 C170.2 467.4 170.0 467.8 171.6 467.3 C173.2 466.8 173.2 466.5 174.5 465.0 C175.8 463.5 174.9 463.0 176.4 461.8 C177.9 460.6 177.9 460.8 180.0 460.6 C182.1 460.4 182.4 460.1 184.3 461.0 C186.2 461.9 185.7 462.5 187.0 464.0 C188.3 465.5 187.7 466.6 189.0 466.5 C190.3 466.4 190.5 465.2 191.8 463.5 C193.1 461.8 192.3 461.3 193.8 460.0 C195.3 458.7 195.4 459.2 197.5 458.8 C199.6 458.4 200.0 459.2 201.7 458.6 C203.4 458.0 203.0 457.8 203.8 456.5 C204.6 455.2 204.5 455.5 204.6 453.9 C204.7 452.3 204.6 452.2 204.0 450.5 C203.4 448.8 203.5 449.6 202.5 447.5 C201.5 445.4 201.4 445.0 200.3 442.5 C199.2 440.0 199.2 441.3 198.5 438.0 C197.8 434.7 197.9 434.3 197.5 430.0 C197.1 425.7 197.2 427.1 197.0 422.0 C196.8 416.9 196.8 416.4 196.8 411.0 C196.8 405.6 196.7 406.4 197.0 401.6 C197.3 396.8 197.3 397.2 197.8 393.0 C198.3 388.8 198.5 389.8 198.9 385.8 C199.3 381.8 203.0 380.1 199.3 378.0 C195.6 375.9 189.1 375.9 185.0 378.0Z" fill="url(#boneg)" stroke="#a8763a" stroke-width="1"/>
<clipPath id="bnc"><path d="M185.0 378.0 C180.9 380.1 184.8 381.8 184.0 386.0 C183.2 390.2 183.1 389.4 182.0 393.7 C180.9 398.0 181.1 397.4 180.0 402.0 C178.9 406.6 179.3 406.3 178.0 411.0 C176.7 415.7 176.7 415.2 175.0 419.5 C173.3 423.8 173.6 423.3 171.6 427.0 C169.6 430.7 169.6 430.1 167.5 433.5 C165.4 436.9 165.4 436.9 163.7 439.6 C162.0 442.3 161.8 441.4 161.0 443.5 C160.2 445.6 160.5 445.5 160.6 447.5 C160.7 449.5 160.9 449.3 161.5 451.0 C162.1 452.7 163.0 452.4 163.0 454.0 C163.0 455.6 162.0 455.4 161.6 457.0 C161.2 458.6 161.0 458.4 161.4 460.0 C161.8 461.6 162.0 461.7 163.0 463.0 C164.0 464.3 163.8 464.0 165.3 465.0 C166.8 466.0 166.8 466.2 168.5 466.8 C170.2 467.4 170.0 467.8 171.6 467.3 C173.2 466.8 173.2 466.5 174.5 465.0 C175.8 463.5 174.9 463.0 176.4 461.8 C177.9 460.6 177.9 460.8 180.0 460.6 C182.1 460.4 182.4 460.1 184.3 461.0 C186.2 461.9 185.7 462.5 187.0 464.0 C188.3 465.5 187.7 466.6 189.0 466.5 C190.3 466.4 190.5 465.2 191.8 463.5 C193.1 461.8 192.3 461.3 193.8 460.0 C195.3 458.7 195.4 459.2 197.5 458.8 C199.6 458.4 200.0 459.2 201.7 458.6 C203.4 458.0 203.0 457.8 203.8 456.5 C204.6 455.2 204.5 455.5 204.6 453.9 C204.7 452.3 204.6 452.2 204.0 450.5 C203.4 448.8 203.5 449.6 202.5 447.5 C201.5 445.4 201.4 445.0 200.3 442.5 C199.2 440.0 199.2 441.3 198.5 438.0 C197.8 434.7 197.9 434.3 197.5 430.0 C197.1 425.7 197.2 427.1 197.0 422.0 C196.8 416.9 196.8 416.4 196.8 411.0 C196.8 405.6 196.7 406.4 197.0 401.6 C197.3 396.8 197.3 397.2 197.8 393.0 C198.3 388.8 198.5 389.8 198.9 385.8 C199.3 381.8 203.0 380.1 199.3 378.0 C195.6 375.9 189.1 375.9 185.0 378.0Z"/></clipPath>
<g clip-path="url(#bnc)">
<path d="M195 380 L194 438 L199 462 L207 458 L200 380Z" fill="#c4923e" opacity="0.5" filter="url(#b1)"/>
<path d="M160 452 L168 444 L180 447 L192 452 L204 450 L205 460 L160 470Z" fill="#d4aa58" opacity="0.45" filter="url(#b1)"/>
<path d="M176 430 C180 438 186 444 192 447" stroke="#c99e4c" stroke-width="2.5" fill="none" opacity="0.5" filter="url(#b1)"/>
<path d="M187 380 C186 400 182 420 170 440" stroke="#fbf0cf" stroke-width="4" fill="none" opacity="0.8" filter="url(#b1)"/>
<path d="M163.0 446.0 C164.7 447.0 164.3 448.5 168.0 449.0 C171.7 449.5 170.0 447.2 174.0 447.5 C178.0 447.8 176.0 448.5 180.0 450.0 C184.0 451.5 182.0 452.0 186.0 452.0 C190.0 452.0 187.7 450.0 192.0 450.0 C196.3 450.0 196.7 451.3 199.0 452.0" stroke="#b5863e" stroke-width="0.9" fill="none" opacity="0.8"/>
<path d="M165.0 455.0 C167.0 455.7 167.0 457.0 171.0 457.0 C175.0 457.0 173.3 454.8 177.0 455.0 C180.7 455.2 180.3 456.7 182.0 457.5" stroke="#b5863e" stroke-width="0.8" fill="none" opacity="0.7"/>
</g>
<path d="M193.3 267.0 C193.8 263.5 193.9 265.3 195.0 264.0 C196.1 262.7 195.6 263.2 197.5 262.3 C199.4 261.4 199.5 261.3 202.0 260.8 C204.5 260.3 204.3 260.4 207.0 260.4 C209.7 260.4 209.5 260.3 212.0 260.8 C214.5 261.3 214.2 261.2 216.5 262.3 C218.8 263.4 218.8 263.3 220.5 264.8 C222.2 266.3 222.0 265.9 223.0 268.0 C224.0 270.1 224.0 270.0 224.3 272.5 C224.6 275.0 224.7 274.8 224.0 277.5 C223.3 280.2 223.3 280.0 221.8 282.5 C220.3 285.0 220.2 284.7 218.4 287.0 C216.6 289.3 216.5 289.0 215.0 291.0 C213.5 293.0 213.9 291.7 212.7 294.6 C211.5 297.5 211.5 298.0 210.5 302.0 C209.5 306.0 209.7 305.2 208.9 309.7 C208.1 314.2 208.2 313.9 207.4 319.0 C206.6 324.1 206.8 323.6 206.0 328.7 C205.2 333.8 205.3 332.9 204.5 338.0 C203.7 343.1 203.8 342.6 203.0 347.7 C202.2 352.8 202.3 351.9 201.6 357.0 C200.9 362.1 200.9 362.3 200.3 366.7 C199.7 371.1 199.8 370.0 199.3 373.5 C198.8 377.0 200.8 378.0 198.6 380.0 C196.4 382.0 194.9 381.0 191.0 381.0 C187.1 381.0 185.5 382.5 184.0 380.0 C182.5 377.5 184.5 376.0 185.3 371.5 C186.1 367.0 186.1 367.8 187.0 363.0 C187.9 358.2 187.8 358.6 188.6 353.5 C189.4 348.4 189.3 349.1 190.0 344.0 C190.7 338.9 190.6 339.6 191.1 334.5 C191.6 329.4 191.5 330.1 192.0 325.0 C192.5 319.9 192.5 320.6 192.8 315.5 C193.1 310.4 193.1 311.1 193.3 306.0 C193.5 300.9 193.4 301.6 193.4 296.5 C193.4 291.4 193.4 292.2 193.3 287.0 C193.2 281.8 193.2 282.3 193.2 277.0 C193.2 271.7 192.8 270.5 193.3 267.0Z" fill="#f7ebcb" stroke="#97632e" stroke-width="1.15"/>
<path d="M196.0 270.0 C196.7 266.1 196.4 267.2 198.5 265.5 C200.6 263.8 200.7 263.9 204.0 263.5 C207.3 263.1 207.5 263.2 211.0 264.0 C214.5 264.8 214.5 264.6 217.0 266.5 C219.5 268.4 219.6 268.2 220.5 271.0 C221.4 273.8 221.4 273.8 220.5 277.0 C219.6 280.2 219.3 279.8 217.0 283.0 C214.7 286.2 214.1 285.5 212.0 289.0 C209.9 292.5 210.3 291.5 209.0 296.0 C207.7 300.5 207.9 300.7 207.0 306.0 C206.1 311.3 206.4 311.7 205.5 316.0 C204.6 320.3 205.1 321.5 203.5 322.0 C201.9 322.5 201.4 319.6 199.5 318.0 C197.6 316.4 197.6 319.2 196.5 316.0 C195.4 312.8 195.7 312.4 195.5 306.0 C195.3 299.6 195.7 298.9 195.8 292.0 C195.9 285.1 195.6 285.9 195.7 280.0 C195.8 274.1 195.3 273.9 196.0 270.0Z" fill="#e3ae8e"/>
<g opacity="0.9"><circle cx="201.6" cy="295.0" r="0.5" fill="#d59a78"/><circle cx="211.5" cy="267.7" r="0.4" fill="#d59a78"/><circle cx="202.1" cy="277.4" r="0.7" fill="#d59a78"/><circle cx="209.3" cy="295.3" r="0.5" fill="#cc9070"/><circle cx="201.4" cy="272.6" r="0.7" fill="#d59a78"/><circle cx="197.1" cy="307.2" r="0.6" fill="#f9e6cf"/><circle cx="202.4" cy="297.9" r="0.7" fill="#d59a78"/><circle cx="205.6" cy="309.7" r="0.5" fill="#cc9070"/><circle cx="217.9" cy="269.6" r="0.4" fill="#cc9070"/><circle cx="202.1" cy="302.3" r="0.6" fill="#f9e6cf"/><circle cx="210.1" cy="294.4" r="0.5" fill="#cc9070"/><circle cx="199.7" cy="313.1" r="0.7" fill="#f6dcc0"/><circle cx="213.7" cy="276.0" r="0.6" fill="#f9e6cf"/><circle cx="202.8" cy="267.6" r="0.6" fill="#d59a78"/><circle cx="197.8" cy="309.6" r="0.5" fill="#cc9070"/><circle cx="196.0" cy="288.3" r="0.5" fill="#f6dcc0"/><circle cx="196.6" cy="299.0" r="0.4" fill="#f9e6cf"/><circle cx="202.6" cy="277.4" r="0.4" fill="#f6dcc0"/><circle cx="197.5" cy="298.2" r="0.4" fill="#cc9070"/><circle cx="202.2" cy="303.3" r="0.7" fill="#f9e6cf"/><circle cx="203.5" cy="318.6" r="0.7" fill="#d59a78"/><circle cx="205.1" cy="313.6" r="0.5" fill="#f6dcc0"/><circle cx="208.4" cy="288.6" r="0.6" fill="#cc9070"/><circle cx="202.1" cy="281.3" r="0.5" fill="#d59a78"/><circle cx="205.1" cy="297.6" r="0.4" fill="#f9e6cf"/><circle cx="207.4" cy="302.7" r="0.5" fill="#f9e6cf"/><circle cx="214.3" cy="265.3" r="0.4" fill="#f6dcc0"/><circle cx="220.1" cy="278.3" r="0.5" fill="#f9e6cf"/><circle cx="200.0" cy="274.6" r="0.6" fill="#f9e6cf"/><circle cx="203.2" cy="285.5" r="0.6" fill="#f6dcc0"/><circle cx="198.9" cy="292.5" r="0.6" fill="#f9e6cf"/><circle cx="201.6" cy="274.7" r="0.5" fill="#f6dcc0"/><circle cx="198.1" cy="282.4" r="0.5" fill="#cc9070"/><circle cx="199.8" cy="283.2" r="0.6" fill="#d59a78"/><circle cx="202.4" cy="308.9" r="0.4" fill="#cc9070"/><circle cx="203.5" cy="311.7" r="0.6" fill="#f9e6cf"/><circle cx="204.2" cy="311.2" r="0.4" fill="#f9e6cf"/><circle cx="210.5" cy="288.0" r="0.5" fill="#f9e6cf"/><circle cx="207.4" cy="300.1" r="0.5" fill="#d59a78"/><circle cx="196.4" cy="287.6" r="0.4" fill="#d59a78"/><circle cx="201.2" cy="306.5" r="0.6" fill="#f9e6cf"/><circle cx="201.7" cy="266.0" r="0.6" fill="#cc9070"/><circle cx="210.2" cy="264.7" r="0.6" fill="#cc9070"/><circle cx="208.3" cy="277.6" r="0.4" fill="#d59a78"/><circle cx="196.9" cy="316.0" r="0.4" fill="#cc9070"/><circle cx="201.9" cy="313.1" r="0.5" fill="#f6dcc0"/><circle cx="204.5" cy="275.2" r="0.5" fill="#f6dcc0"/><circle cx="199.9" cy="309.1" r="0.7" fill="#cc9070"/><circle cx="216.5" cy="264.4" r="0.6" fill="#d59a78"/><circle cx="196.8" cy="279.5" r="0.4" fill="#d59a78"/><circle cx="196.8" cy="282.4" r="0.6" fill="#f6dcc0"/><circle cx="215.3" cy="266.6" r="0.4" fill="#d59a78"/><circle cx="197.7" cy="292.6" r="0.5" fill="#f9e6cf"/><circle cx="197.3" cy="286.0" r="0.5" fill="#f9e6cf"/><circle cx="204.7" cy="274.9" r="0.5" fill="#f6dcc0"/><circle cx="198.8" cy="264.2" r="0.6" fill="#f6dcc0"/><circle cx="210.0" cy="266.4" r="0.5" fill="#d59a78"/><circle cx="211.7" cy="266.5" r="0.7" fill="#f6dcc0"/><circle cx="205.0" cy="292.3" r="0.6" fill="#d59a78"/><circle cx="202.4" cy="297.6" r="0.6" fill="#cc9070"/><circle cx="202.2" cy="290.5" r="0.4" fill="#d59a78"/><circle cx="209.9" cy="269.9" r="0.6" fill="#f6dcc0"/><circle cx="207.6" cy="277.5" r="0.5" fill="#f6dcc0"/><circle cx="205.1" cy="310.7" r="0.5" fill="#f6dcc0"/><circle cx="196.1" cy="270.6" r="0.5" fill="#f9e6cf"/><circle cx="196.4" cy="307.7" r="0.5" fill="#cc9070"/><circle cx="198.2" cy="306.7" r="0.7" fill="#f6dcc0"/><circle cx="200.1" cy="268.4" r="0.7" fill="#cc9070"/><circle cx="207.1" cy="303.9" r="0.7" fill="#f9e6cf"/><circle cx="204.9" cy="286.6" r="0.5" fill="#d59a78"/><circle cx="201.5" cy="317.0" r="0.6" fill="#cc9070"/><circle cx="206.1" cy="296.4" r="0.6" fill="#d59a78"/><circle cx="199.5" cy="286.9" r="0.7" fill="#cc9070"/><circle cx="197.9" cy="306.6" r="0.7" fill="#d59a78"/><circle cx="199.0" cy="306.9" r="0.4" fill="#f9e6cf"/><circle cx="203.3" cy="279.3" r="0.6" fill="#cc9070"/><circle cx="199.9" cy="284.5" r="0.5" fill="#cc9070"/><circle cx="206.2" cy="303.8" r="0.6" fill="#cc9070"/><circle cx="207.8" cy="305.1" r="0.6" fill="#d59a78"/><circle cx="196.7" cy="315.9" r="0.7" fill="#f6dcc0"/><circle cx="201.7" cy="274.8" r="0.4" fill="#cc9070"/><circle cx="196.4" cy="317.2" r="0.4" fill="#f6dcc0"/><circle cx="203.5" cy="288.1" r="0.6" fill="#f6dcc0"/><circle cx="198.5" cy="279.1" r="0.7" fill="#f6dcc0"/><circle cx="204.6" cy="297.1" r="0.6" fill="#f6dcc0"/><circle cx="196.2" cy="282.9" r="0.5" fill="#f6dcc0"/><circle cx="200.9" cy="297.4" r="0.7" fill="#d59a78"/><circle cx="198.7" cy="282.2" r="0.7" fill="#f6dcc0"/><circle cx="212.5" cy="270.4" r="0.7" fill="#f9e6cf"/><circle cx="198.0" cy="317.7" r="0.5" fill="#f9e6cf"/><circle cx="214.8" cy="280.8" r="0.6" fill="#f9e6cf"/><circle cx="198.2" cy="317.8" r="0.5" fill="#f6dcc0"/><circle cx="212.5" cy="293.0" r="0.4" fill="#f9e6cf"/><circle cx="200.1" cy="300.8" r="0.6" fill="#cc9070"/><circle cx="207.1" cy="270.2" r="0.5" fill="#f9e6cf"/><circle cx="206.2" cy="281.1" r="0.4" fill="#d59a78"/><circle cx="203.5" cy="274.1" r="0.4" fill="#cc9070"/><circle cx="214.4" cy="284.5" r="0.4" fill="#d59a78"/><circle cx="196.9" cy="271.8" r="0.5" fill="#f9e6cf"/><circle cx="201.8" cy="307.8" r="0.5" fill="#f9e6cf"/><circle cx="216.1" cy="267.9" r="0.5" fill="#f6dcc0"/><circle cx="199.4" cy="297.6" r="0.6" fill="#f6dcc0"/><circle cx="200.2" cy="274.8" r="0.5" fill="#d59a78"/><circle cx="210.6" cy="272.3" r="0.5" fill="#cc9070"/><circle cx="209.4" cy="273.7" r="0.4" fill="#f9e6cf"/><circle cx="204.9" cy="280.7" r="0.6" fill="#d59a78"/><circle cx="205.3" cy="295.5" r="0.6" fill="#d59a78"/><circle cx="203.1" cy="313.0" r="0.5" fill="#cc9070"/><circle cx="214.0" cy="264.1" r="0.6" fill="#cc9070"/><circle cx="208.0" cy="293.8" r="0.5" fill="#cc9070"/><circle cx="215.4" cy="276.1" r="0.6" fill="#d59a78"/><circle cx="198.3" cy="280.1" r="0.6" fill="#cc9070"/><circle cx="199.0" cy="309.2" r="0.6" fill="#f6dcc0"/><circle cx="196.2" cy="299.2" r="0.5" fill="#d59a78"/><circle cx="203.7" cy="313.6" r="0.6" fill="#cc9070"/><circle cx="197.6" cy="311.8" r="0.6" fill="#f6dcc0"/><circle cx="204.3" cy="310.0" r="0.7" fill="#cc9070"/><circle cx="206.6" cy="307.1" r="0.5" fill="#f6dcc0"/><circle cx="215.6" cy="287.3" r="0.6" fill="#cc9070"/><circle cx="205.5" cy="291.0" r="0.4" fill="#d59a78"/><circle cx="200.8" cy="291.9" r="0.4" fill="#d59a78"/><circle cx="214.8" cy="286.9" r="0.4" fill="#f6dcc0"/><circle cx="213.9" cy="284.9" r="0.5" fill="#f9e6cf"/><circle cx="210.7" cy="276.8" r="0.4" fill="#cc9070"/><circle cx="202.1" cy="285.1" r="0.6" fill="#cc9070"/><circle cx="199.6" cy="265.3" r="0.6" fill="#cc9070"/><circle cx="211.7" cy="271.9" r="0.6" fill="#d59a78"/><circle cx="208.0" cy="267.4" r="0.4" fill="#d59a78"/><circle cx="203.6" cy="265.9" r="0.6" fill="#cc9070"/><circle cx="205.8" cy="286.6" r="0.4" fill="#cc9070"/><circle cx="201.7" cy="286.2" r="0.4" fill="#f9e6cf"/><circle cx="211.4" cy="283.7" r="0.4" fill="#f6dcc0"/><circle cx="216.1" cy="280.6" r="0.7" fill="#d59a78"/><circle cx="208.0" cy="296.0" r="0.4" fill="#f9e6cf"/><circle cx="211.5" cy="283.7" r="0.4" fill="#d59a78"/><circle cx="197.8" cy="273.7" r="0.4" fill="#f6dcc0"/><circle cx="200.3" cy="293.1" r="0.5" fill="#d59a78"/><circle cx="204.2" cy="291.3" r="0.5" fill="#f6dcc0"/><circle cx="205.2" cy="306.8" r="0.6" fill="#d59a78"/><circle cx="197.7" cy="280.7" r="0.6" fill="#f6dcc0"/><circle cx="208.4" cy="295.2" r="0.5" fill="#d59a78"/><circle cx="200.0" cy="306.2" r="0.6" fill="#f9e6cf"/><circle cx="206.1" cy="277.1" r="0.6" fill="#d59a78"/><circle cx="204.3" cy="310.8" r="0.5" fill="#d59a78"/><circle cx="219.7" cy="266.4" r="0.4" fill="#f6dcc0"/><circle cx="216.5" cy="269.2" r="0.6" fill="#f6dcc0"/><circle cx="203.7" cy="298.2" r="0.6" fill="#f6dcc0"/><circle cx="214.2" cy="283.0" r="0.5" fill="#f6dcc0"/><circle cx="200.5" cy="308.9" r="0.7" fill="#f9e6cf"/><circle cx="210.0" cy="270.3" r="0.4" fill="#cc9070"/><circle cx="201.6" cy="266.8" r="0.4" fill="#cc9070"/><circle cx="210.4" cy="264.7" r="0.4" fill="#cc9070"/><circle cx="201.1" cy="296.1" r="0.5" fill="#f9e6cf"/><circle cx="200.3" cy="274.1" r="0.4" fill="#f6dcc0"/><circle cx="198.1" cy="317.8" r="0.4" fill="#f6dcc0"/><circle cx="207.4" cy="276.7" r="0.6" fill="#f6dcc0"/><circle cx="217.7" cy="283.7" r="0.6" fill="#d59a78"/><circle cx="215.3" cy="280.6" r="0.7" fill="#d59a78"/></g>
<path d="M196.0 270.0 C196.7 268.8 196.4 267.2 198.5 265.5 C200.6 263.8 200.7 263.9 204.0 263.5 C207.3 263.1 207.5 263.2 211.0 264.0 C214.5 264.8 214.5 264.6 217.0 266.5 C219.5 268.4 219.6 268.2 220.5 271.0 C221.4 273.8 221.4 273.8 220.5 277.0 C219.6 280.2 219.3 279.8 217.0 283.0 C214.7 286.2 214.1 285.5 212.0 289.0 C209.9 292.5 210.3 291.5 209.0 296.0 C207.7 300.5 207.9 300.1 207.0 306.0 C206.1 311.9 206.4 311.1 205.5 318.0 C204.6 324.9 204.7 323.5 203.5 332.0 C202.3 340.5 202.3 340.4 201.0 350.0 C199.7 359.6 199.6 360.8 198.5 368.0 C197.4 375.2 197.4 374.6 197.0 377.0" fill="none" stroke="#caa468" stroke-width="0.6" stroke-dasharray="1.4 1" opacity="0.9"/>
<path d="M195.7 280.0 C195.7 285.3 196.1 288.8 195.8 300.0 C195.5 311.2 195.4 310.8 194.5 322.0 C193.6 333.2 193.8 331.3 192.5 342.0 C191.2 352.7 191.0 352.7 189.5 362.0 C188.0 371.3 187.7 373.0 187.0 377.0" fill="none" stroke="#caa468" stroke-width="0.6" stroke-dasharray="1.4 1" opacity="0.9"/>
<defs><linearGradient id="marg" x1="0" y1="0" x2="1" y2="0"><stop offset="0" stop-color="#a85a3a"/><stop offset="0.5" stop-color="#c98058"/><stop offset="1" stop-color="#e0a880"/></linearGradient></defs>
<path d="M196.8 318.5 C197.5 319.3 197.7 320.9 198.2 325.0 C198.7 329.1 198.7 328.7 198.8 334.0 C198.9 339.3 198.7 339.1 198.6 345.0 C198.5 350.9 198.6 350.4 198.3 356.0 C198.0 361.6 198.1 361.2 197.6 366.0 C197.1 370.8 197.7 371.2 196.6 374.0 C195.5 376.8 195.3 376.2 193.5 376.5 C191.7 376.8 191.0 377.0 190.0 375.0 C189.0 373.0 189.6 372.7 189.8 369.0 C190.0 365.3 190.1 365.8 190.6 361.0 C191.1 356.2 191.1 356.6 191.8 351.0 C192.5 345.4 192.5 345.6 193.2 340.0 C193.9 334.4 194.0 334.8 194.6 330.0 C195.2 325.2 195.0 325.1 195.6 322.0 C196.2 318.9 196.1 317.7 196.8 318.5Z" fill="url(#marg)" stroke="#9a5a38" stroke-width="0.5"/>
<ellipse cx="191.5" cy="380" rx="7.3" ry="1.8" fill="none" stroke="#a8763a" stroke-width="0.7" opacity="0.7"/>
<g opacity="1">
<path d="M329.6 458.0 C330.2 452.0 330.2 452.7 331.5 440.0 C332.8 427.3 332.4 433.3 333.5 420.0 C334.6 406.7 334.2 414.7 334.7 400.0 C335.2 385.3 334.8 384.0 334.9 376.0 M305.9 374.5 C305.9 378.0 305.6 377.0 306.0 385.0 C306.4 393.0 306.7 388.3 307.0 398.5 C307.3 408.7 306.5 407.1 307.0 415.6 C307.5 424.1 307.9 421.2 308.4 424.0 M307.0 398.5 C304.0 399.5 303.7 398.7 298.0 401.5 C292.3 404.3 292.5 405.2 289.8 407.0 M307.0 415.6 C304.0 416.7 302.7 418.0 298.0 419.0 C293.3 420.0 294.7 418.7 293.0 418.5" stroke="#fff" stroke-opacity="0.45" stroke-width="3.6" fill="none" stroke-linecap="round" stroke-linejoin="round"/>
<path d="M307.0 415.6 C304.0 416.7 302.7 418.0 298.0 419.0 C293.3 420.0 294.7 418.7 293.0 418.5" stroke="#30a927" stroke-width="1.69" fill="none" stroke-linecap="round" stroke-linejoin="round"/>
<path d="M307.0 398.5 C304.0 399.5 303.7 398.7 298.0 401.5 C292.3 404.3 292.5 405.2 289.8 407.0" stroke="#30a927" stroke-width="1.82" fill="none" stroke-linecap="round" stroke-linejoin="round"/>
<path d="M305.9 374.5 C305.9 378.0 305.6 377.0 306.0 385.0 C306.4 393.0 306.7 388.3 307.0 398.5 C307.3 408.7 306.5 407.1 307.0 415.6 C307.5 424.1 307.9 421.2 308.4 424.0" stroke="#30a927" stroke-width="2.41" fill="none" stroke-linecap="round" stroke-linejoin="round"/>
<path d="M329.6 458.0 C330.2 452.0 330.2 452.7 331.5 440.0 C332.8 427.3 332.4 433.3 333.5 420.0 C334.6 406.7 334.2 414.7 334.7 400.0 C335.2 385.3 334.8 384.0 334.9 376.0" stroke="#2d8c20" stroke-width="3.79" fill="none" stroke-linecap="round" stroke-linejoin="round"/>
<path d="M329.6 458.0 C330.2 452.0 330.2 452.7 331.5 440.0 C332.8 427.3 332.4 433.3 333.5 420.0 C334.6 406.7 334.2 414.7 334.7 400.0 C335.2 385.3 334.8 384.0 334.9 376.0" stroke="#63c84a" stroke-width="2.29" fill="none" stroke-linecap="round" stroke-linejoin="round" transform="translate(-0.35,0)"/>
<ellipse cx="307.0" cy="398.5" rx="2.2" ry="3.5" transform="rotate(0 307.0 398.5)" fill="url(#ndg)" stroke="#35a026" stroke-width="0.9"/>
<ellipse cx="307.0" cy="415.6" rx="2.2" ry="3.5" transform="rotate(0 307.0 415.6)" fill="url(#ndg)" stroke="#35a026" stroke-width="0.9"/>
</g>
<path d="M243.2 390.9 C244.4 383.1 242.9 387.1 246.3 381.6 C249.7 376.1 247.0 377.8 253.5 374.4 C260.0 371.0 256.3 372.3 265.9 371.3 C275.5 370.3 272.0 370.6 282.3 371.3 C292.6 372.0 287.1 371.8 296.7 373.4 C306.3 375.0 300.7 374.5 311.0 376.0 C321.3 377.5 315.9 377.0 327.6 378.0 C339.3 379.0 337.5 378.6 346.0 379.0 C354.5 379.4 349.3 378.9 353.0 379.2 C356.7 379.5 357.3 377.5 357.0 380.0 C356.7 382.5 356.5 381.4 352.2 386.7 C347.9 392.0 350.2 390.2 344.0 396.0 C337.8 401.8 341.2 399.1 333.7 404.2 C326.2 409.3 329.6 406.3 321.4 411.4 C313.2 416.5 317.2 414.1 309.0 419.6 C300.8 425.1 304.9 423.4 296.7 427.9 C288.5 432.4 293.3 430.0 284.4 433.0 C275.5 436.0 279.6 434.5 270.0 437.0 C260.4 439.5 262.9 438.9 255.6 440.6 C248.3 442.3 251.5 441.9 248.0 442.0 C244.5 442.1 246.7 443.7 245.0 441.0 C243.3 438.3 243.3 440.4 242.8 434.0 C242.3 427.6 243.6 431.4 243.6 421.7 C243.6 412.0 242.9 415.3 242.8 405.0 C242.7 394.7 242.0 398.7 243.2 390.9Z" fill="url(#liverg)" stroke="#7e2a34" stroke-width="0.8"/>
<clipPath id="lvc"><path d="M243.2 390.9 C244.4 383.1 242.9 387.1 246.3 381.6 C249.7 376.1 247.0 377.8 253.5 374.4 C260.0 371.0 256.3 372.3 265.9 371.3 C275.5 370.3 272.0 370.6 282.3 371.3 C292.6 372.0 287.1 371.8 296.7 373.4 C306.3 375.0 300.7 374.5 311.0 376.0 C321.3 377.5 315.9 377.0 327.6 378.0 C339.3 379.0 337.5 378.6 346.0 379.0 C354.5 379.4 349.3 378.9 353.0 379.2 C356.7 379.5 357.3 377.5 357.0 380.0 C356.7 382.5 356.5 381.4 352.2 386.7 C347.9 392.0 350.2 390.2 344.0 396.0 C337.8 401.8 341.2 399.1 333.7 404.2 C326.2 409.3 329.6 406.3 321.4 411.4 C313.2 416.5 317.2 414.1 309.0 419.6 C300.8 425.1 304.9 423.4 296.7 427.9 C288.5 432.4 293.3 430.0 284.4 433.0 C275.5 436.0 279.6 434.5 270.0 437.0 C260.4 439.5 262.9 438.9 255.6 440.6 C248.3 442.3 251.5 441.9 248.0 442.0 C244.5 442.1 246.7 443.7 245.0 441.0 C243.3 438.3 243.3 440.4 242.8 434.0 C242.3 427.6 243.6 431.4 243.6 421.7 C243.6 412.0 242.9 415.3 242.8 405.0 C242.7 394.7 242.0 398.7 243.2 390.9Z"/></clipPath>
<g clip-path="url(#lvc)">
<ellipse cx="272" cy="381" rx="30" ry="7" fill="#dc8c88" opacity="0.5" filter="url(#b2)" transform="rotate(-6 272 381)"/>
<path d="M246 395 C247 410 246 425 249 440" stroke="#c96d6d" stroke-width="3" fill="none" opacity="0.5" filter="url(#b1)"/>
<path d="M305 374 L360 378 L345 398 L318 413 L303 422 C300 410 303 390 305 374Z" fill="#d27080" opacity="0.5" filter="url(#b1)"/>
<path d="M357.0 381.0 C349.7 388.7 354.0 389.8 335.0 404.0 C316.0 418.2 324.3 412.3 300.0 423.5 C275.7 434.7 279.7 431.3 262.0 437.5 C244.3 443.7 252.0 440.5 247.0 442.0" fill="none" stroke="#7a2636" stroke-width="4" opacity="0.3" filter="url(#b2)"/>
<path d="M305.6 372 C305 385 304.5 400 304.8 412 C305 420 305.5 425 306 430" stroke="#e0b0b0" stroke-width="1.2" fill="none" opacity="0.6"/>
<path d="M306 372 L306.5 385 L307 398 L307.5 412 L308.2 428" stroke="#a99068" stroke-width="2.6" fill="none" opacity="0.9" stroke-linecap="round"/>
<ellipse cx="306.4" cy="381.6" rx="2.6" ry="3.6" fill="#b09a6c" opacity="0.95"/><ellipse cx="306.09999999999997" cy="381.20000000000005" rx="1.3" ry="2.2" fill="#c9b888" opacity="0.8"/>
<ellipse cx="307" cy="398" rx="2.6" ry="3.6" fill="#b09a6c" opacity="0.95"/><ellipse cx="306.7" cy="397.6" rx="1.3" ry="2.2" fill="#c9b888" opacity="0.8"/>
<ellipse cx="307.6" cy="415.5" rx="2.6" ry="3.6" fill="#b09a6c" opacity="0.95"/><ellipse cx="307.3" cy="415.1" rx="1.3" ry="2.2" fill="#c9b888" opacity="0.8"/>
<path d="M307 398 C302 398.5 297 400.5 289.5 406" stroke="#b09070" stroke-width="2.2" fill="none" opacity="0.85" stroke-linecap="round"/>
<path d="M298 400 C296 402 294 402 291 401.5" stroke="#b09070" stroke-width="1.4" fill="none" opacity="0.7" stroke-linecap="round"/>
<path d="M307.6 415.5 C302 416.5 297.5 419 293.6 421.7" stroke="#b09070" stroke-width="2" fill="none" opacity="0.85" stroke-linecap="round"/>
<path d="M290 405 C288 407 286.5 408.5 285 409 M294 421.5 C292 423 290.5 424 289 424.5" stroke="#dcb0a8" stroke-width="1.2" fill="none" opacity="0.7" stroke-linecap="round"/>
<path d="M335.6 378.5 C335 388 334.2 398 333.6 408" stroke="#a3925c" stroke-width="3.8" fill="none" opacity="0.9"/>
<path d="M333.8 400 C330 403 326 406 321.4 409.4" stroke="#a3925c" stroke-width="2.4" fill="none" opacity="0.85" stroke-linecap="round"/>
<path d="M356 381.5 C350 386.5 343 392 336 397.5" stroke="#a3925c" stroke-width="2.4" fill="none" opacity="0.75" stroke-linecap="round"/>
</g>
<path d="M356.4 409.6 C357.2 406.8 356.4 407.4 358.5 404.5 C360.6 401.6 359.5 402.7 362.7 401.0 C365.9 399.3 364.6 400.0 368.0 399.3 C371.4 398.6 369.3 398.3 373.0 399.0 C376.7 399.7 375.0 399.2 379.0 401.5 C383.0 403.8 381.3 402.7 385.0 406.0 C388.7 409.3 387.0 407.5 390.0 411.5 C393.0 415.5 391.7 413.2 394.0 418.0 C396.3 422.8 395.7 420.7 397.0 426.0 C398.3 431.3 397.7 428.8 398.0 434.0 C398.3 439.2 398.5 436.8 397.8 441.5 C397.1 446.2 397.7 444.2 395.8 448.0 C393.9 451.8 394.9 450.1 392.0 453.0 C389.1 455.9 390.3 454.6 387.0 456.6 C383.7 458.6 385.5 457.9 382.0 459.0 C378.5 460.1 379.7 460.2 376.6 460.0 C373.5 459.8 374.9 460.2 372.8 458.5 C370.7 456.8 371.7 458.5 370.4 455.0 C369.1 451.5 369.8 452.7 369.0 448.0 C368.2 443.3 368.8 445.7 368.0 441.0 C367.2 436.3 367.7 438.7 366.5 434.0 C365.3 429.3 366.2 431.2 364.4 427.0 C362.6 422.8 363.3 425.0 361.0 421.5 C358.7 418.0 359.2 419.4 357.5 416.6 C355.8 413.8 356.4 415.3 356.0 413.0 C355.6 410.7 355.6 412.4 356.4 409.6Z" fill="url(#spleeng)" stroke="#5d2b73" stroke-width="0.9"/>
<clipPath id="spc"><path d="M356.4 409.6 C357.2 406.8 356.4 407.4 358.5 404.5 C360.6 401.6 359.5 402.7 362.7 401.0 C365.9 399.3 364.6 400.0 368.0 399.3 C371.4 398.6 369.3 398.3 373.0 399.0 C376.7 399.7 375.0 399.2 379.0 401.5 C383.0 403.8 381.3 402.7 385.0 406.0 C388.7 409.3 387.0 407.5 390.0 411.5 C393.0 415.5 391.7 413.2 394.0 418.0 C396.3 422.8 395.7 420.7 397.0 426.0 C398.3 431.3 397.7 428.8 398.0 434.0 C398.3 439.2 398.5 436.8 397.8 441.5 C397.1 446.2 397.7 444.2 395.8 448.0 C393.9 451.8 394.9 450.1 392.0 453.0 C389.1 455.9 390.3 454.6 387.0 456.6 C383.7 458.6 385.5 457.9 382.0 459.0 C378.5 460.1 379.7 460.2 376.6 460.0 C373.5 459.8 374.9 460.2 372.8 458.5 C370.7 456.8 371.7 458.5 370.4 455.0 C369.1 451.5 369.8 452.7 369.0 448.0 C368.2 443.3 368.8 445.7 368.0 441.0 C367.2 436.3 367.7 438.7 366.5 434.0 C365.3 429.3 366.2 431.2 364.4 427.0 C362.6 422.8 363.3 425.0 361.0 421.5 C358.7 418.0 359.2 419.4 357.5 416.6 C355.8 413.8 356.4 415.3 356.0 413.0 C355.6 410.7 355.6 412.4 356.4 409.6Z"/></clipPath>
<g clip-path="url(#spc)">
<path d="M362 409 C368 402 380 405 388 416" stroke="#c49ccc" stroke-width="2.5" fill="none" opacity="0.55" filter="url(#b1)"/>
<path d="M376 416 C384 426 387 440 383 454" stroke="#c58cbc" stroke-width="5" fill="none" opacity="0.5" filter="url(#b2)"/>
<circle cx="377.5" cy="421" r="1.6" fill="#d4a0c8" opacity="0.55" filter="url(#b1)"/>
<circle cx="380.5" cy="428.5" r="1.8" fill="#d4a0c8" opacity="0.55" filter="url(#b1)"/>
<circle cx="382.5" cy="437" r="1.7" fill="#d4a0c8" opacity="0.55" filter="url(#b1)"/>
<circle cx="381" cy="445" r="1.6" fill="#d4a0c8" opacity="0.55" filter="url(#b1)"/>
<circle cx="386" cy="424" r="1.3" fill="#d4a0c8" opacity="0.55" filter="url(#b1)"/>
<circle cx="388.5" cy="434" r="1.3" fill="#d4a0c8" opacity="0.55" filter="url(#b1)"/>
<path d="M392.5 416.5 q-3 0.8 -4.6 2.6" stroke="#6e3486" stroke-width="1" fill="none" opacity="0.55"/>
<path d="M396.3 425.0 q-3 0.8 -4.6 2.6" stroke="#6e3486" stroke-width="1" fill="none" opacity="0.55"/>
<path d="M397.6 434.5 q-3 0.8 -4.6 2.6" stroke="#6e3486" stroke-width="1" fill="none" opacity="0.55"/>
<path d="M396.6 444.0 q-3 0.8 -4.6 2.6" stroke="#6e3486" stroke-width="1" fill="none" opacity="0.55"/>
<path d="M398.0 430.0 C397.3 436.0 399.7 439.0 396.0 448.0 C392.3 457.0 393.7 452.8 387.0 457.0 C380.3 461.2 381.7 461.2 376.0 460.5 C370.3 459.8 372.0 456.8 370.0 455.0" fill="none" stroke="#5e2a78" stroke-width="4" opacity="0.35" filter="url(#b1)"/>
</g>
<path d="M321.4 283.8 C319.4 284.1 319.3 283.3 317.8 285.8 C316.3 288.3 317.7 287.7 317.0 291.4 C316.3 295.1 316.3 293.2 315.8 296.9 C315.3 300.6 314.9 299.2 315.4 302.4 C315.9 305.6 315.5 304.5 317.4 306.4 C319.3 308.3 318.8 308.1 321.0 308.0 C323.2 307.9 322.5 307.7 324.1 306.0 C325.7 304.3 324.5 302.9 325.7 302.8 C326.9 302.7 326.1 304.3 327.7 305.6 C329.3 306.9 328.7 307.1 330.5 306.8 C332.3 306.5 331.9 307.1 333.2 304.8 C334.5 302.5 334.4 303.2 334.4 300.0 C334.4 296.8 333.9 298.4 333.2 295.3 C332.5 292.2 333.0 293.4 332.4 290.6 C331.8 287.8 332.6 288.9 331.3 287.0 C330.0 285.1 330.2 285.3 328.5 285.0 C326.8 284.7 327.3 285.3 326.1 286.2 C324.9 287.1 325.7 288.2 324.9 287.8 C324.1 287.4 324.9 286.3 323.7 285.0 C322.5 283.7 323.4 283.5 321.4 283.8Z" fill="#fff" opacity="0.6" stroke="#fff" stroke-width="2" stroke-opacity="0.6"/>
<path d="M321.4 283.8 C319.4 284.1 319.3 283.3 317.8 285.8 C316.3 288.3 317.7 287.7 317.0 291.4 C316.3 295.1 316.3 293.2 315.8 296.9 C315.3 300.6 314.9 299.2 315.4 302.4 C315.9 305.6 315.5 304.5 317.4 306.4 C319.3 308.3 318.8 308.1 321.0 308.0 C323.2 307.9 322.5 307.7 324.1 306.0 C325.7 304.3 324.5 302.9 325.7 302.8 C326.9 302.7 326.1 304.3 327.7 305.6 C329.3 306.9 328.7 307.1 330.5 306.8 C332.3 306.5 331.9 307.1 333.2 304.8 C334.5 302.5 334.4 303.2 334.4 300.0 C334.4 296.8 333.9 298.4 333.2 295.3 C332.5 292.2 333.0 293.4 332.4 290.6 C331.8 287.8 332.6 288.9 331.3 287.0 C330.0 285.1 330.2 285.3 328.5 285.0 C326.8 284.7 327.3 285.3 326.1 286.2 C324.9 287.1 325.7 288.2 324.9 287.8 C324.1 287.4 324.9 286.3 323.7 285.0 C322.5 283.7 323.4 283.5 321.4 283.8Z" fill="#e9990f" stroke="#c4700e" stroke-width="0.9"/>
<clipPath id="thc"><path d="M321.4 283.8 C319.4 284.1 319.3 283.3 317.8 285.8 C316.3 288.3 317.7 287.7 317.0 291.4 C316.3 295.1 316.3 293.2 315.8 296.9 C315.3 300.6 314.9 299.2 315.4 302.4 C315.9 305.6 315.5 304.5 317.4 306.4 C319.3 308.3 318.8 308.1 321.0 308.0 C323.2 307.9 322.5 307.7 324.1 306.0 C325.7 304.3 324.5 302.9 325.7 302.8 C326.9 302.7 326.1 304.3 327.7 305.6 C329.3 306.9 328.7 307.1 330.5 306.8 C332.3 306.5 331.9 307.1 333.2 304.8 C334.5 302.5 334.4 303.2 334.4 300.0 C334.4 296.8 333.9 298.4 333.2 295.3 C332.5 292.2 333.0 293.4 332.4 290.6 C331.8 287.8 332.6 288.9 331.3 287.0 C330.0 285.1 330.2 285.3 328.5 285.0 C326.8 284.7 327.3 285.3 326.1 286.2 C324.9 287.1 325.7 288.2 324.9 287.8 C324.1 287.4 324.9 286.3 323.7 285.0 C322.5 283.7 323.4 283.5 321.4 283.8Z"/></clipPath><g clip-path="url(#thc)">
<ellipse cx="320.5" cy="291" rx="2.6" ry="5" fill="#f9cc38" opacity="0.85" filter="url(#b1)"/>
<ellipse cx="328.5" cy="291.5" rx="2.3" ry="4.5" fill="#f6c032" opacity="0.7" filter="url(#b1)"/>
<ellipse cx="319.5" cy="301" rx="2.2" ry="3" fill="#f3b428" opacity="0.6" filter="url(#b1)"/>
<path d="M325 288 C324.5 294 326 299 325.7 303" stroke="#c06a0c" stroke-width="1.2" fill="none" opacity="0.75"/>
<path d="M317 296 q2.5 1.5 5 0 M318 302 q2 1 4 0 M327.5 297 q2.5 1.5 5.5 0 M328 302.5 q2 1 4 0" stroke="#c8780e" stroke-width="0.8" fill="none" opacity="0.7"/>
</g>
<defs><linearGradient id="fmg" gradientUnits="userSpaceOnUse" x1="0" y1="128" x2="0" y2="228"><stop offset="0" stop-color="#fff" stop-opacity="0.18"/><stop offset="0.55" stop-color="#fff" stop-opacity="0.42"/><stop offset="1" stop-color="#fff" stop-opacity="1"/></linearGradient><mask id="fm" maskUnits="userSpaceOnUse" x="250" y="100" width="140" height="160"><rect x="250" y="100" width="140" height="160" fill="url(#fmg)"/></mask></defs>
<g mask="url(#fm)"><g opacity="1">
<path d="M290.6 133.7 C290.9 139.0 290.9 139.6 291.4 149.6 C291.9 159.6 290.7 155.9 292.0 163.8 C293.3 171.7 294.7 165.9 295.3 173.3 C295.9 180.7 294.8 177.6 293.7 186.0 C292.6 194.4 293.0 191.3 292.0 198.6 C291.0 205.9 292.7 202.2 290.6 208.0 C288.5 213.8 290.0 211.7 285.8 216.0 C281.6 220.3 282.3 218.1 278.0 220.8 C273.7 223.5 274.7 222.9 273.0 224.0 M300.9 133.7 C300.4 139.0 300.4 140.2 299.3 149.6 C298.2 159.0 298.5 154.1 297.7 162.0 C296.9 169.9 296.7 165.3 297.0 173.3 C297.3 181.3 298.8 177.6 298.5 186.0 C298.2 194.4 296.3 190.3 296.0 198.6 C295.7 206.9 296.6 203.6 297.7 211.0 C298.8 218.4 299.0 214.5 299.3 220.8 C299.6 227.1 298.8 226.9 298.5 230.0 M336.5 133.7 C337.0 139.0 336.4 139.6 338.0 149.6 C339.6 159.6 339.1 154.3 341.2 163.8 C343.3 173.3 343.9 169.6 344.4 178.0 C344.9 186.4 341.8 181.7 342.8 189.0 C343.8 196.3 344.9 193.7 347.5 200.0 C350.1 206.3 348.6 202.1 350.7 208.0 C352.8 213.9 351.3 211.3 353.9 217.6 C356.5 223.9 355.4 221.2 358.6 227.0 C361.8 232.8 361.8 232.3 363.4 235.0 M347.5 133.7 C347.0 137.9 346.0 138.5 346.0 146.4 C346.0 154.3 345.9 149.6 347.5 157.5 C349.1 165.4 348.9 162.2 350.7 170.0 C352.5 177.8 352.5 173.7 353.0 181.0 C353.5 188.3 352.8 184.0 352.3 192.0 C351.8 200.0 351.0 196.5 351.5 205.0 C352.0 213.5 353.1 213.4 353.9 217.6 M308.0 162.0 C307.5 166.8 307.7 167.5 306.4 176.5 C305.1 185.5 305.6 181.2 304.0 189.0 C302.4 196.8 302.9 192.7 301.6 200.0 C300.3 207.3 300.5 207.3 300.0 211.0 M313.5 182.8 C311.7 185.4 312.0 185.4 308.0 190.7 C304.0 196.0 305.3 193.8 301.6 198.6 C297.9 203.4 298.5 202.9 297.0 205.0 M330.0 162.0 C331.1 165.8 330.6 165.8 333.3 173.3 C336.0 180.8 334.8 177.5 338.0 184.4 C341.2 191.3 339.6 188.7 342.8 193.9 C346.0 199.1 345.9 198.0 347.5 200.0 M292.0 163.8 C293.0 165.9 293.3 166.8 295.0 170.0 C296.7 173.2 296.3 172.2 297.0 173.3 M297.0 173.3 C296.3 175.5 296.1 175.8 295.0 180.0 C293.9 184.2 294.1 184.0 293.7 186.0 M298.5 186.0 C297.3 188.0 297.2 187.8 295.0 192.0 C292.8 196.2 293.0 196.4 292.0 198.6 M292.0 198.6 C293.0 200.7 293.1 200.9 295.0 205.0 C296.9 209.1 296.8 209.0 297.7 211.0 M341.2 163.8 C342.8 165.2 342.8 165.9 346.0 168.0 C349.2 170.1 349.1 169.3 350.7 170.0 M344.4 178.0 C345.9 178.7 346.1 179.0 349.0 180.0 C351.9 181.0 351.7 180.7 353.0 181.0 M351.4 200.0 C351.8 204.0 351.1 204.9 352.5 211.9 C353.9 218.9 353.9 216.3 355.5 221.0 C357.1 225.7 356.7 224.3 357.3 226.0" stroke="#fff" stroke-opacity="0.45" stroke-width="3.6" fill="none" stroke-linecap="round" stroke-linejoin="round"/>
<path d="M341.4 207.3 L342.0 206.9 L342.5 206.6 L342.9 206.3 L343.4 206.0 L344.1 205.6 L345.2 205.2 L346.3 204.8 L347.0 204.6 L347.5 204.5 L347.9 204.4 L348.4 204.4 L349.0 204.2 L349.0 203.8 L348.4 203.7 L348.0 203.6 L347.5 203.5 L346.8 203.5 L346.0 203.6 L344.8 203.8 L343.6 204.2 L342.7 204.5 L342.1 204.8 L341.6 205.1 L341.1 205.4 L340.6 205.7Z M291.5 133.6 L291.4 133.0 L291.3 132.6 L291.3 132.1 L291.2 131.6 L291.1 130.9 L291.0 130.0 L291.0 129.1 L290.9 128.5 L290.9 128.1 L290.9 127.8 L290.9 127.5 L290.8 127.0 L290.4 127.0 L290.2 127.4 L290.1 127.6 L289.9 128.0 L289.8 128.4 L289.7 129.0 L289.6 130.0 L289.6 131.0 L289.6 131.7 L289.6 132.3 L289.6 132.8 L289.7 133.3 L289.7 133.8Z M301.8 133.8 L301.8 133.3 L301.9 132.8 L301.9 132.3 L302.0 131.7 L302.0 131.0 L301.9 130.0 L301.8 129.0 L301.6 128.4 L301.5 127.9 L301.3 127.6 L301.1 127.3 L300.9 127.0 L300.5 127.0 L300.5 127.5 L300.5 127.9 L300.5 128.2 L300.5 128.5 L300.5 129.1 L300.5 130.0 L300.4 131.0 L300.4 131.6 L300.3 132.1 L300.2 132.5 L300.1 133.0 L300.0 133.6Z M337.4 133.6 L337.3 133.0 L337.2 132.6 L337.2 132.1 L337.1 131.6 L337.0 130.9 L336.9 130.0 L336.9 129.1 L336.8 128.5 L336.8 128.1 L336.8 127.8 L336.8 127.5 L336.7 127.0 L336.3 127.0 L336.1 127.4 L336.0 127.6 L335.8 128.0 L335.7 128.4 L335.6 129.0 L335.5 130.0 L335.5 131.0 L335.5 131.7 L335.5 132.3 L335.5 132.8 L335.6 133.3 L335.6 133.8Z M348.4 133.8 L348.4 133.3 L348.5 132.8 L348.5 132.3 L348.6 131.7 L348.6 131.0 L348.5 130.0 L348.4 129.0 L348.3 128.4 L348.1 127.9 L348.0 127.6 L347.8 127.3 L347.6 127.0 L347.2 127.0 L347.2 127.5 L347.2 127.8 L347.2 128.1 L347.1 128.5 L347.1 129.1 L347.1 130.0 L347.0 130.9 L347.0 131.6 L346.9 132.1 L346.8 132.6 L346.7 133.0 L346.6 133.6Z" fill="#30a927" stroke="#fff" stroke-opacity="0.35" stroke-width="1.6" paint-order="stroke"/>
<path d="M308.0 162.0 C307.5 166.8 307.7 167.5 306.4 176.5 C305.1 185.5 305.6 181.2 304.0 189.0 C302.4 196.8 302.9 192.7 301.6 200.0 C300.3 207.3 300.5 207.3 300.0 211.0 M313.5 182.8 C311.7 185.4 312.0 185.4 308.0 190.7 C304.0 196.0 305.3 193.8 301.6 198.6 C297.9 203.4 298.5 202.9 297.0 205.0 M330.0 162.0 C331.1 165.8 330.6 165.8 333.3 173.3 C336.0 180.8 334.8 177.5 338.0 184.4 C341.2 191.3 339.6 188.7 342.8 193.9 C346.0 199.1 345.9 198.0 347.5 200.0 M292.0 163.8 C293.0 165.9 293.3 166.8 295.0 170.0 C296.7 173.2 296.3 172.2 297.0 173.3 M297.0 173.3 C296.3 175.5 296.1 175.8 295.0 180.0 C293.9 184.2 294.1 184.0 293.7 186.0 M298.5 186.0 C297.3 188.0 297.2 187.8 295.0 192.0 C292.8 196.2 293.0 196.4 292.0 198.6 M292.0 198.6 C293.0 200.7 293.1 200.9 295.0 205.0 C296.9 209.1 296.8 209.0 297.7 211.0 M341.2 163.8 C342.8 165.2 342.8 165.9 346.0 168.0 C349.2 170.1 349.1 169.3 350.7 170.0 M344.4 178.0 C345.9 178.7 346.1 179.0 349.0 180.0 C351.9 181.0 351.7 180.7 353.0 181.0" stroke="#30a927" stroke-width="1.56" fill="none" stroke-linecap="round" stroke-linejoin="round"/>
<path d="M290.6 133.7 C290.9 139.0 290.9 139.6 291.4 149.6 C291.9 159.6 290.7 155.9 292.0 163.8 C293.3 171.7 294.7 165.9 295.3 173.3 C295.9 180.7 294.8 177.6 293.7 186.0 C292.6 194.4 293.0 191.3 292.0 198.6 C291.0 205.9 292.7 202.2 290.6 208.0 C288.5 213.8 290.0 211.7 285.8 216.0 C281.6 220.3 282.3 218.1 278.0 220.8 C273.7 223.5 274.7 222.9 273.0 224.0 M300.9 133.7 C300.4 139.0 300.4 140.2 299.3 149.6 C298.2 159.0 298.5 154.1 297.7 162.0 C296.9 169.9 296.7 165.3 297.0 173.3 C297.3 181.3 298.8 177.6 298.5 186.0 C298.2 194.4 296.3 190.3 296.0 198.6 C295.7 206.9 296.6 203.6 297.7 211.0 C298.8 218.4 299.0 214.5 299.3 220.8 C299.6 227.1 298.8 226.9 298.5 230.0 M336.5 133.7 C337.0 139.0 336.4 139.6 338.0 149.6 C339.6 159.6 339.1 154.3 341.2 163.8 C343.3 173.3 343.9 169.6 344.4 178.0 C344.9 186.4 341.8 181.7 342.8 189.0 C343.8 196.3 344.9 193.7 347.5 200.0 C350.1 206.3 348.6 202.1 350.7 208.0 C352.8 213.9 351.3 211.3 353.9 217.6 C356.5 223.9 355.4 221.2 358.6 227.0 C361.8 232.8 361.8 232.3 363.4 235.0 M347.5 133.7 C347.0 137.9 346.0 138.5 346.0 146.4 C346.0 154.3 345.9 149.6 347.5 157.5 C349.1 165.4 348.9 162.2 350.7 170.0 C352.5 177.8 352.5 173.7 353.0 181.0 C353.5 188.3 352.8 184.0 352.3 192.0 C351.8 200.0 351.0 196.5 351.5 205.0 C352.0 213.5 353.1 213.4 353.9 217.6" stroke="#30a927" stroke-width="1.95" fill="none" stroke-linecap="round" stroke-linejoin="round"/>
<path d="M351.4 200.0 C351.8 204.0 351.1 204.9 352.5 211.9 C353.9 218.9 353.9 216.3 355.5 221.0 C357.1 225.7 356.7 224.3 357.3 226.0" stroke="#30a927" stroke-width="2.73" fill="none" stroke-linecap="round" stroke-linejoin="round"/>
<ellipse cx="291.4" cy="163.5" rx="2.1" ry="3.4" transform="rotate(0 291.4 163.5)" fill="url(#ndg)" stroke="#35a026" stroke-width="0.9"/>
<ellipse cx="296.0" cy="172.0" rx="2.1" ry="3.4" transform="rotate(-20 296.0 172.0)" fill="url(#ndg)" stroke="#35a026" stroke-width="0.9"/>
<ellipse cx="290.8" cy="203.5" rx="2.1" ry="3.4" transform="rotate(5 290.8 203.5)" fill="url(#ndg)" stroke="#35a026" stroke-width="0.9"/>
<ellipse cx="298.4" cy="187.5" rx="2.1" ry="3.4" transform="rotate(0 298.4 187.5)" fill="url(#ndg)" stroke="#35a026" stroke-width="0.9"/>
<ellipse cx="341.8" cy="163.8" rx="2.1" ry="3.4" transform="rotate(-10 341.8 163.8)" fill="url(#ndg)" stroke="#35a026" stroke-width="0.9"/>
<ellipse cx="345.8" cy="178.0" rx="2.1" ry="3.4" transform="rotate(-10 345.8 178.0)" fill="url(#ndg)" stroke="#35a026" stroke-width="0.9"/>
<ellipse cx="343.5" cy="186.0" rx="2.1" ry="3.4" transform="rotate(5 343.5 186.0)" fill="url(#ndg)" stroke="#35a026" stroke-width="0.9"/>
<ellipse cx="350.7" cy="205.0" rx="2.1" ry="3.4" transform="rotate(-10 350.7 205.0)" fill="url(#ndg)" stroke="#35a026" stroke-width="0.9"/>
<ellipse cx="347.5" cy="156.5" rx="2.1" ry="3.4" transform="rotate(-5 347.5 156.5)" fill="url(#ndg)" stroke="#35a026" stroke-width="0.9"/>
<ellipse cx="353.0" cy="171.5" rx="2.1" ry="3.4" transform="rotate(-10 353.0 171.5)" fill="url(#ndg)" stroke="#35a026" stroke-width="0.9"/>
<ellipse cx="299.3" cy="149.0" rx="2.1" ry="3.4" transform="rotate(5 299.3 149.0)" fill="url(#ndg)" stroke="#35a026" stroke-width="0.9"/>
<ellipse cx="338.0" cy="149.0" rx="2.1" ry="3.4" transform="rotate(-5 338.0 149.0)" fill="url(#ndg)" stroke="#35a026" stroke-width="0.9"/>
</g></g>
<g opacity="0.72">
<path d="M218.0 327.0 C216.3 332.6 216.8 330.7 213.0 343.7 C209.2 356.7 210.4 352.6 206.7 366.0 C203.0 379.4 203.6 378.0 202.0 384.0 M218.0 327.0 C213.6 330.5 213.3 329.8 204.7 337.5 C196.1 345.2 199.5 339.8 192.3 350.0 C185.1 360.2 187.3 356.7 183.0 368.0 C178.7 379.3 180.7 378.7 179.5 384.0 M213.0 343.7 C210.3 347.8 210.0 346.6 205.0 356.0 C200.0 365.4 201.2 362.0 198.0 372.0 C194.8 382.0 196.3 381.3 195.5 386.0 M206.7 366.0 C206.3 369.3 206.1 370.0 205.5 376.0 C204.9 382.0 205.2 381.3 205.0 384.0" stroke="#fff" stroke-opacity="0.45" stroke-width="3.6" fill="none" stroke-linecap="round" stroke-linejoin="round"/>
<path d="M224.7 288.3 L223.5 287.0 L222.4 286.0 L221.4 284.9 L220.1 283.7 L218.6 282.3 L216.7 280.3 L214.9 278.7 L213.7 277.9 L213.1 277.7 L212.9 277.6 L212.4 277.0 L211.5 275.5 L210.5 273.7 L210.0 272.3 L209.8 271.2 L209.6 270.2 L209.5 269.1 L209.2 268.0 L208.8 268.0 L208.9 269.2 L208.9 270.2 L208.9 271.3 L209.0 272.6 L209.4 274.1 L210.3 276.1 L211.2 277.8 L211.7 278.6 L212.3 279.1 L212.8 279.4 L213.7 280.1 L215.3 281.7 L217.2 283.6 L218.7 285.1 L219.9 286.4 L221.0 287.5 L222.0 288.5 L223.3 289.7Z M231.3 276.3 L230.5 274.8 L229.8 273.6 L229.1 272.4 L228.3 271.0 L227.2 269.1 L225.8 266.6 L224.6 264.3 L224.0 262.9 L223.7 262.1 L223.4 261.3 L222.7 260.3 L221.5 258.6 L220.2 256.9 L219.1 255.8 L218.3 255.1 L217.6 254.8 L216.9 254.4 L216.1 253.8 L215.9 254.2 L216.6 254.9 L217.2 255.4 L217.7 255.9 L218.4 256.5 L219.2 257.6 L220.5 259.4 L221.5 261.1 L222.0 262.0 L222.2 262.7 L222.4 263.6 L223.0 265.0 L224.2 267.4 L225.5 270.0 L226.5 271.9 L227.3 273.4 L228.0 274.6 L228.7 275.9 L229.5 277.3Z M222.4 302.6 L220.9 302.1 L219.6 301.6 L218.3 301.1 L216.7 300.5 L214.8 299.9 L212.2 299.1 L209.9 298.6 L208.4 298.5 L207.6 298.7 L207.3 298.9 L206.6 298.7 L205.1 297.9 L203.4 296.7 L202.3 295.7 L201.6 294.8 L201.0 293.8 L200.5 292.9 L199.7 291.9 L199.3 292.1 L199.9 293.2 L200.4 294.2 L200.8 295.2 L201.5 296.4 L202.6 297.6 L204.3 298.9 L206.0 300.0 L207.0 300.4 L207.9 300.4 L208.5 300.3 L209.6 300.4 L211.8 300.9 L214.2 301.7 L216.1 302.4 L217.5 302.9 L218.8 303.5 L220.1 304.0 L221.6 304.6Z M221.4 302.7 L220.2 303.6 L219.3 304.3 L218.3 305.0 L217.2 305.8 L215.7 306.8 L213.5 308.2 L211.7 309.5 L210.9 310.2 L210.6 310.5 L210.4 310.8 L209.2 311.2 L206.5 312.2 L203.3 313.2 L200.7 313.9 L198.5 314.4 L196.5 314.8 L194.5 315.3 L192.3 315.8 L192.3 316.2 L194.6 315.9 L196.6 315.6 L198.7 315.3 L200.9 314.9 L203.6 314.3 L206.9 313.4 L209.6 312.6 L211.0 312.2 L211.7 311.8 L212.0 311.5 L212.7 310.9 L214.5 309.8 L216.7 308.5 L218.3 307.5 L219.5 306.7 L220.5 306.0 L221.4 305.3 L222.6 304.5Z M218.4 326.0 L217.3 325.5 L216.4 325.0 L215.3 324.4 L214.0 323.8 L212.3 323.4 L210.1 323.2 L207.9 323.3 L206.3 323.6 L205.2 324.1 L204.5 324.7 L203.8 325.3 L202.9 325.8 L203.1 326.2 L204.1 325.9 L205.0 325.5 L205.8 325.1 L206.6 324.9 L208.0 324.7 L209.9 324.8 L212.0 325.1 L213.4 325.6 L214.4 326.1 L215.3 326.7 L216.3 327.4 L217.6 328.0Z M204.7 336.5 L203.6 336.5 L202.8 336.4 L201.8 336.3 L200.5 336.3 L198.9 336.6 L196.8 337.2 L194.7 338.0 L193.2 338.8 L192.2 339.6 L191.5 340.4 L190.8 341.1 L189.9 341.8 L190.1 342.2 L191.2 341.6 L192.1 341.1 L192.9 340.5 L193.8 340.0 L195.2 339.4 L197.2 338.8 L199.3 338.3 L200.7 338.2 L201.7 338.2 L202.5 338.4 L203.5 338.5 L204.7 338.5Z M192.2 349.0 L191.3 349.0 L190.6 349.0 L189.8 349.0 L188.7 349.2 L187.4 349.5 L185.7 350.3 L184.1 351.1 L183.0 352.0 L182.3 352.7 L181.8 353.4 L181.4 354.1 L180.8 354.8 L181.2 355.2 L181.9 354.6 L182.6 354.0 L183.1 353.5 L183.8 353.0 L184.8 352.4 L186.3 351.7 L187.9 351.2 L189.0 351.0 L189.8 351.0 L190.5 351.1 L191.4 351.1 L192.4 351.0Z M182.1 367.5 L181.6 368.3 L181.2 369.0 L180.7 369.7 L180.2 370.7 L179.7 372.0 L179.2 373.8 L178.8 375.5 L178.7 376.8 L178.8 377.8 L179.0 378.5 L179.2 379.2 L179.3 380.0 L179.7 380.0 L179.9 379.1 L179.9 378.4 L179.9 377.7 L180.0 377.0 L180.3 375.8 L180.8 374.2 L181.4 372.6 L181.9 371.5 L182.4 370.8 L182.9 370.1 L183.4 369.4 L183.9 368.5Z M201.0 383.9 L200.9 384.6 L200.8 385.2 L200.7 385.9 L200.7 386.7 L200.6 387.7 L200.7 389.0 L200.8 390.3 L200.9 391.2 L201.1 391.7 L201.4 392.2 L201.6 392.5 L201.8 393.0 L202.2 393.0 L202.2 392.4 L202.2 391.9 L202.2 391.5 L202.2 391.0 L202.3 390.2 L202.3 389.0 L202.4 387.7 L202.5 386.8 L202.7 386.1 L202.8 385.5 L202.9 384.9 L203.0 384.1Z M178.5 383.7 L178.3 384.4 L178.1 385.0 L177.8 385.7 L177.6 386.5 L177.4 387.5 L177.2 388.9 L177.1 390.2 L177.1 391.1 L177.3 391.7 L177.4 392.1 L177.6 392.5 L177.8 393.0 L178.2 393.0 L178.3 392.4 L178.3 392.0 L178.4 391.6 L178.4 391.1 L178.6 390.3 L178.8 389.1 L179.1 387.9 L179.4 387.0 L179.7 386.3 L179.9 385.7 L180.2 385.1 L180.5 384.3Z M194.5 385.8 L194.3 386.5 L194.2 387.1 L194.0 387.8 L193.9 388.6 L193.8 389.6 L193.7 390.9 L193.6 392.2 L193.7 393.1 L193.8 393.7 L194.0 394.1 L194.1 394.5 L194.3 395.0 L194.7 395.0 L194.8 394.4 L194.9 394.0 L194.9 393.6 L195.0 393.1 L195.1 392.3 L195.3 391.1 L195.5 389.8 L195.8 388.9 L196.0 388.2 L196.2 387.6 L196.3 387.0 L196.5 386.2Z M204.0 383.9 L203.9 384.6 L203.8 385.3 L203.8 386.0 L203.7 386.8 L203.7 387.8 L203.8 389.0 L203.9 390.1 L204.0 390.8 L204.2 391.3 L204.4 391.5 L204.6 391.7 L204.8 392.0 L205.2 392.0 L205.3 391.5 L205.3 391.2 L205.3 391.0 L205.3 390.7 L205.4 390.0 L205.4 389.0 L205.5 387.9 L205.6 387.0 L205.7 386.2 L205.8 385.6 L206.0 384.9 L206.0 384.1Z" fill="#30a927" stroke="#fff" stroke-opacity="0.35" stroke-width="1.6" paint-order="stroke"/>
<path d="M206.7 366.0 C206.3 369.3 206.1 370.0 205.5 376.0 C204.9 382.0 205.2 381.3 205.0 384.0" stroke="#30a927" stroke-width="1.30" fill="none" stroke-linecap="round" stroke-linejoin="round"/>
<path d="M213.0 343.7 C210.3 347.8 210.0 346.6 205.0 356.0 C200.0 365.4 201.2 362.0 198.0 372.0 C194.8 382.0 196.3 381.3 195.5 386.0" stroke="#30a927" stroke-width="1.56" fill="none" stroke-linecap="round" stroke-linejoin="round"/>
<path d="M218.0 327.0 C213.6 330.5 213.3 329.8 204.7 337.5 C196.1 345.2 199.5 339.8 192.3 350.0 C185.1 360.2 187.3 356.7 183.0 368.0 C178.7 379.3 180.7 378.7 179.5 384.0" stroke="#30a927" stroke-width="1.69" fill="none" stroke-linecap="round" stroke-linejoin="round"/>
<path d="M218.0 327.0 C216.3 332.6 216.8 330.7 213.0 343.7 C209.2 356.7 210.4 352.6 206.7 366.0 C203.0 379.4 203.6 378.0 202.0 384.0" stroke="#30a927" stroke-width="1.95" fill="none" stroke-linecap="round" stroke-linejoin="round"/>
</g>
<g opacity="1">
<path d="M298.6 216.0 C298.7 217.4 298.5 212.7 298.9 220.3 C299.3 227.9 299.0 227.9 299.7 238.8 C300.4 249.7 300.3 244.1 301.0 253.0 C301.7 261.9 301.1 256.2 301.8 265.5 C302.5 274.8 302.3 270.0 303.0 281.0 C303.7 292.0 303.5 286.4 304.0 298.4 C304.5 310.4 304.3 304.0 304.6 317.0 C304.9 330.0 304.7 323.8 305.0 337.5 C305.3 351.2 305.2 345.7 305.5 358.0 C305.8 370.3 305.8 369.0 305.9 374.5 M298.3 219.3 C294.5 218.9 294.2 218.3 287.0 218.2 C279.8 218.1 282.9 215.6 276.7 219.0 C270.5 222.4 275.0 224.3 268.4 228.5 C261.8 232.7 260.8 230.6 257.0 231.6 M298.9 222.3 C294.9 223.7 293.0 224.4 287.0 226.5 C281.0 228.6 286.5 225.1 281.0 228.5 C275.5 231.9 278.2 231.5 270.5 236.7 C262.8 241.9 262.2 241.6 258.0 244.0 M299.7 238.8 C294.1 239.5 292.7 239.6 283.0 241.0 C273.3 242.4 278.8 242.0 270.5 243.0 C262.2 244.0 262.2 243.7 258.0 244.0 M276.7 219.0 C277.5 220.7 277.6 220.8 279.0 224.0 C280.4 227.2 280.3 227.0 281.0 228.5 M257.0 231.6 C254.7 233.3 253.7 232.2 250.0 236.7 C246.3 241.2 247.9 239.6 245.8 245.0 C243.7 250.4 245.5 246.8 243.8 253.0 C242.1 259.2 243.5 257.3 240.7 263.5 C237.9 269.7 238.9 267.3 235.5 271.7 C232.1 276.1 234.2 271.0 230.4 276.8 C226.6 282.6 226.8 280.1 224.0 289.0 C221.2 297.9 224.0 290.9 222.0 303.6 C220.0 316.3 219.3 319.2 218.0 327.0 M257.7 244.0 C255.1 245.7 254.3 245.6 250.0 249.0 C245.7 252.4 246.9 249.4 244.8 254.2 C242.7 259.0 244.8 254.2 243.8 263.5 C242.8 272.8 245.8 271.0 241.7 282.0 C237.6 293.0 236.3 286.8 231.4 296.4 C226.5 306.0 230.1 308.4 227.0 310.8 C223.9 313.2 223.7 306.0 222.0 303.6 M218.0 327.0 C219.7 331.9 219.4 332.6 223.2 341.6 C227.0 350.6 226.0 345.9 229.4 354.0 C232.8 362.1 232.1 362.0 233.5 366.0 M230.4 276.8 C232.3 277.9 232.2 278.3 236.0 280.0 C239.8 281.7 239.8 281.3 241.7 282.0 M224.0 289.0 C225.3 290.3 225.5 290.5 228.0 293.0 C230.5 295.5 230.3 295.3 231.4 296.4 M227.0 310.8 C225.5 313.2 225.5 312.6 222.5 318.0 C219.5 323.4 219.5 324.0 218.0 327.0 M334.9 380.0 C334.9 366.7 335.0 366.7 335.0 340.0 C335.0 313.3 334.9 326.9 334.8 300.0 C334.7 273.1 334.0 276.8 334.7 259.3 C335.4 241.8 334.2 253.8 337.0 247.5 C339.8 241.2 338.2 243.6 343.0 240.4 C347.8 237.2 345.4 238.0 351.4 238.0 C357.4 238.0 354.6 238.4 360.9 240.4 C367.2 242.4 367.2 242.8 370.4 244.0 M355.5 221.0 C356.1 222.7 354.7 221.1 357.3 226.0 C359.9 230.9 358.8 229.6 363.2 235.6 C367.6 241.6 365.2 239.6 370.4 244.0 C375.6 248.4 374.0 247.9 378.7 248.7 C383.4 249.5 381.5 248.7 384.6 246.3 C387.7 243.9 386.9 243.1 388.0 241.5 M358.5 222.5 C361.7 222.9 361.7 221.3 368.0 223.7 C374.3 226.1 371.2 227.3 377.5 229.7 C383.8 232.1 381.5 228.9 387.0 230.9 C392.5 232.9 389.7 231.2 394.0 235.6 C398.3 240.0 395.7 239.3 400.0 244.0 C404.3 248.7 402.7 245.5 407.0 249.8 C411.3 254.1 408.6 253.0 413.0 257.0 C417.4 261.0 417.4 257.4 420.2 261.7 C423.0 266.0 419.8 263.3 421.4 270.0 C423.0 276.7 421.8 274.0 425.0 281.9 C428.2 289.8 428.1 281.5 430.9 293.8 C433.7 306.1 432.1 305.6 433.3 318.7 C434.5 331.8 432.4 321.9 434.4 333.0 C436.4 344.1 436.0 337.8 439.2 352.0 C442.4 366.2 441.2 359.6 444.0 375.6 C446.8 391.6 446.3 391.9 447.5 400.0 M387.0 230.9 C387.5 232.6 388.2 232.5 388.5 236.0 C388.8 239.5 388.2 239.7 388.0 241.5 M388.0 241.5 C390.7 242.7 389.7 242.2 396.0 245.0 C402.3 247.8 403.3 248.2 407.0 249.8 M407.0 249.8 C407.8 253.8 407.9 253.0 409.5 261.7 C411.1 270.4 407.9 266.5 411.9 276.0 C415.9 285.5 417.0 281.5 421.4 290.2 C425.8 298.9 424.2 295.7 425.0 302.0 C425.8 308.3 426.2 305.8 423.8 309.0 C421.4 312.2 419.8 310.7 417.8 311.6 M378.7 248.7 C377.1 251.5 377.6 251.1 374.0 257.0 C370.4 262.9 372.4 261.8 368.0 266.5 C363.6 271.2 363.3 269.6 360.9 271.2 M421.4 270.0 C419.9 271.3 420.2 272.0 417.0 274.0 C413.8 276.0 413.6 275.3 411.9 276.0 M425.0 281.9 C424.3 283.4 424.2 283.7 423.0 286.5 C421.8 289.3 421.9 289.0 421.4 290.2 M430.9 293.8 C429.8 295.2 429.5 295.3 427.5 298.0 C425.5 300.7 425.8 300.7 425.0 302.0 M433.3 318.7 C432.0 322.5 432.3 322.5 429.5 330.0 C426.7 337.5 426.5 337.5 425.0 341.2 M433.3 318.7 C436.1 321.8 436.6 322.6 441.6 328.0 C446.6 333.4 444.5 330.3 448.4 335.0 C452.3 339.7 450.4 335.7 453.4 342.0 C456.4 348.3 455.5 345.2 457.5 354.0 C459.5 362.8 460.2 359.6 459.5 368.4 C458.8 377.2 456.8 371.8 455.5 380.5 C454.2 389.2 454.2 385.8 455.5 394.6 C456.8 403.4 455.5 398.0 459.5 406.8 C463.5 415.6 464.9 411.6 467.6 421.0 C470.3 430.4 467.6 430.3 467.6 435.0 M453.4 342.0 C456.9 343.0 458.3 342.3 464.0 345.0 C469.7 347.7 468.4 348.3 470.6 350.0 M444.0 375.6 C445.1 380.6 444.3 378.9 447.4 390.6 C450.5 402.3 450.7 396.0 453.4 410.8 C456.1 425.6 456.8 421.9 455.5 435.0 C454.2 448.1 451.4 445.0 449.4 450.0 M440.3 350.0 C441.3 356.8 441.6 358.7 443.3 370.4 C445.0 382.1 443.6 375.1 445.5 385.0 C447.4 394.9 446.8 389.0 449.0 400.0 C451.2 411.0 451.9 401.3 452.0 418.0 C452.1 434.7 450.3 439.3 449.4 450.0 M459.5 406.8 C458.7 411.2 458.3 410.6 457.0 420.0 C455.7 429.4 456.0 430.0 455.5 435.0 M455.5 435.0 C457.3 434.5 457.0 433.5 461.0 433.5 C465.0 433.5 465.4 434.5 467.6 435.0 M455.5 435.0 C456.0 438.7 455.7 439.0 457.0 446.0 C458.3 453.0 458.7 452.7 459.5 456.0 M467.6 435.0 C466.4 438.7 466.7 439.0 464.0 446.0 C461.3 453.0 461.0 452.7 459.5 456.0 M449.4 450.0 C450.9 451.3 450.6 452.0 454.0 454.0 C457.4 456.0 457.7 455.3 459.5 456.0 M449.4 450.0 C450.1 457.1 449.4 457.5 451.4 471.4 C453.4 485.3 452.5 478.1 455.5 491.6 C458.5 505.1 456.5 498.3 460.5 511.8 C464.5 525.3 465.2 525.3 467.6 532.0 M459.5 456.0 C460.8 462.5 460.8 462.3 463.5 475.5 C466.2 488.7 464.9 483.6 467.6 495.7 C470.3 507.8 469.3 499.7 471.6 511.8 C473.9 523.9 473.6 525.3 474.6 532.0 M467.6 435.0 C468.6 440.3 467.9 440.2 470.6 451.0 C473.3 461.8 473.7 455.2 475.7 467.4 C477.7 479.6 475.7 476.8 476.7 487.6 C477.7 498.4 477.0 488.2 478.7 499.7 C480.4 511.2 480.7 514.6 481.7 522.0 M481.7 522.0 C484.1 525.3 486.4 528.7 488.8 532.0 M478.7 499.7 C477.0 502.5 475.0 497.2 473.6 508.0 C472.2 518.8 474.3 524.0 474.6 532.0 M359.7 263.0 C359.7 264.9 359.3 260.5 359.7 268.8 C360.1 277.1 360.5 274.7 360.9 287.8 C361.3 300.9 360.1 295.7 360.9 308.0 C361.7 320.3 361.6 313.5 363.2 324.6 C364.8 335.7 365.6 330.5 365.6 341.2 C365.6 351.9 365.2 344.8 363.2 356.7 C361.2 368.6 360.9 370.1 359.7 376.8" stroke="#fff" stroke-opacity="0.45" stroke-width="3.6" fill="none" stroke-linecap="round" stroke-linejoin="round"/>
<path d="M299.6 237.7 L298.1 237.9 L296.9 237.9 L295.6 237.9 L293.9 238.1 L291.6 238.8 L288.6 240.2 L285.6 241.9 L283.6 243.4 L282.1 244.8 L281.0 246.2 L279.9 247.5 L278.6 248.8 L278.8 249.2 L280.4 248.0 L281.7 246.8 L282.9 245.7 L284.4 244.5 L286.4 243.3 L289.4 241.8 L292.3 240.6 L294.3 240.1 L295.7 239.9 L296.9 240.0 L298.2 240.1 L299.8 239.9Z M300.7 251.9 L299.4 252.2 L298.3 252.4 L297.1 252.5 L295.5 252.9 L293.5 253.8 L290.6 255.2 L287.7 256.9 L285.7 258.4 L284.3 259.7 L283.1 260.9 L282.0 262.0 L280.7 263.3 L280.9 263.7 L282.5 262.6 L283.8 261.6 L285.0 260.6 L286.5 259.5 L288.5 258.3 L291.4 256.8 L294.2 255.5 L296.1 254.8 L297.5 254.6 L298.5 254.5 L299.8 254.4 L301.3 254.1Z M301.8 264.4 L300.6 264.4 L299.7 264.2 L298.6 264.1 L297.2 264.1 L295.3 264.4 L292.7 265.2 L290.2 266.2 L288.4 267.1 L287.1 268.1 L286.1 269.0 L285.1 269.9 L283.9 270.8 L284.1 271.2 L285.5 270.5 L286.6 269.7 L287.7 269.0 L289.0 268.3 L290.8 267.6 L293.3 266.8 L295.7 266.3 L297.3 266.1 L298.4 266.2 L299.4 266.4 L300.4 266.6 L301.8 266.6Z M303.5 280.0 L302.2 279.4 L301.1 278.8 L300.0 278.2 L298.6 277.6 L296.7 276.9 L294.3 276.2 L291.8 275.6 L290.1 275.3 L288.9 275.3 L288.0 275.4 L287.1 275.6 L286.0 275.6 L286.0 276.0 L287.1 276.3 L288.0 276.4 L288.8 276.5 L289.9 276.7 L291.4 277.1 L293.7 277.8 L296.1 278.7 L297.8 279.4 L299.0 280.1 L300.1 280.7 L301.2 281.4 L302.5 282.0Z M302.5 280.0 L301.5 280.4 L300.7 280.9 L299.9 281.3 L299.0 281.8 L297.6 282.4 L295.7 283.2 L293.8 283.9 L292.4 284.4 L291.5 284.8 L290.7 285.1 L289.9 285.4 L288.9 285.8 L289.1 286.2 L290.1 286.1 L290.9 286.0 L291.8 285.9 L292.8 285.8 L294.3 285.4 L296.3 284.8 L298.3 284.1 L299.8 283.6 L300.8 283.2 L301.7 282.8 L302.5 282.5 L303.5 282.0Z M304.2 297.3 L302.9 297.0 L301.9 296.8 L300.7 296.5 L299.3 296.3 L297.5 296.1 L295.0 296.1 L292.6 296.3 L290.9 296.6 L289.7 297.0 L288.8 297.4 L288.0 297.8 L286.9 298.2 L287.1 298.6 L288.2 298.5 L289.2 298.3 L290.0 298.1 L291.1 297.9 L292.7 297.9 L295.0 297.9 L297.4 298.0 L299.0 298.2 L300.3 298.5 L301.3 298.9 L302.4 299.2 L303.8 299.5Z M304.9 315.9 L303.5 315.6 L302.4 315.2 L301.2 314.9 L299.7 314.5 L297.7 314.3 L295.0 314.1 L292.4 314.2 L290.5 314.3 L289.2 314.7 L288.2 315.1 L287.2 315.4 L286.0 315.8 L286.0 316.2 L287.4 316.1 L288.4 316.0 L289.4 315.8 L290.6 315.7 L292.4 315.7 L295.0 315.9 L297.5 316.2 L299.3 316.5 L300.6 316.9 L301.7 317.3 L302.9 317.7 L304.3 318.1Z M304.8 336.4 L303.5 336.7 L302.5 336.8 L301.4 337.0 L300.1 337.4 L298.2 338.0 L295.6 339.2 L293.1 340.5 L291.3 341.7 L290.0 342.7 L289.0 343.6 L288.1 344.5 L286.9 345.5 L287.1 345.9 L288.5 345.1 L289.6 344.4 L290.7 343.6 L292.0 342.9 L293.8 341.9 L296.4 340.8 L298.9 339.8 L300.6 339.3 L301.8 339.1 L302.8 339.0 L303.9 338.9 L305.2 338.6Z M305.8 356.9 L304.6 356.6 L303.6 356.4 L302.5 356.0 L301.2 355.8 L299.4 355.6 L297.0 355.6 L294.6 355.8 L293.0 356.1 L291.8 356.5 L290.9 356.9 L290.0 357.4 L288.9 357.8 L289.1 358.2 L290.2 358.1 L291.2 357.8 L292.1 357.6 L293.2 357.5 L294.7 357.4 L297.0 357.4 L299.3 357.5 L300.9 357.8 L302.0 358.1 L302.9 358.4 L304.0 358.8 L305.2 359.1Z M242.5 282.7 L243.5 281.6 L244.4 280.5 L245.2 279.5 L246.2 278.4 L247.6 277.0 L249.5 275.1 L251.5 273.4 L252.8 272.3 L253.7 271.6 L254.4 271.1 L255.2 270.5 L256.1 269.8 L255.9 269.4 L254.8 269.9 L254.0 270.3 L253.1 270.6 L252.0 271.2 L250.5 272.2 L248.5 273.9 L246.4 275.7 L244.9 277.1 L243.7 278.2 L242.8 279.2 L242.0 280.2 L240.9 281.3Z M231.9 297.3 L233.4 296.6 L234.7 295.8 L235.9 295.1 L237.4 294.4 L239.4 293.4 L242.3 292.3 L245.1 291.2 L247.1 290.6 L248.4 290.2 L249.5 289.9 L250.6 289.6 L252.0 289.2 L252.0 288.8 L250.5 289.0 L249.4 289.0 L248.2 289.1 L246.7 289.3 L244.7 289.8 L241.7 290.7 L238.7 291.8 L236.6 292.7 L235.0 293.4 L233.7 294.1 L232.5 294.7 L230.9 295.5Z M226.5 311.7 L227.5 312.3 L228.4 312.7 L229.3 313.2 L230.4 313.7 L231.8 314.4 L233.6 315.2 L235.4 316.0 L236.6 316.5 L237.5 316.7 L238.1 316.9 L238.7 317.0 L239.5 317.2 L239.7 316.8 L239.0 316.4 L238.4 316.0 L237.9 315.7 L237.2 315.3 L236.1 314.7 L234.4 313.8 L232.6 312.8 L231.3 312.1 L230.3 311.5 L229.4 311.0 L228.5 310.4 L227.5 309.9Z M217.5 327.9 L218.6 328.6 L219.6 329.1 L220.6 329.7 L221.8 330.4 L223.4 331.2 L225.6 332.2 L227.9 333.2 L229.4 333.7 L230.6 334.0 L231.5 334.2 L232.3 334.3 L233.4 334.6 L233.6 334.2 L232.5 333.7 L231.7 333.3 L230.9 333.0 L229.9 332.5 L228.5 331.8 L226.4 330.8 L224.2 329.6 L222.7 328.8 L221.6 328.0 L220.7 327.4 L219.7 326.8 L218.5 326.1Z M228.9 354.9 L229.9 355.4 L230.7 355.9 L231.5 356.3 L232.5 356.8 L233.8 357.4 L235.6 358.2 L237.4 359.0 L238.6 359.4 L239.5 359.7 L240.1 359.9 L240.8 360.0 L241.6 360.2 L241.8 359.8 L241.0 359.3 L240.5 359.0 L239.9 358.7 L239.1 358.3 L238.0 357.7 L236.4 356.8 L234.6 355.8 L233.4 355.1 L232.5 354.6 L231.7 354.1 L230.9 353.6 L229.9 353.1Z M228.4 353.9 L228.2 354.9 L228.2 355.8 L228.1 356.7 L228.0 357.7 L227.9 359.1 L227.7 360.9 L227.5 362.6 L227.3 363.7 L227.2 364.5 L227.2 365.1 L227.1 365.7 L227.1 366.4 L227.5 366.6 L227.8 365.8 L228.1 365.3 L228.3 364.8 L228.6 364.0 L228.9 362.9 L229.3 361.1 L229.7 359.3 L229.9 358.0 L230.1 356.9 L230.2 356.0 L230.3 355.2 L230.4 354.1Z M228.4 354.4 L229.0 355.6 L229.4 356.6 L229.8 357.6 L230.4 358.8 L231.2 360.4 L232.3 362.4 L233.4 364.3 L234.2 365.5 L234.8 366.3 L235.3 366.9 L235.8 367.4 L236.4 368.1 L236.8 367.9 L236.4 367.0 L236.0 366.3 L235.7 365.7 L235.3 364.9 L234.7 363.6 L233.7 361.6 L232.8 359.6 L232.1 358.1 L231.7 356.9 L231.3 355.8 L230.9 354.8 L230.4 353.6Z M244.1 252.0 L243.0 251.7 L242.1 251.3 L241.1 250.9 L239.9 250.5 L238.2 250.3 L236.0 250.2 L233.9 250.3 L232.4 250.6 L231.3 251.0 L230.6 251.4 L229.9 251.9 L228.9 252.3 L229.1 252.7 L230.1 252.5 L230.9 252.3 L231.7 252.0 L232.6 251.8 L234.0 251.8 L236.0 251.8 L238.0 252.0 L239.4 252.4 L240.4 252.7 L241.3 253.2 L242.3 253.6 L243.5 254.0Z M244.1 264.5 L245.0 264.2 L245.8 263.9 L246.6 263.7 L247.5 263.3 L248.8 262.7 L250.4 261.7 L252.0 260.7 L253.0 259.8 L253.7 259.1 L254.1 258.5 L254.5 257.9 L255.1 257.2 L254.9 256.8 L254.1 257.4 L253.5 257.8 L252.9 258.3 L252.2 258.8 L251.1 259.4 L249.6 260.3 L248.0 261.1 L246.8 261.6 L246.0 261.8 L245.2 262.0 L244.4 262.2 L243.5 262.5Z M421.1 262.2 L421.7 261.1 L422.2 260.1 L422.7 259.1 L423.3 258.0 L424.1 256.5 L425.2 254.4 L426.3 252.4 L427.0 251.0 L427.5 250.1 L427.9 249.3 L428.2 248.6 L428.7 247.6 L428.3 247.4 L427.6 248.2 L427.1 248.8 L426.6 249.5 L425.9 250.4 L425.0 251.6 L423.8 253.6 L422.6 255.6 L421.7 257.1 L421.0 258.2 L420.4 259.1 L419.9 260.1 L419.3 261.2Z M422.1 270.8 L423.4 269.7 L424.4 268.7 L425.5 267.7 L426.7 266.6 L428.3 265.3 L430.5 263.7 L432.5 262.2 L433.9 261.3 L434.7 260.8 L435.3 260.4 L436.0 260.1 L436.9 259.5 L436.7 259.1 L435.7 259.4 L435.0 259.6 L434.3 259.8 L433.2 260.2 L431.7 261.0 L429.5 262.3 L427.3 263.9 L425.5 265.2 L424.2 266.2 L423.1 267.2 L422.0 268.1 L420.7 269.2Z M425.7 282.7 L427.3 281.1 L428.6 279.7 L429.9 278.3 L431.4 276.8 L433.5 275.0 L436.5 272.7 L439.4 270.6 L441.4 269.3 L442.7 268.5 L443.8 268.0 L445.0 267.5 L446.4 266.7 L446.2 266.3 L444.7 266.9 L443.5 267.2 L442.3 267.5 L440.8 268.1 L438.6 269.3 L435.5 271.3 L432.4 273.6 L430.2 275.4 L428.5 276.9 L427.2 278.3 L425.9 279.6 L424.3 281.1Z M412.4 275.1 L411.3 274.4 L410.3 273.8 L409.3 273.2 L408.0 272.6 L406.5 271.8 L404.4 270.8 L402.3 269.9 L401.0 269.3 L400.0 269.1 L399.3 268.9 L398.6 268.8 L397.7 268.6 L397.5 269.0 L398.4 269.5 L399.0 269.8 L399.6 270.1 L400.4 270.5 L401.7 271.2 L403.6 272.2 L405.6 273.3 L407.1 274.2 L408.2 274.9 L409.2 275.6 L410.2 276.2 L411.4 276.9Z M421.6 289.2 L420.3 288.9 L419.1 288.6 L418.0 288.3 L416.6 288.0 L414.7 287.7 L412.2 287.2 L409.6 286.8 L407.9 286.6 L406.7 286.5 L405.8 286.5 L404.8 286.4 L403.6 286.4 L403.6 286.8 L404.7 287.1 L405.6 287.4 L406.5 287.6 L407.7 287.9 L409.4 288.2 L411.8 288.8 L414.4 289.4 L416.2 289.9 L417.5 290.2 L418.6 290.6 L419.8 290.9 L421.2 291.2Z M430.8 294.8 L432.4 295.0 L433.6 295.1 L434.9 295.2 L436.6 295.3 L438.8 295.3 L442.0 295.3 L445.2 295.2 L447.5 295.0 L449.1 294.8 L450.5 294.5 L451.8 294.3 L453.4 294.0 L453.4 293.6 L451.7 293.6 L450.4 293.6 L449.0 293.7 L447.4 293.7 L445.2 293.7 L442.0 293.7 L438.9 293.6 L436.7 293.4 L435.1 293.3 L433.9 293.1 L432.6 292.9 L431.0 292.8Z M442.8 295.2 L443.4 294.5 L443.9 293.9 L444.4 293.3 L444.9 292.6 L445.6 291.7 L446.6 290.5 L447.5 289.4 L448.1 288.6 L448.4 288.0 L448.6 287.6 L448.9 287.2 L449.2 286.6 L448.8 286.4 L448.3 286.8 L447.9 287.0 L447.6 287.3 L447.1 287.7 L446.4 288.4 L445.4 289.5 L444.3 290.6 L443.5 291.4 L442.9 292.0 L442.4 292.6 L441.8 293.1 L441.2 293.8Z M430.4 294.7 L431.9 295.5 L433.1 296.1 L434.3 296.8 L435.8 297.6 L437.8 298.5 L440.6 299.8 L443.1 301.0 L444.4 301.5 L445.2 301.7 L445.9 301.9 L447.2 302.4 L449.7 303.6 L452.5 305.0 L454.6 306.0 L456.1 306.9 L457.5 307.6 L458.8 308.4 L460.4 309.2 L460.6 308.8 L459.1 307.8 L457.9 307.0 L456.6 306.1 L455.1 305.1 L453.1 303.9 L450.3 302.4 L447.8 301.1 L446.5 300.5 L445.7 300.1 L445.0 299.9 L443.8 299.3 L441.4 298.2 L438.7 296.8 L436.8 295.8 L435.3 295.0 L434.1 294.3 L432.9 293.7 L431.4 292.9Z M446.6 301.9 L447.3 301.4 L448.0 300.9 L448.5 300.4 L449.2 300.0 L450.1 299.4 L451.3 298.7 L452.5 298.2 L453.2 297.9 L453.7 297.7 L454.1 297.6 L454.5 297.4 L455.0 297.2 L455.0 296.8 L454.4 296.8 L454.0 296.7 L453.6 296.6 L452.9 296.6 L452.0 296.8 L450.7 297.3 L449.3 297.8 L448.3 298.3 L447.5 298.8 L446.8 299.2 L446.2 299.7 L445.4 300.1Z M449.0 303.4 L449.3 304.1 L449.6 304.7 L449.9 305.3 L450.2 305.9 L450.7 306.9 L451.2 308.3 L451.8 309.6 L452.2 310.6 L452.5 311.3 L452.7 311.8 L453.0 312.4 L453.3 313.1 L453.7 312.9 L453.6 312.2 L453.6 311.6 L453.5 311.0 L453.4 310.2 L453.2 309.2 L452.8 307.7 L452.3 306.3 L452.0 305.2 L451.7 304.5 L451.5 303.9 L451.3 303.3 L451.0 302.6Z M432.8 317.8 L431.6 318.4 L430.6 319.0 L429.6 319.5 L428.4 320.2 L426.7 321.3 L424.5 322.8 L422.4 324.4 L421.0 325.7 L420.0 326.6 L419.3 327.5 L418.6 328.3 L417.7 329.2 L417.9 329.6 L419.0 328.8 L419.9 328.1 L420.7 327.5 L421.8 326.7 L423.3 325.6 L425.5 324.2 L427.7 322.8 L429.3 321.8 L430.5 321.2 L431.5 320.8 L432.6 320.3 L433.8 319.6Z M424.5 340.3 L423.5 340.9 L422.6 341.3 L421.8 341.8 L420.7 342.5 L419.4 343.5 L417.5 344.8 L415.7 346.3 L414.5 347.4 L413.7 348.2 L413.1 349.0 L412.5 349.7 L411.7 350.5 L412.1 350.9 L413.0 350.2 L413.7 349.6 L414.5 349.0 L415.4 348.4 L416.6 347.4 L418.5 346.2 L420.4 344.9 L421.7 344.1 L422.7 343.6 L423.6 343.1 L424.5 342.7 L425.5 342.1Z M424.1 340.8 L423.5 342.0 L423.0 343.0 L422.5 344.0 L422.0 345.3 L421.2 347.1 L420.2 349.7 L419.3 352.3 L418.7 354.1 L418.4 355.4 L418.1 356.5 L417.9 357.6 L417.6 358.9 L418.0 359.1 L418.6 357.8 L419.0 356.8 L419.4 355.8 L420.0 354.5 L420.7 352.8 L421.8 350.3 L422.8 347.8 L423.7 346.1 L424.3 344.9 L424.8 343.9 L425.3 342.9 L425.9 341.6Z M424.0 341.4 L424.2 342.5 L424.4 343.5 L424.7 344.3 L425.0 345.4 L425.3 347.0 L425.7 349.1 L426.1 351.3 L426.3 352.8 L426.5 353.9 L426.7 354.7 L426.9 355.6 L427.1 356.7 L427.5 356.7 L427.5 355.6 L427.6 354.7 L427.6 353.8 L427.6 352.7 L427.5 351.1 L427.3 348.9 L427.0 346.7 L426.8 345.1 L426.6 343.9 L426.4 343.0 L426.2 342.1 L426.0 341.0Z M424.5 342.1 L425.2 342.5 L425.9 342.8 L426.5 343.1 L427.2 343.4 L428.2 343.9 L429.6 344.7 L430.9 345.4 L431.8 346.0 L432.5 346.3 L433.0 346.6 L433.6 346.8 L434.3 347.2 L434.5 346.8 L434.0 346.3 L433.6 345.8 L433.2 345.4 L432.6 344.9 L431.7 344.2 L430.4 343.3 L429.1 342.4 L428.1 341.8 L427.4 341.4 L426.8 341.0 L426.2 340.7 L425.5 340.3Z M417.8 310.6 L417.2 310.6 L416.6 310.6 L416.1 310.7 L415.6 310.8 L415.0 310.8 L414.2 310.7 L413.4 310.6 L413.0 310.5 L412.8 310.5 L412.7 310.5 L412.4 310.3 L412.0 310.2 L411.8 310.6 L411.9 310.8 L412.0 311.1 L412.1 311.4 L412.4 311.7 L413.0 312.0 L413.8 312.3 L414.8 312.5 L415.5 312.6 L416.2 312.7 L416.8 312.7 L417.3 312.6 L417.8 312.6Z M464.3 345.8 L464.9 345.5 L465.3 345.4 L465.9 345.2 L466.6 344.9 L467.4 344.4 L468.4 343.5 L469.4 342.5 L470.0 341.7 L470.4 341.0 L470.6 340.4 L470.9 339.8 L471.2 339.1 L470.8 338.9 L470.3 339.5 L469.9 340.0 L469.6 340.5 L469.2 341.0 L468.5 341.7 L467.6 342.5 L466.6 343.2 L465.9 343.6 L465.4 343.8 L464.9 343.9 L464.3 344.0 L463.7 344.2Z M470.0 350.6 L470.4 351.0 L470.7 351.3 L471.1 351.5 L471.4 351.9 L471.8 352.4 L472.4 353.3 L473.0 354.3 L473.4 355.0 L473.6 355.5 L473.8 356.0 L474.0 356.5 L474.3 357.1 L474.7 356.9 L474.6 356.3 L474.6 355.8 L474.5 355.2 L474.4 354.6 L474.1 353.8 L473.6 352.7 L473.0 351.7 L472.6 350.9 L472.2 350.5 L471.8 350.1 L471.5 349.8 L471.2 349.4Z M458.7 369.0 L459.5 370.1 L460.2 370.9 L460.9 371.7 L461.6 372.7 L462.6 374.2 L463.8 376.3 L465.0 378.6 L465.7 380.2 L466.2 381.3 L466.5 382.3 L466.9 383.4 L467.4 384.6 L467.8 384.4 L467.5 383.2 L467.4 382.1 L467.2 381.1 L466.8 379.7 L466.2 378.0 L465.2 375.7 L464.0 373.3 L463.1 371.7 L462.3 370.6 L461.7 369.7 L461.0 368.9 L460.3 367.8Z M466.8 532.5 L468.1 534.8 L469.3 536.8 L470.5 538.7 L471.9 541.0 L473.7 544.1 L476.0 548.4 L478.3 552.5 L479.8 555.3 L480.9 557.2 L481.6 558.7 L482.4 560.2 L483.5 562.1 L483.9 561.9 L483.0 559.9 L482.4 558.3 L481.8 556.8 L480.9 554.8 L479.5 551.9 L477.4 547.6 L475.1 543.3 L473.4 540.2 L472.1 537.8 L470.9 535.8 L469.8 533.9 L468.4 531.5Z M473.7 532.3 L474.5 535.2 L475.1 537.6 L475.8 540.0 L476.6 542.9 L478.0 546.9 L480.0 552.3 L482.1 557.6 L483.7 561.2 L485.0 563.7 L486.2 565.7 L487.3 567.6 L488.6 570.1 L489.0 569.9 L487.9 567.3 L486.9 565.3 L486.0 563.3 L484.9 560.7 L483.4 557.1 L481.4 551.7 L479.5 546.3 L478.3 542.4 L477.5 539.5 L477.0 537.1 L476.4 534.7 L475.5 531.7Z M480.8 522.2 L481.4 524.9 L481.9 526.8 L482.4 528.7 L483.1 531.4 L484.2 535.6 L486.1 542.2 L488.1 549.2 L489.6 554.5 L490.9 558.6 L492.1 562.3 L493.3 565.9 L494.6 570.1 L495.0 569.9 L493.9 565.7 L492.9 562.0 L491.9 558.4 L490.8 554.1 L489.4 548.8 L487.5 541.8 L485.8 535.2 L484.8 531.0 L484.1 528.3 L483.7 526.4 L483.3 524.5 L482.6 521.8Z M487.9 532.3 L488.7 535.1 L489.4 537.5 L490.1 539.8 L491.0 542.6 L492.3 546.6 L494.1 552.2 L495.9 557.9 L497.2 561.8 L498.1 564.7 L499.0 566.9 L499.8 569.2 L500.8 572.1 L501.2 571.9 L500.4 569.0 L499.8 566.7 L499.2 564.3 L498.3 561.4 L497.2 557.4 L495.5 551.8 L493.9 546.1 L492.7 542.1 L491.9 539.2 L491.2 536.9 L490.6 534.6 L489.7 531.7Z M452.6 478.8 L452.4 479.8 L452.3 480.6 L452.1 481.5 L452.0 482.4 L451.7 483.5 L451.4 484.8 L451.0 486.0 L450.8 486.6 L450.7 487.0 L450.6 487.2 L450.4 487.4 L450.2 487.9 L450.6 488.1 L450.9 487.8 L451.1 487.7 L451.4 487.5 L451.7 487.1 L452.1 486.4 L452.6 485.2 L453.1 483.8 L453.4 482.7 L453.7 481.8 L453.8 480.9 L454.0 480.1 L454.2 479.2Z M475.2 463.6 L476.3 464.6 L477.3 465.3 L478.3 466.0 L479.4 466.9 L480.7 468.1 L482.2 469.8 L483.5 471.5 L484.3 472.6 L484.6 473.4 L484.8 474.0 L485.1 474.7 L485.5 475.6 L485.9 475.4 L485.7 474.5 L485.6 473.9 L485.5 473.1 L485.2 472.1 L484.5 470.8 L483.2 469.0 L481.7 467.2 L480.4 465.8 L479.3 464.8 L478.3 464.0 L477.3 463.3 L476.2 462.4Z M476.1 480.0 L476.9 481.0 L477.7 481.8 L478.5 482.5 L479.3 483.4 L480.1 484.5 L481.1 485.9 L482.0 487.3 L482.4 488.1 L482.5 488.6 L482.5 489.0 L482.6 489.4 L482.8 490.0 L483.2 490.0 L483.2 489.4 L483.3 489.0 L483.4 488.5 L483.4 487.8 L483.0 486.8 L482.3 485.3 L481.3 483.7 L480.4 482.4 L479.6 481.5 L478.8 480.7 L478.1 479.9 L477.3 479.0Z M360.7 262.8 L360.5 262.2 L360.4 261.7 L360.3 261.2 L360.2 260.6 L360.0 259.9 L359.8 258.9 L359.5 257.9 L359.4 257.3 L359.2 256.9 L359.1 256.7 L359.0 256.4 L358.8 256.0 L358.4 256.0 L358.3 256.4 L358.2 256.7 L358.2 257.1 L358.2 257.5 L358.2 258.1 L358.2 259.1 L358.4 260.1 L358.4 260.9 L358.5 261.5 L358.6 262.1 L358.6 262.6 L358.7 263.2Z M360.1 269.8 L361.0 269.5 L361.8 269.1 L362.6 268.8 L363.4 268.4 L364.6 267.9 L366.2 267.3 L367.8 266.8 L368.9 266.4 L369.6 266.2 L370.2 266.0 L370.8 265.8 L371.5 265.5 L371.5 265.1 L370.7 265.1 L370.1 265.1 L369.4 265.0 L368.6 265.1 L367.4 265.3 L365.8 265.7 L364.0 266.1 L362.7 266.5 L361.8 266.8 L361.0 267.1 L360.2 267.4 L359.3 267.8Z M360.7 288.9 L362.1 289.1 L363.2 289.1 L364.3 289.2 L365.5 289.3 L367.2 289.6 L369.7 290.3 L372.2 291.1 L373.9 291.8 L375.2 292.4 L376.2 292.9 L377.3 293.4 L378.6 294.0 L378.8 293.6 L377.6 292.8 L376.7 292.1 L375.8 291.4 L374.6 290.6 L372.8 289.7 L370.3 288.7 L367.7 287.8 L365.9 287.3 L364.5 287.1 L363.4 287.0 L362.3 286.9 L361.1 286.7Z M360.9 309.1 L362.3 309.1 L363.5 308.9 L364.6 308.7 L365.8 308.6 L367.5 308.7 L369.9 308.9 L372.1 309.2 L373.6 309.5 L374.7 309.7 L375.5 310.0 L376.3 310.3 L377.4 310.6 L377.6 310.2 L376.6 309.7 L375.9 309.2 L375.1 308.7 L374.1 308.1 L372.5 307.6 L370.1 307.1 L367.7 306.8 L365.9 306.6 L364.4 306.7 L363.3 306.7 L362.2 306.8 L360.9 306.9Z M363.3 325.7 L364.4 325.6 L365.4 325.5 L366.2 325.3 L367.3 325.2 L368.7 325.2 L370.9 325.4 L373.0 325.7 L374.5 326.0 L375.6 326.3 L376.5 326.6 L377.5 326.9 L378.6 327.2 L378.8 326.8 L377.7 326.3 L376.9 325.7 L376.1 325.2 L374.9 324.7 L373.4 324.1 L371.1 323.6 L368.9 323.3 L367.3 323.2 L366.0 323.2 L365.1 323.3 L364.2 323.4 L363.1 323.5Z M365.9 342.3 L366.8 342.0 L367.6 341.7 L368.3 341.5 L369.0 341.2 L370.2 341.0 L372.0 340.9 L373.8 340.8 L375.1 340.9 L376.0 341.0 L376.8 341.2 L377.6 341.3 L378.6 341.4 L378.8 341.0 L377.8 340.6 L377.1 340.3 L376.3 339.9 L375.3 339.5 L373.9 339.3 L372.0 339.1 L370.1 339.1 L368.7 339.2 L367.7 339.4 L366.9 339.7 L366.2 339.9 L365.3 340.1Z M363.3 357.8 L364.2 357.7 L365.0 357.6 L365.8 357.5 L366.6 357.4 L367.8 357.3 L369.4 357.4 L371.0 357.5 L372.1 357.6 L372.8 357.7 L373.5 357.9 L374.1 358.0 L374.9 358.1 L375.1 357.7 L374.3 357.3 L373.8 357.0 L373.2 356.6 L372.4 356.3 L371.3 355.9 L369.6 355.6 L367.9 355.4 L366.6 355.4 L365.6 355.4 L364.7 355.5 L364.0 355.5 L363.1 355.6Z" fill="#30a927" stroke="#fff" stroke-opacity="0.35" stroke-width="1.6" paint-order="stroke"/>
<path d="M453.4 342.0 C456.9 343.0 458.3 342.3 464.0 345.0 C469.7 347.7 468.4 348.3 470.6 350.0 M478.7 499.7 C477.0 502.5 475.0 497.2 473.6 508.0 C472.2 518.8 474.3 524.0 474.6 532.0" stroke="#30a927" stroke-width="1.43" fill="none" stroke-linecap="round" stroke-linejoin="round"/>
<path d="M440.3 350.0 C441.3 356.8 441.6 358.7 443.3 370.4 C445.0 382.1 443.6 375.1 445.5 385.0 C447.4 394.9 446.8 389.0 449.0 400.0 C451.2 411.0 451.9 401.3 452.0 418.0 C452.1 434.7 450.3 439.3 449.4 450.0" stroke="#30a927" stroke-width="1.56" fill="none" stroke-linecap="round" stroke-linejoin="round"/>
<path d="M276.7 219.0 C277.5 220.7 277.6 220.8 279.0 224.0 C280.4 227.2 280.3 227.0 281.0 228.5 M230.4 276.8 C232.3 277.9 232.2 278.3 236.0 280.0 C239.8 281.7 239.8 281.3 241.7 282.0 M224.0 289.0 C225.3 290.3 225.5 290.5 228.0 293.0 C230.5 295.5 230.3 295.3 231.4 296.4 M227.0 310.8 C225.5 313.2 225.5 312.6 222.5 318.0 C219.5 323.4 219.5 324.0 218.0 327.0 M421.4 270.0 C419.9 271.3 420.2 272.0 417.0 274.0 C413.8 276.0 413.6 275.3 411.9 276.0 M425.0 281.9 C424.3 283.4 424.2 283.7 423.0 286.5 C421.8 289.3 421.9 289.0 421.4 290.2 M430.9 293.8 C429.8 295.2 429.5 295.3 427.5 298.0 C425.5 300.7 425.8 300.7 425.0 302.0 M459.5 406.8 C458.7 411.2 458.3 410.6 457.0 420.0 C455.7 429.4 456.0 430.0 455.5 435.0 M455.5 435.0 C457.3 434.5 457.0 433.5 461.0 433.5 C465.0 433.5 465.4 434.5 467.6 435.0 M455.5 435.0 C456.0 438.7 455.7 439.0 457.0 446.0 C458.3 453.0 458.7 452.7 459.5 456.0 M467.6 435.0 C466.4 438.7 466.7 439.0 464.0 446.0 C461.3 453.0 461.0 452.7 459.5 456.0 M449.4 450.0 C450.9 451.3 450.6 452.0 454.0 454.0 C457.4 456.0 457.7 455.3 459.5 456.0 M449.4 450.0 C450.1 457.1 449.4 457.5 451.4 471.4 C453.4 485.3 452.5 478.1 455.5 491.6 C458.5 505.1 456.5 498.3 460.5 511.8 C464.5 525.3 465.2 525.3 467.6 532.0 M459.5 456.0 C460.8 462.5 460.8 462.3 463.5 475.5 C466.2 488.7 464.9 483.6 467.6 495.7 C470.3 507.8 469.3 499.7 471.6 511.8 C473.9 523.9 473.6 525.3 474.6 532.0 M467.6 435.0 C468.6 440.3 467.9 440.2 470.6 451.0 C473.3 461.8 473.7 455.2 475.7 467.4 C477.7 479.6 475.7 476.8 476.7 487.6 C477.7 498.4 477.0 488.2 478.7 499.7 C480.4 511.2 480.7 514.6 481.7 522.0 M481.7 522.0 C484.1 525.3 486.4 528.7 488.8 532.0" stroke="#30a927" stroke-width="1.69" fill="none" stroke-linecap="round" stroke-linejoin="round"/>
<path d="M299.7 238.8 C294.1 239.5 292.7 239.6 283.0 241.0 C273.3 242.4 278.8 242.0 270.5 243.0 C262.2 244.0 262.2 243.7 258.0 244.0 M218.0 327.0 C219.7 331.9 219.4 332.6 223.2 341.6 C227.0 350.6 226.0 345.9 229.4 354.0 C232.8 362.1 232.1 362.0 233.5 366.0 M387.0 230.9 C387.5 232.6 388.2 232.5 388.5 236.0 C388.8 239.5 388.2 239.7 388.0 241.5 M388.0 241.5 C390.7 242.7 389.7 242.2 396.0 245.0 C402.3 247.8 403.3 248.2 407.0 249.8 M433.3 318.7 C432.0 322.5 432.3 322.5 429.5 330.0 C426.7 337.5 426.5 337.5 425.0 341.2 M433.3 318.7 C436.1 321.8 436.6 322.6 441.6 328.0 C446.6 333.4 444.5 330.3 448.4 335.0 C452.3 339.7 450.4 335.7 453.4 342.0 C456.4 348.3 455.5 345.2 457.5 354.0 C459.5 362.8 460.2 359.6 459.5 368.4 C458.8 377.2 456.8 371.8 455.5 380.5 C454.2 389.2 454.2 385.8 455.5 394.6 C456.8 403.4 455.5 398.0 459.5 406.8 C463.5 415.6 464.9 411.6 467.6 421.0 C470.3 430.4 467.6 430.3 467.6 435.0 M444.0 375.6 C445.1 380.6 444.3 378.9 447.4 390.6 C450.5 402.3 450.7 396.0 453.4 410.8 C456.1 425.6 456.8 421.9 455.5 435.0 C454.2 448.1 451.4 445.0 449.4 450.0" stroke="#30a927" stroke-width="1.82" fill="none" stroke-linecap="round" stroke-linejoin="round"/>
<path d="M298.3 219.3 C294.5 218.9 294.2 218.3 287.0 218.2 C279.8 218.1 282.9 215.6 276.7 219.0 C270.5 222.4 275.0 224.3 268.4 228.5 C261.8 232.7 260.8 230.6 257.0 231.6 M298.9 222.3 C294.9 223.7 293.0 224.4 287.0 226.5 C281.0 228.6 286.5 225.1 281.0 228.5 C275.5 231.9 278.2 231.5 270.5 236.7 C262.8 241.9 262.2 241.6 258.0 244.0 M257.0 231.6 C254.7 233.3 253.7 232.2 250.0 236.7 C246.3 241.2 247.9 239.6 245.8 245.0 C243.7 250.4 245.5 246.8 243.8 253.0 C242.1 259.2 243.5 257.3 240.7 263.5 C237.9 269.7 238.9 267.3 235.5 271.7 C232.1 276.1 234.2 271.0 230.4 276.8 C226.6 282.6 226.8 280.1 224.0 289.0 C221.2 297.9 224.0 290.9 222.0 303.6 C220.0 316.3 219.3 319.2 218.0 327.0 M257.7 244.0 C255.1 245.7 254.3 245.6 250.0 249.0 C245.7 252.4 246.9 249.4 244.8 254.2 C242.7 259.0 244.8 254.2 243.8 263.5 C242.8 272.8 245.8 271.0 241.7 282.0 C237.6 293.0 236.3 286.8 231.4 296.4 C226.5 306.0 230.1 308.4 227.0 310.8 C223.9 313.2 223.7 306.0 222.0 303.6 M358.5 222.5 C361.7 222.9 361.7 221.3 368.0 223.7 C374.3 226.1 371.2 227.3 377.5 229.7 C383.8 232.1 381.5 228.9 387.0 230.9 C392.5 232.9 389.7 231.2 394.0 235.6 C398.3 240.0 395.7 239.3 400.0 244.0 C404.3 248.7 402.7 245.5 407.0 249.8 C411.3 254.1 408.6 253.0 413.0 257.0 C417.4 261.0 417.4 257.4 420.2 261.7 C423.0 266.0 419.8 263.3 421.4 270.0 C423.0 276.7 421.8 274.0 425.0 281.9 C428.2 289.8 428.1 281.5 430.9 293.8 C433.7 306.1 432.1 305.6 433.3 318.7 C434.5 331.8 432.4 321.9 434.4 333.0 C436.4 344.1 436.0 337.8 439.2 352.0 C442.4 366.2 441.2 359.6 444.0 375.6 C446.8 391.6 446.3 391.9 447.5 400.0 M407.0 249.8 C407.8 253.8 407.9 253.0 409.5 261.7 C411.1 270.4 407.9 266.5 411.9 276.0 C415.9 285.5 417.0 281.5 421.4 290.2 C425.8 298.9 424.2 295.7 425.0 302.0 C425.8 308.3 426.2 305.8 423.8 309.0 C421.4 312.2 419.8 310.7 417.8 311.6 M378.7 248.7 C377.1 251.5 377.6 251.1 374.0 257.0 C370.4 262.9 372.4 261.8 368.0 266.5 C363.6 271.2 363.3 269.6 360.9 271.2" stroke="#30a927" stroke-width="1.95" fill="none" stroke-linecap="round" stroke-linejoin="round"/>
<path d="M298.6 216.0 C298.7 217.4 298.5 212.7 298.9 220.3 C299.3 227.9 299.0 227.9 299.7 238.8 C300.4 249.7 300.3 244.1 301.0 253.0 C301.7 261.9 301.1 256.2 301.8 265.5 C302.5 274.8 302.3 270.0 303.0 281.0 C303.7 292.0 303.5 286.4 304.0 298.4 C304.5 310.4 304.3 304.0 304.6 317.0 C304.9 330.0 304.7 323.8 305.0 337.5 C305.3 351.2 305.2 345.7 305.5 358.0 C305.8 370.3 305.8 369.0 305.9 374.5 M359.7 263.0 C359.7 264.9 359.3 260.5 359.7 268.8 C360.1 277.1 360.5 274.7 360.9 287.8 C361.3 300.9 360.1 295.7 360.9 308.0 C361.7 320.3 361.6 313.5 363.2 324.6 C364.8 335.7 365.6 330.5 365.6 341.2 C365.6 351.9 365.2 344.8 363.2 356.7 C361.2 368.6 360.9 370.1 359.7 376.8" stroke="#30a927" stroke-width="2.41" fill="none" stroke-linecap="round" stroke-linejoin="round"/>
<path d="M355.5 221.0 C356.1 222.7 354.7 221.1 357.3 226.0 C359.9 230.9 358.8 229.6 363.2 235.6 C367.6 241.6 365.2 239.6 370.4 244.0 C375.6 248.4 374.0 247.9 378.7 248.7 C383.4 249.5 381.5 248.7 384.6 246.3 C387.7 243.9 386.9 243.1 388.0 241.5" stroke="#30a927" stroke-width="2.86" fill="none" stroke-linecap="round" stroke-linejoin="round"/>
<path d="M334.9 380.0 C334.9 366.7 335.0 366.7 335.0 340.0 C335.0 313.3 334.9 326.9 334.8 300.0 C334.7 273.1 334.0 276.8 334.7 259.3 C335.4 241.8 334.2 253.8 337.0 247.5 C339.8 241.2 338.2 243.6 343.0 240.4 C347.8 237.2 345.4 238.0 351.4 238.0 C357.4 238.0 354.6 238.4 360.9 240.4 C367.2 242.4 367.2 242.8 370.4 244.0" stroke="#2d8c20" stroke-width="3.79" fill="none" stroke-linecap="round" stroke-linejoin="round"/>
<path d="M334.9 380.0 C334.9 366.7 335.0 366.7 335.0 340.0 C335.0 313.3 334.9 326.9 334.8 300.0 C334.7 273.1 334.0 276.8 334.7 259.3 C335.4 241.8 334.2 253.8 337.0 247.5 C339.8 241.2 338.2 243.6 343.0 240.4 C347.8 237.2 345.4 238.0 351.4 238.0 C357.4 238.0 354.6 238.4 360.9 240.4 C367.2 242.4 367.2 242.8 370.4 244.0" stroke="#63c84a" stroke-width="2.29" fill="none" stroke-linecap="round" stroke-linejoin="round" transform="translate(-0.35,0)"/>
<ellipse cx="298.9" cy="220.3" rx="2.2" ry="3.5" transform="rotate(-3 298.9 220.3)" fill="url(#ndg)" stroke="#35a026" stroke-width="0.9"/>
<ellipse cx="299.7" cy="238.8" rx="2.2" ry="3.5" transform="rotate(-4 299.7 238.8)" fill="url(#ndg)" stroke="#35a026" stroke-width="0.9"/>
<ellipse cx="301.0" cy="253.0" rx="2.2" ry="3.5" transform="rotate(-4 301.0 253.0)" fill="url(#ndg)" stroke="#35a026" stroke-width="0.9"/>
<ellipse cx="301.8" cy="265.5" rx="2.2" ry="3.5" transform="rotate(-4 301.8 265.5)" fill="url(#ndg)" stroke="#35a026" stroke-width="0.9"/>
<ellipse cx="303.0" cy="281.0" rx="2.2" ry="3.5" transform="rotate(-4 303.0 281.0)" fill="url(#ndg)" stroke="#35a026" stroke-width="0.9"/>
<ellipse cx="304.0" cy="298.4" rx="2.2" ry="3.5" transform="rotate(-3 304.0 298.4)" fill="url(#ndg)" stroke="#35a026" stroke-width="0.9"/>
<ellipse cx="304.6" cy="317.0" rx="2.2" ry="3.5" transform="rotate(-1 304.6 317.0)" fill="url(#ndg)" stroke="#35a026" stroke-width="0.9"/>
<ellipse cx="305.0" cy="337.5" rx="2.2" ry="3.5" transform="rotate(-1 305.0 337.5)" fill="url(#ndg)" stroke="#35a026" stroke-width="0.9"/>
<ellipse cx="305.5" cy="358.0" rx="2.2" ry="3.5" transform="rotate(-1 305.5 358.0)" fill="url(#ndg)" stroke="#35a026" stroke-width="0.9"/>
<ellipse cx="276.7" cy="219.0" rx="2.4" ry="3.4" transform="rotate(60 276.7 219.0)" fill="url(#ndg)" stroke="#35a026" stroke-width="0.9"/>
<ellipse cx="281.0" cy="228.5" rx="2.4" ry="3.4" transform="rotate(50 281.0 228.5)" fill="url(#ndg)" stroke="#35a026" stroke-width="0.9"/>
<ellipse cx="257.0" cy="231.6" rx="3.3" ry="4.4" transform="rotate(70 257.0 231.6)" fill="url(#ndg)" stroke="#35a026" stroke-width="0.9"/>
<ellipse cx="257.7" cy="244.0" rx="2.5" ry="3.6" transform="rotate(50 257.7 244.0)" fill="url(#ndg)" stroke="#35a026" stroke-width="0.9"/>
<ellipse cx="243.8" cy="253.0" rx="2.6" ry="3.8" transform="rotate(10 243.8 253.0)" fill="url(#ndg)" stroke="#35a026" stroke-width="0.9"/>
<ellipse cx="230.4" cy="276.8" rx="2.6" ry="3.7" transform="rotate(30 230.4 276.8)" fill="url(#ndg)" stroke="#35a026" stroke-width="0.9"/>
<ellipse cx="241.7" cy="282.0" rx="2.6" ry="3.7" transform="rotate(20 241.7 282.0)" fill="url(#ndg)" stroke="#35a026" stroke-width="0.9"/>
<ellipse cx="224.0" cy="289.0" rx="2.5" ry="3.6" transform="rotate(20 224.0 289.0)" fill="url(#ndg)" stroke="#35a026" stroke-width="0.9"/>
<ellipse cx="231.4" cy="296.4" rx="2.5" ry="3.6" transform="rotate(30 231.4 296.4)" fill="url(#ndg)" stroke="#35a026" stroke-width="0.9"/>
<ellipse cx="222.0" cy="303.6" rx="2.7" ry="3.8" transform="rotate(0 222.0 303.6)" fill="url(#ndg)" stroke="#35a026" stroke-width="0.9"/>
<ellipse cx="227.0" cy="310.8" rx="2.4" ry="3.4" transform="rotate(10 227.0 310.8)" fill="url(#ndg)" stroke="#35a026" stroke-width="0.9"/>
<ellipse cx="218.0" cy="327.0" rx="2.6" ry="3.8" transform="rotate(10 218.0 327.0)" fill="url(#ndg)" stroke="#35a026" stroke-width="0.9"/>
<ellipse cx="229.4" cy="354.0" rx="2.6" ry="3.8" transform="rotate(-20 229.4 354.0)" fill="url(#ndg)" stroke="#35a026" stroke-width="0.9"/>
<ellipse cx="368.0" cy="223.7" rx="2.4" ry="3.5" transform="rotate(80 368.0 223.7)" fill="url(#ndg)" stroke="#35a026" stroke-width="0.9"/>
<ellipse cx="387.0" cy="230.9" rx="2.7" ry="3.8" transform="rotate(80 387.0 230.9)" fill="url(#ndg)" stroke="#35a026" stroke-width="0.9"/>
<ellipse cx="388.0" cy="241.5" rx="2.4" ry="3.4" transform="rotate(10 388.0 241.5)" fill="url(#ndg)" stroke="#35a026" stroke-width="0.9"/>
<ellipse cx="407.0" cy="249.8" rx="2.8" ry="4.0" transform="rotate(-40 407.0 249.8)" fill="url(#ndg)" stroke="#35a026" stroke-width="0.9"/>
<ellipse cx="420.2" cy="261.7" rx="2.5" ry="3.6" transform="rotate(-20 420.2 261.7)" fill="url(#ndg)" stroke="#35a026" stroke-width="0.9"/>
<ellipse cx="421.4" cy="270.0" rx="2.4" ry="3.4" transform="rotate(0 421.4 270.0)" fill="url(#ndg)" stroke="#35a026" stroke-width="0.9"/>
<ellipse cx="411.9" cy="276.0" rx="2.5" ry="3.6" transform="rotate(-30 411.9 276.0)" fill="url(#ndg)" stroke="#35a026" stroke-width="0.9"/>
<ellipse cx="425.0" cy="281.9" rx="2.5" ry="3.6" transform="rotate(-15 425.0 281.9)" fill="url(#ndg)" stroke="#35a026" stroke-width="0.9"/>
<ellipse cx="421.4" cy="290.2" rx="2.4" ry="3.4" transform="rotate(-10 421.4 290.2)" fill="url(#ndg)" stroke="#35a026" stroke-width="0.9"/>
<ellipse cx="430.9" cy="293.8" rx="2.6" ry="3.8" transform="rotate(-15 430.9 293.8)" fill="url(#ndg)" stroke="#35a026" stroke-width="0.9"/>
<ellipse cx="425.0" cy="302.0" rx="2.4" ry="3.4" transform="rotate(10 425.0 302.0)" fill="url(#ndg)" stroke="#35a026" stroke-width="0.9"/>
<ellipse cx="433.3" cy="318.7" rx="2.7" ry="4.0" transform="rotate(-5 433.3 318.7)" fill="url(#ndg)" stroke="#35a026" stroke-width="0.9"/>
<ellipse cx="425.0" cy="341.2" rx="2.6" ry="3.8" transform="rotate(20 425.0 341.2)" fill="url(#ndg)" stroke="#35a026" stroke-width="0.9"/>
<ellipse cx="357.5" cy="226.5" rx="2.2" ry="3.6" transform="rotate(-25 357.5 226.5)" fill="url(#ndg)" stroke="#35a026" stroke-width="0.9"/>
<ellipse cx="459.5" cy="406.8" rx="2.7" ry="3.8" transform="rotate(20 459.5 406.8)" fill="url(#ndg)" stroke="#35a026" stroke-width="0.9"/>
<ellipse cx="455.5" cy="435.0" rx="2.7" ry="3.8" transform="rotate(5 455.5 435.0)" fill="url(#ndg)" stroke="#35a026" stroke-width="0.9"/>
<ellipse cx="467.6" cy="435.0" rx="2.7" ry="3.8" transform="rotate(0 467.6 435.0)" fill="url(#ndg)" stroke="#35a026" stroke-width="0.9"/>
<ellipse cx="449.4" cy="450.0" rx="2.7" ry="3.8" transform="rotate(10 449.4 450.0)" fill="url(#ndg)" stroke="#35a026" stroke-width="0.9"/>
<ellipse cx="459.5" cy="456.0" rx="2.7" ry="3.8" transform="rotate(-20 459.5 456.0)" fill="url(#ndg)" stroke="#35a026" stroke-width="0.9"/>
<ellipse cx="359.7" cy="268.8" rx="2.2" ry="3.5" transform="rotate(-3 359.7 268.8)" fill="url(#ndg)" stroke="#35a026" stroke-width="0.9"/>
<ellipse cx="360.9" cy="287.8" rx="2.2" ry="3.5" transform="rotate(-2 360.9 287.8)" fill="url(#ndg)" stroke="#35a026" stroke-width="0.9"/>
<ellipse cx="360.9" cy="308.0" rx="2.2" ry="3.5" transform="rotate(-4 360.9 308.0)" fill="url(#ndg)" stroke="#35a026" stroke-width="0.9"/>
<ellipse cx="363.2" cy="324.6" rx="2.2" ry="3.5" transform="rotate(-8 363.2 324.6)" fill="url(#ndg)" stroke="#35a026" stroke-width="0.9"/>
<ellipse cx="365.6" cy="341.2" rx="2.2" ry="3.5" transform="rotate(0 365.6 341.2)" fill="url(#ndg)" stroke="#35a026" stroke-width="0.9"/>
<ellipse cx="363.2" cy="356.7" rx="2.2" ry="3.5" transform="rotate(9 363.2 356.7)" fill="url(#ndg)" stroke="#35a026" stroke-width="0.9"/>
<ellipse cx="359.7" cy="376.8" rx="2.2" ry="3.5" transform="rotate(10 359.7 376.8)" fill="url(#ndg)" stroke="#35a026" stroke-width="0.9"/>
</g>
<g opacity="1">
<path d="M359.7 376.8 C361.0 377.9 360.7 378.0 363.5 380.0 C366.3 382.0 365.0 380.6 368.0 382.8 C371.0 385.0 369.6 384.1 372.5 386.5 C375.4 388.9 375.3 388.8 376.7 390.0 M368.0 382.8 C366.1 385.5 366.5 386.3 362.3 391.0 C358.1 395.7 361.0 392.7 355.4 397.0 C349.8 401.3 352.4 399.0 345.4 404.0 C338.4 409.0 338.1 409.3 334.5 412.0 M329.6 441.0 C329.6 446.7 330.1 449.7 329.7 458.0 C329.3 466.3 329.4 461.2 328.5 466.0 C327.6 470.8 327.8 467.8 326.9 472.5 C326.0 477.2 326.2 477.5 325.8 480.0 M329.7 458.0 C327.3 456.7 327.8 456.8 322.6 454.0 C317.4 451.2 320.2 452.0 314.0 449.7 C307.8 447.4 310.7 447.5 304.0 447.0 C297.3 446.5 299.7 448.8 294.0 448.3 C288.3 447.8 291.7 447.9 287.0 445.5 C282.3 443.1 284.2 443.2 279.9 441.0 C275.6 438.8 276.0 439.7 274.0 439.0 M308.0 448.0 C306.7 451.3 307.2 451.3 304.0 458.0 C300.8 464.7 303.1 462.2 298.4 468.0 C293.7 473.8 294.6 470.6 289.8 475.4 C285.0 480.2 285.9 480.1 284.0 482.5 M294.0 448.3 C292.1 450.7 292.2 451.7 288.4 455.5 C284.6 459.3 287.5 458.3 282.7 459.7 C277.9 461.1 279.2 459.3 274.0 459.7 C268.8 460.1 269.3 460.6 267.0 461.0 M298.4 468.0 C295.9 467.3 294.8 466.9 291.0 466.0 C287.2 465.1 289.8 467.5 287.0 465.4 C284.2 463.3 284.1 461.6 282.7 459.7 M334.0 499.6 C336.3 502.0 335.8 502.9 341.0 506.7 C346.2 510.5 344.4 509.1 349.7 511.0 C355.0 512.9 350.6 511.0 356.8 512.4 C363.0 513.8 360.6 514.8 368.2 515.3 C375.8 515.8 373.4 515.7 379.6 513.8 C385.8 511.9 382.0 512.9 386.7 509.6 C391.4 506.3 390.5 508.7 393.8 503.9 C397.1 499.1 396.0 501.9 396.7 495.3 C397.4 488.7 397.0 491.6 396.0 484.0 C395.0 476.4 396.9 478.2 393.8 472.5 C390.7 466.8 389.5 471.5 386.7 466.8 C383.9 462.1 385.8 461.1 385.3 458.3 M395.2 458.3 C395.5 461.1 396.5 462.1 396.0 466.8 C395.5 471.5 394.5 470.6 393.8 472.5 M393.8 472.5 C391.4 474.9 391.0 475.3 386.7 479.6 C382.4 483.9 382.0 480.2 381.0 485.4 C380.0 490.6 381.9 489.6 383.8 495.3 C385.7 501.0 385.7 497.6 386.7 502.4 C387.7 507.2 386.7 507.2 386.7 509.6 M381.0 485.4 C379.6 483.0 379.1 483.4 376.7 478.2 C374.3 473.0 374.8 472.5 373.9 469.7 M325.8 480.0 C323.2 485.5 323.4 485.5 318.0 496.6 C312.6 507.7 315.2 503.8 309.7 513.2 C304.2 522.6 307.5 517.7 301.4 524.9 C295.3 532.1 297.5 528.2 291.4 534.8 C285.3 541.4 289.6 537.1 283.0 544.8 C276.4 552.5 272.6 549.7 271.5 558.0 C270.4 566.3 279.8 560.8 279.8 569.7 C279.8 578.6 273.2 573.1 271.5 584.7 C269.8 596.3 272.6 588.0 274.8 604.6 C277.0 621.2 276.9 624.5 278.0 634.5 M326.0 484.0 C325.0 489.3 325.7 489.2 323.0 500.0 C320.3 510.8 322.4 506.6 318.0 516.5 C313.6 526.4 316.4 519.8 309.7 529.8 C303.0 539.8 304.6 536.4 298.0 546.4 C291.4 556.4 293.1 549.7 289.8 559.7 C286.5 569.7 287.5 565.2 288.0 576.3 C288.5 587.4 291.4 579.8 291.4 593.0 C291.4 606.2 288.5 599.4 288.0 616.0 C287.5 632.6 289.2 627.8 289.8 642.8 C290.4 657.8 290.1 648.6 289.8 661.0 C289.5 673.4 289.3 673.7 289.0 680.0 M327.5 482.0 C328.2 488.0 327.2 488.5 329.6 500.0 C332.0 511.5 330.7 506.6 334.6 516.5 C338.5 526.4 335.8 519.8 341.3 529.8 C346.8 539.8 345.7 535.3 351.2 546.4 C356.7 557.5 355.1 551.9 357.9 563.0 C360.7 574.1 360.1 569.7 359.5 579.7 C358.9 589.7 356.7 581.9 356.2 593.0 C355.7 604.1 356.8 598.6 357.9 612.9 C359.0 627.2 359.5 620.5 359.5 636.0 C359.5 651.5 358.9 646.1 357.9 659.4 C356.9 672.7 357.0 670.5 356.5 676.0 M328.0 486.0 C329.7 489.5 329.7 488.1 333.0 496.6 C336.3 505.1 333.6 502.7 338.0 511.6 C342.4 520.5 340.1 514.4 346.2 523.2 C352.3 532.0 349.5 529.7 356.2 538.0 C362.9 546.3 360.1 541.3 366.2 548.0 C372.3 554.7 374.5 550.8 374.5 558.0 C374.5 565.2 366.8 561.4 366.2 569.7 C365.6 578.0 372.3 573.0 372.8 583.0 C373.3 593.0 368.9 587.4 367.8 599.6 C366.7 611.8 370.0 607.4 369.5 619.5 C369.0 631.6 367.2 625.8 366.2 636.0 C365.2 646.2 366.4 645.3 366.5 650.0 M271.5 558.0 C274.3 558.0 273.9 557.4 280.0 558.0 C286.1 558.6 286.5 559.1 289.8 559.7 M279.8 569.7 C281.2 570.8 281.3 570.8 284.0 573.0 C286.7 575.2 286.7 575.2 288.0 576.3 M271.5 584.7 C274.7 586.8 274.4 588.2 281.0 591.0 C287.6 593.8 287.9 592.3 291.4 593.0 M274.8 604.6 C276.9 606.4 276.6 606.2 281.0 610.0 C285.4 613.8 285.7 614.0 288.0 616.0 M278.0 634.5 C279.7 631.3 279.7 631.2 283.0 625.0 C286.3 618.8 286.3 619.0 288.0 616.0 M278.0 634.5 C280.0 636.0 280.1 636.2 284.0 639.0 C287.9 641.8 287.9 641.5 289.8 642.8 M283.0 544.8 C285.3 544.9 285.0 544.5 290.0 545.0 C295.0 545.5 295.3 545.9 298.0 546.4 M318.0 496.6 C318.7 499.7 320.0 499.4 320.0 506.0 C320.0 512.6 318.7 513.0 318.0 516.5 M309.7 513.2 C310.1 515.8 311.0 515.5 311.0 521.0 C311.0 526.5 310.1 526.9 309.7 529.8 M301.4 524.9 C300.9 528.6 301.1 528.8 300.0 536.0 C298.9 543.2 298.7 542.9 298.0 546.4 M374.5 558.0 C371.7 558.7 371.5 558.3 366.0 560.0 C360.5 561.7 360.6 562.0 357.9 563.0 M366.2 569.7 C364.8 571.5 364.2 571.7 362.0 575.0 C359.8 578.3 360.3 578.1 359.5 579.7 M372.8 583.0 C369.9 585.0 369.5 585.7 364.0 589.0 C358.5 592.3 358.8 591.7 356.2 593.0 M367.8 599.6 C365.9 601.7 365.3 601.6 362.0 606.0 C358.7 610.4 359.3 610.6 357.9 612.9 M369.5 619.5 C367.3 622.0 366.3 621.5 363.0 627.0 C359.7 632.5 360.7 633.0 359.5 636.0 M369.5 619.5 C367.0 618.3 365.9 618.2 362.0 616.0 C358.1 613.8 359.3 613.9 357.9 612.9 M366.2 548.0 C363.5 547.7 363.0 547.5 358.0 547.0 C353.0 546.5 353.5 546.6 351.2 546.4 M333.0 496.6 C332.3 499.7 330.5 499.4 331.0 506.0 C331.5 512.6 333.4 513.0 334.6 516.5 M338.0 511.6 C337.7 514.4 335.9 513.9 337.0 520.0 C338.1 526.1 339.9 526.5 341.3 529.8 M346.2 523.2 C346.5 527.1 345.3 527.3 347.0 535.0 C348.7 542.7 349.8 542.6 351.2 546.4 M356.2 538.0 C356.1 542.0 355.4 541.7 356.0 550.0 C356.6 558.3 357.3 558.7 357.9 563.0 M278.0 634.5 C274.7 638.3 273.5 638.6 268.0 646.0 C262.5 653.4 265.9 646.4 261.5 656.6 C257.1 666.8 257.7 659.9 254.9 676.5 C252.1 693.1 254.3 686.5 253.2 706.4 C252.1 726.3 252.7 723.4 251.6 736.3 C250.5 749.2 250.5 742.1 250.0 745.0 M278.0 634.5 C278.4 639.0 278.7 639.5 279.3 648.0 C279.9 656.5 278.6 648.3 279.8 660.0 C281.0 671.7 282.4 667.5 283.0 683.0 C283.6 698.5 284.2 693.1 281.5 706.4 C278.8 719.7 277.4 708.6 274.8 723.0 C272.2 737.4 273.8 731.9 273.8 749.6 C273.8 767.3 273.9 760.5 274.8 776.0 C275.7 791.5 275.5 782.3 276.5 796.0 C277.5 809.7 277.3 810.0 277.7 817.0 M254.9 676.5 C257.6 683.2 258.0 683.2 263.0 696.5 C268.0 709.8 265.9 707.6 269.8 716.4 C273.7 725.2 273.1 720.8 274.8 723.0 M289.8 661.0 C289.8 664.0 290.4 661.5 289.8 670.0 C289.2 678.5 289.1 675.5 288.0 686.5 C286.9 697.5 284.7 693.0 286.4 703.0 C288.1 713.0 290.2 703.1 293.0 716.4 C295.8 729.7 295.3 727.5 294.8 743.0 C294.3 758.5 292.5 748.7 291.4 763.0 C290.3 777.3 290.7 774.7 291.4 786.0 C292.1 797.3 293.7 791.0 293.4 797.0 C293.1 803.0 293.8 796.8 290.5 804.0 C287.2 811.2 286.2 811.3 283.4 818.5 C280.6 825.7 282.5 823.2 282.0 825.6 M281.5 706.4 C282.3 705.6 282.4 705.1 284.0 704.0 C285.6 702.9 285.6 703.3 286.4 703.0 M291.4 763.0 C288.6 766.0 288.1 767.0 283.0 772.0 C277.9 777.0 278.3 776.0 276.0 778.0 M357.9 659.4 C356.8 665.1 356.3 664.1 354.6 676.5 C352.9 688.9 352.4 683.2 352.9 696.5 C353.4 709.8 355.6 702.0 356.2 716.4 C356.8 730.8 356.3 724.2 354.6 739.7 C352.9 755.2 353.4 748.6 351.2 763.0 C349.0 777.4 349.0 776.2 347.9 782.8 M366.5 650.0 C365.8 653.3 366.3 650.0 364.5 660.0 C362.7 670.0 361.7 667.8 361.2 680.0 C360.7 692.2 359.0 685.5 362.9 696.5 C366.8 707.5 369.3 698.6 372.8 713.0 C376.3 727.4 374.0 722.0 373.5 739.7 C373.0 757.4 372.0 749.4 371.2 766.2 C370.4 783.0 371.3 777.4 371.0 790.0 C370.7 802.6 371.2 795.5 370.3 804.0 C369.4 812.5 369.0 811.7 368.3 815.6 M352.9 696.5 C354.3 693.7 354.2 693.5 357.0 688.0 C359.8 682.5 359.8 682.7 361.2 680.0 M356.2 733.0 C358.4 740.8 359.6 742.3 362.9 756.3 C366.2 770.3 363.5 762.1 366.0 775.0 C368.5 787.9 369.0 788.3 370.5 795.0 M369.5 619.5 C370.3 623.0 369.8 623.2 372.0 630.0 C374.2 636.8 373.2 630.0 376.2 640.0 C379.2 650.0 377.7 645.7 381.0 660.0 C384.3 674.3 386.5 670.8 386.0 683.0 C385.5 695.2 383.9 686.5 379.5 696.5 C375.1 706.5 375.0 707.5 372.8 713.0 M386.0 683.0 C388.3 690.8 388.9 689.7 392.8 706.4 C396.7 723.1 395.0 718.6 397.7 733.0 C400.4 747.4 399.9 744.1 401.0 749.6 M347.9 782.8 C350.1 785.2 350.5 783.8 354.6 790.0 C358.7 796.2 355.7 792.9 360.3 801.4 C364.9 809.9 365.6 810.9 368.3 815.6 M372.0 770.0 C373.3 782.3 372.3 790.0 376.0 807.0 C379.7 824.0 378.3 810.5 383.0 821.0 C387.7 831.5 387.8 832.6 390.2 838.4 M277.7 817.0 C275.3 821.3 275.3 821.0 270.6 830.0 C265.9 839.0 266.4 833.7 263.5 844.0 C260.6 854.3 262.5 855.3 262.0 861.0 M270.6 830.0 C271.1 834.7 271.0 837.0 272.0 844.0 C273.0 851.0 271.6 843.3 273.5 851.0 C275.4 858.7 275.3 858.0 277.7 867.0 C280.1 876.0 280.6 870.4 280.6 878.0 C280.6 885.6 280.1 882.0 277.7 889.7 C275.3 897.4 276.8 893.4 273.5 901.0 C270.2 908.6 270.2 903.9 267.8 912.5 C265.4 921.1 266.8 922.0 266.3 926.7 M277.7 817.0 C278.5 818.3 278.6 817.7 280.0 821.0 C281.4 824.3 281.3 825.0 282.0 827.0 M282.0 827.0 C281.5 832.2 281.1 837.5 280.6 842.7 M282.0 827.0 C285.3 832.7 288.7 838.3 292.0 844.0 M280.6 842.7 C284.4 843.1 288.2 843.6 292.0 844.0 M280.6 842.7 C278.2 845.5 275.9 848.2 273.5 851.0 M280.6 842.7 C283.0 849.8 285.3 856.9 287.7 864.0 M292.0 844.0 C290.6 850.7 289.1 857.3 287.7 864.0 M273.5 851.0 C278.2 855.3 283.0 859.7 287.7 864.0 M287.7 864.0 C286.7 867.8 284.8 866.8 284.8 875.4 C284.8 884.0 286.3 878.3 287.7 889.7 C289.1 901.1 288.1 897.3 289.0 909.6 C289.9 921.9 288.1 916.2 290.5 926.7 C292.9 937.2 292.5 931.6 296.2 941.0 C299.9 950.4 299.7 950.3 301.5 955.0 M287.7 889.7 C290.5 887.8 291.4 884.0 296.2 884.0 C301.0 884.0 297.7 883.0 302.0 889.7 C306.3 896.4 305.7 893.6 309.0 904.0 C312.3 914.4 310.6 908.7 312.0 921.0 C313.4 933.3 312.9 934.3 313.3 941.0 M302.0 889.7 C302.0 896.3 301.5 897.3 302.0 909.6 C302.5 921.9 303.1 916.2 303.4 926.7 C303.7 937.2 302.5 932.6 303.0 941.0 C303.5 949.4 303.8 945.8 304.8 952.0 C305.8 958.2 306.9 953.6 305.9 959.6 C304.9 965.6 304.6 961.9 301.9 970.0 C299.2 978.1 299.2 979.2 297.8 983.8 M289.0 909.6 C288.6 915.3 288.0 916.6 287.7 926.7 C287.4 936.8 288.3 932.6 288.2 940.0 C288.1 947.4 289.7 942.5 287.5 949.0 C285.3 955.5 284.5 950.7 281.7 959.6 C278.9 968.5 279.9 970.3 279.0 975.7 M292.0 844.0 C292.5 849.7 292.0 850.5 293.4 861.0 C294.8 871.5 295.3 867.7 296.2 875.4 C297.1 883.1 296.2 881.1 296.2 884.0 M368.3 815.6 C364.9 820.8 361.4 826.1 358.0 831.3 M368.3 815.6 C369.2 820.8 370.1 826.1 371.0 831.3 M358.0 831.3 C362.3 831.3 366.7 831.3 371.0 831.3 M371.0 831.3 C372.7 834.6 374.3 838.0 376.0 841.3 M358.0 831.3 C359.5 839.9 361.1 848.4 362.6 857.0 M376.0 841.3 C371.5 846.5 367.1 851.8 362.6 857.0 M371.0 831.3 C368.2 839.9 365.4 848.4 362.6 857.0 M368.3 815.6 C371.2 819.1 374.4 817.4 377.0 826.0 C379.6 834.6 376.3 836.2 376.0 841.3 M358.0 831.3 C357.3 841.2 357.6 844.4 356.0 861.0 C354.4 877.6 356.0 868.7 353.2 881.0 C350.4 893.3 352.2 888.5 347.5 898.0 C342.8 907.5 343.3 900.9 339.0 909.6 C334.7 918.3 336.1 919.2 334.7 924.0 M347.5 898.0 C348.0 903.7 348.0 904.5 349.0 915.0 C350.0 925.5 351.4 920.9 350.4 929.6 C349.4 938.3 347.8 935.2 346.0 941.0 C344.2 946.8 344.5 942.7 345.0 947.0 C345.5 951.3 348.1 949.8 347.6 954.0 C347.1 958.2 346.0 953.3 343.5 959.6 C341.0 965.9 341.2 968.5 340.0 973.0 M362.6 857.0 C363.7 862.2 364.4 863.6 366.0 872.6 C367.6 881.6 368.3 876.4 367.4 884.0 C366.5 891.6 365.6 886.9 363.2 895.4 C360.8 903.9 361.3 900.1 360.3 909.6 C359.3 919.1 359.7 915.2 360.3 924.0 C360.9 932.8 360.4 928.7 362.0 936.0 C363.6 943.3 364.9 938.1 365.0 946.0 C365.1 953.9 364.6 951.6 362.4 959.6 C360.2 967.6 360.5 965.5 358.3 970.0 C356.1 974.5 356.6 972.0 355.7 973.0 M360.3 918.0 C358.5 920.7 358.3 922.1 355.0 926.0 C351.7 929.9 351.9 928.4 350.4 929.6 M367.4 884.0 C369.3 888.7 370.6 887.7 373.0 898.0 C375.4 908.3 374.6 903.5 374.6 915.0 C374.6 926.5 373.5 926.6 373.0 932.4 M376.0 841.3 C375.5 847.9 376.5 848.8 374.6 861.0 C372.7 873.2 372.7 870.3 370.3 878.0 C367.9 885.7 368.4 882.0 367.4 884.0 M287.5 949.0 C288.3 954.3 287.7 955.2 289.8 965.0 C291.9 974.8 291.1 972.1 293.8 978.4 C296.5 984.7 296.7 976.6 297.8 983.8 C298.9 991.0 297.3 994.6 297.0 1000.0 M347.6 954.0 C348.9 957.7 348.9 958.7 351.6 965.0 C354.3 971.3 354.8 965.0 355.7 973.0 C356.6 981.0 354.8 983.7 354.3 989.0" stroke="#fff" stroke-opacity="0.45" stroke-width="3.6" fill="none" stroke-linecap="round" stroke-linejoin="round"/>
<path d="M307.1 423.1 L307.2 424.3 L307.4 425.2 L307.6 426.1 L307.8 427.3 L308.0 428.8 L308.3 431.1 L308.6 433.3 L308.9 434.9 L309.0 436.0 L309.2 437.0 L309.4 437.9 L309.6 439.0 L310.0 439.0 L310.1 437.8 L310.2 436.9 L310.2 436.0 L310.2 434.8 L310.2 433.2 L310.1 430.9 L309.9 428.6 L309.8 427.0 L309.7 425.9 L309.6 424.9 L309.5 424.0 L309.3 422.9Z M368.3 383.8 L369.8 383.3 L371.1 382.8 L372.2 382.3 L373.6 381.8 L375.5 381.4 L378.1 381.0 L380.6 380.8 L382.3 380.9 L383.5 381.0 L384.4 381.2 L385.4 381.5 L386.7 381.6 L386.7 381.2 L385.6 380.8 L384.7 380.4 L383.7 379.9 L382.5 379.6 L380.6 379.4 L377.9 379.4 L375.2 379.6 L373.2 380.0 L371.6 380.4 L370.3 380.9 L369.1 381.4 L367.7 381.8Z M377.1 391.0 L378.2 390.5 L379.2 390.0 L380.1 389.6 L381.1 389.1 L382.4 388.5 L384.3 387.8 L386.0 387.1 L387.1 386.8 L387.8 386.5 L388.3 386.4 L388.8 386.2 L389.5 385.9 L389.5 385.5 L388.7 385.5 L388.2 385.5 L387.6 385.4 L386.8 385.5 L385.5 385.7 L383.7 386.2 L381.8 386.8 L380.4 387.3 L379.3 387.8 L378.3 388.2 L377.4 388.6 L376.3 389.0Z M376.3 391.0 L377.3 391.4 L378.2 391.7 L379.0 391.9 L379.9 392.2 L381.0 392.8 L382.5 393.7 L383.9 394.6 L384.8 395.2 L385.3 395.7 L385.8 396.1 L386.2 396.6 L386.8 397.1 L387.2 396.9 L386.8 396.2 L386.5 395.6 L386.2 395.0 L385.7 394.3 L384.9 393.4 L383.5 392.3 L381.9 391.3 L380.7 390.6 L379.7 390.1 L378.8 389.7 L378.0 389.4 L377.1 389.0Z M360.6 377.5 L361.1 376.7 L361.5 376.0 L361.8 375.2 L362.2 374.5 L362.8 373.6 L363.6 372.5 L364.4 371.6 L364.9 371.1 L365.1 370.9 L365.3 370.7 L365.7 370.5 L366.1 370.2 L365.9 369.8 L365.5 369.9 L365.1 369.9 L364.7 369.9 L364.1 370.1 L363.4 370.6 L362.4 371.5 L361.4 372.5 L360.7 373.4 L360.1 374.3 L359.7 375.0 L359.3 375.7 L358.8 376.5Z M281.9 459.2 L281.2 460.3 L280.8 461.2 L280.3 462.1 L279.7 463.1 L278.9 464.5 L277.8 466.4 L276.6 468.2 L275.8 469.4 L275.3 470.2 L274.8 470.8 L274.4 471.5 L273.8 472.4 L274.2 472.6 L274.9 471.9 L275.5 471.4 L276.1 470.9 L276.8 470.1 L277.7 469.0 L279.0 467.2 L280.3 465.4 L281.2 464.0 L281.9 463.0 L282.4 462.1 L282.9 461.2 L283.5 460.2Z M274.4 438.1 L273.8 437.9 L273.4 437.6 L272.8 437.4 L272.1 437.1 L271.3 436.9 L270.1 436.7 L269.0 436.7 L268.2 436.8 L267.6 437.1 L267.2 437.3 L266.9 437.6 L266.4 437.8 L266.6 438.2 L267.1 438.2 L267.5 438.1 L267.9 438.1 L268.3 438.1 L268.9 438.1 L269.9 438.3 L270.9 438.5 L271.6 438.7 L272.0 439.0 L272.5 439.3 L273.0 439.6 L273.6 439.9Z M266.9 460.1 L266.3 460.2 L265.9 460.2 L265.4 460.3 L264.6 460.4 L263.8 460.8 L262.7 461.4 L261.6 462.1 L260.9 462.7 L260.4 463.3 L260.1 463.8 L259.8 464.3 L259.3 464.8 L259.7 465.2 L260.2 464.7 L260.7 464.3 L261.1 464.0 L261.6 463.6 L262.3 463.2 L263.3 462.6 L264.4 462.2 L265.1 462.0 L265.5 462.0 L266.0 462.0 L266.5 462.0 L267.1 461.9Z M274.6 459.1 L274.1 458.5 L273.6 458.0 L273.1 457.5 L272.5 456.9 L271.6 456.2 L270.4 455.4 L269.2 454.8 L268.3 454.4 L267.6 454.3 L267.1 454.3 L266.6 454.3 L266.1 454.3 L265.9 454.7 L266.5 455.0 L267.0 455.1 L267.4 455.3 L267.9 455.5 L268.6 455.9 L269.6 456.6 L270.7 457.4 L271.4 458.1 L271.9 458.6 L272.3 459.1 L272.8 459.7 L273.4 460.3Z M283.3 482.0 L282.8 482.6 L282.4 483.1 L282.0 483.7 L281.5 484.5 L280.9 485.4 L280.4 486.7 L279.9 488.0 L279.7 488.9 L279.6 489.5 L279.7 490.0 L279.8 490.4 L279.8 491.0 L280.2 491.0 L280.4 490.5 L280.5 490.0 L280.6 489.6 L280.8 489.1 L281.1 488.4 L281.6 487.3 L282.3 486.2 L282.8 485.4 L283.3 484.8 L283.7 484.3 L284.2 483.7 L284.7 483.0Z M289.8 474.5 L289.0 474.5 L288.3 474.5 L287.5 474.5 L286.6 474.6 L285.4 474.8 L283.8 475.3 L282.2 476.0 L281.2 476.6 L280.5 477.2 L280.0 477.7 L279.5 478.3 L278.9 478.8 L279.1 479.2 L279.9 478.8 L280.5 478.4 L281.1 478.0 L281.8 477.6 L282.8 477.2 L284.2 476.7 L285.7 476.3 L286.8 476.2 L287.5 476.2 L288.2 476.2 L288.9 476.3 L289.8 476.3Z M374.5 469.1 L374.1 468.7 L373.8 468.3 L373.4 467.8 L372.9 467.4 L372.2 466.9 L371.4 466.4 L370.5 466.0 L369.9 465.9 L369.4 465.9 L369.0 466.1 L368.8 466.2 L368.5 466.3 L368.5 466.7 L368.9 466.8 L369.2 466.9 L369.4 466.9 L369.6 467.0 L370.0 467.2 L370.6 467.6 L371.3 468.1 L371.8 468.6 L372.1 469.0 L372.4 469.4 L372.8 469.9 L373.3 470.3Z M374.8 469.8 L374.9 469.0 L374.9 468.4 L374.9 467.8 L374.9 467.1 L375.0 466.3 L375.2 465.2 L375.4 464.2 L375.6 463.6 L375.7 463.2 L375.9 462.9 L376.0 462.6 L376.2 462.1 L375.8 461.9 L375.5 462.2 L375.2 462.4 L374.9 462.6 L374.6 463.1 L374.2 463.7 L373.8 464.8 L373.5 466.0 L373.3 466.9 L373.2 467.7 L373.1 468.3 L373.1 468.9 L373.0 469.6Z M380.1 485.1 L379.9 486.0 L379.7 486.8 L379.5 487.6 L379.3 488.4 L378.9 489.4 L378.4 490.7 L377.8 491.8 L377.4 492.5 L377.2 492.8 L377.0 493.1 L376.7 493.4 L376.3 493.8 L376.7 494.2 L377.1 493.9 L377.4 493.8 L377.8 493.6 L378.3 493.2 L378.9 492.5 L379.6 491.3 L380.3 490.0 L380.8 489.0 L381.1 488.1 L381.4 487.3 L381.6 486.5 L381.9 485.7Z M284.1 544.6 L284.0 543.5 L283.8 542.6 L283.6 541.6 L283.5 540.5 L283.3 539.0 L283.0 536.9 L282.9 535.1 L282.9 534.4 L283.1 533.9 L283.1 533.0 L282.9 531.8 L282.2 529.6 L281.2 527.1 L280.3 525.2 L279.3 523.7 L278.5 522.5 L277.6 521.2 L276.7 519.8 L276.3 520.0 L277.1 521.5 L277.8 522.9 L278.5 524.2 L279.3 525.7 L280.0 527.5 L280.8 530.0 L281.4 532.2 L281.5 533.1 L281.4 533.4 L281.2 534.0 L281.0 535.1 L281.0 537.1 L281.2 539.2 L281.4 540.8 L281.5 542.0 L281.6 542.9 L281.7 543.8 L281.9 545.0Z M282.6 530.0 L282.8 529.0 L282.9 528.1 L283.1 527.2 L283.2 526.2 L283.5 524.9 L283.8 523.2 L284.2 521.6 L284.5 520.6 L284.6 520.0 L284.7 519.5 L284.9 519.0 L285.0 518.3 L284.6 518.1 L284.2 518.7 L283.9 519.1 L283.5 519.5 L283.2 520.2 L282.7 521.2 L282.2 522.8 L281.6 524.5 L281.3 525.8 L281.0 526.8 L280.8 527.7 L280.6 528.6 L280.4 529.6Z M272.6 557.7 L272.1 556.2 L271.7 554.9 L271.3 553.7 L270.8 552.2 L270.3 550.3 L269.5 547.7 L268.9 545.6 L268.7 544.9 L268.7 544.6 L268.6 544.1 L268.2 542.6 L267.3 539.6 L266.4 536.1 L265.8 533.6 L265.3 531.5 L264.7 529.4 L263.6 526.7 L262.0 523.0 L260.3 519.4 L259.0 517.1 L257.9 515.9 L257.0 515.0 L256.1 514.3 L255.1 513.1 L254.7 513.3 L255.7 514.7 L256.5 515.6 L257.3 516.4 L258.2 517.7 L259.3 519.9 L261.0 523.4 L262.5 527.2 L263.3 529.8 L263.9 531.9 L264.3 534.0 L264.8 536.5 L265.7 540.0 L266.5 543.1 L266.8 544.5 L266.8 544.8 L266.8 545.2 L266.9 546.1 L267.5 548.3 L268.2 550.9 L268.8 552.9 L269.2 554.4 L269.6 555.6 L270.0 556.9 L270.4 558.3Z M262.6 523.5 L262.9 522.1 L263.2 520.9 L263.5 519.8 L263.8 518.4 L264.2 516.7 L264.8 514.2 L265.5 511.9 L265.9 510.4 L266.1 509.4 L266.3 508.6 L266.5 507.7 L266.7 506.7 L266.3 506.5 L265.8 507.5 L265.4 508.2 L265.0 508.9 L264.5 510.0 L264.0 511.5 L263.2 513.8 L262.4 516.1 L261.8 517.9 L261.4 519.3 L261.1 520.4 L260.8 521.6 L260.4 522.9Z M267.1 538.8 L266.2 538.3 L265.4 538.0 L264.7 537.8 L264.0 537.5 L263.0 536.8 L261.7 535.4 L260.3 533.9 L259.4 532.8 L258.8 531.8 L258.4 530.9 L257.9 529.9 L257.2 528.9 L256.8 529.1 L257.2 530.2 L257.5 531.2 L257.8 532.3 L258.3 533.5 L259.1 534.9 L260.3 536.6 L261.7 538.1 L262.8 539.1 L263.8 539.7 L264.6 540.1 L265.2 540.3 L265.9 540.8Z M271.2 556.9 L270.0 557.3 L269.1 557.7 L268.3 558.0 L267.3 558.3 L265.9 558.6 L263.9 559.0 L262.1 559.2 L261.3 559.3 L261.1 559.3 L260.6 559.3 L259.2 559.1 L256.6 558.8 L253.7 558.6 L251.8 558.5 L250.3 558.5 L248.7 558.3 L246.6 558.0 L243.4 557.4 L240.2 556.8 L238.2 556.2 L236.8 555.8 L235.8 555.4 L234.8 555.0 L233.4 554.6 L233.2 555.0 L234.6 555.6 L235.5 556.1 L236.5 556.6 L237.9 557.1 L240.0 557.8 L243.2 558.6 L246.4 559.3 L248.5 559.7 L250.1 559.9 L251.7 560.1 L253.6 560.3 L256.4 560.6 L259.0 560.9 L260.2 561.1 L260.8 561.3 L261.4 561.3 L262.3 561.2 L264.1 561.0 L266.3 560.8 L267.9 560.4 L269.1 560.1 L270.0 559.7 L270.8 559.4 L271.8 559.1Z M242.7 557.1 L242.0 557.5 L241.4 557.9 L240.9 558.4 L240.2 558.9 L239.4 559.5 L238.5 560.3 L237.6 561.1 L237.1 561.6 L236.9 561.9 L236.7 562.2 L236.7 562.5 L236.5 562.8 L236.7 563.2 L237.1 563.0 L237.4 562.9 L237.7 562.8 L238.0 562.6 L238.6 562.3 L239.5 561.7 L240.5 561.0 L241.4 560.5 L242.0 560.1 L242.7 559.8 L243.3 559.4 L243.9 558.9Z M271.1 583.7 L270.3 584.0 L269.6 584.3 L269.1 584.6 L268.4 584.9 L267.4 585.2 L265.8 585.5 L264.4 585.7 L263.8 585.8 L263.6 585.9 L263.2 585.8 L262.1 585.7 L260.0 585.4 L257.9 585.1 L256.5 584.8 L255.4 584.4 L254.1 584.0 L252.4 583.9 L249.8 584.1 L247.3 584.5 L245.5 585.1 L244.3 585.8 L243.4 586.5 L242.6 587.2 L241.5 587.8 L241.7 588.2 L242.9 587.7 L243.8 587.1 L244.7 586.5 L245.8 586.0 L247.5 585.6 L250.0 585.3 L252.4 585.2 L253.9 585.4 L254.9 585.8 L256.0 586.2 L257.5 586.7 L259.8 587.2 L261.8 587.5 L262.9 587.7 L263.4 587.8 L264.0 587.8 L264.7 587.7 L266.2 587.5 L267.8 587.3 L269.1 587.0 L270.0 586.6 L270.6 586.3 L271.2 586.0 L271.9 585.7Z M270.7 583.9 L269.5 585.2 L268.5 586.4 L267.7 587.5 L266.6 588.7 L264.9 590.2 L262.4 592.2 L260.0 593.8 L258.7 594.6 L257.8 595.0 L256.8 595.3 L255.2 596.0 L252.6 597.2 L250.1 598.4 L248.7 598.9 L247.7 599.2 L246.7 599.6 L245.3 600.6 L242.9 602.5 L240.4 604.8 L238.7 606.7 L237.6 608.3 L236.7 609.8 L235.9 611.2 L234.8 612.8 L235.2 613.0 L236.4 611.5 L237.3 610.2 L238.3 608.8 L239.5 607.4 L241.2 605.6 L243.7 603.5 L246.0 601.7 L247.4 600.8 L248.1 600.6 L249.1 600.4 L250.7 599.9 L253.4 598.8 L256.0 597.6 L257.4 597.1 L258.5 596.8 L259.6 596.4 L261.1 595.5 L263.6 593.8 L266.2 591.9 L268.1 590.3 L269.3 589.0 L270.3 587.8 L271.2 586.7 L272.3 585.5Z M274.0 603.8 L272.8 605.1 L271.9 606.2 L271.1 607.2 L270.0 608.4 L268.3 609.9 L265.8 612.1 L263.5 614.0 L262.2 615.2 L261.5 615.8 L260.7 616.3 L259.1 617.1 L256.1 618.6 L253.0 620.0 L251.1 620.7 L249.7 620.9 L248.2 621.3 L246.1 622.1 L242.9 623.8 L239.9 625.5 L238.2 626.4 L237.1 627.1 L236.2 628.0 L235.0 629.7 L232.9 632.5 L230.6 635.7 L229.2 638.2 L228.3 640.3 L227.8 642.1 L227.2 643.9 L226.4 645.9 L226.8 646.1 L227.7 644.1 L228.4 642.3 L229.1 640.6 L230.0 638.6 L231.4 636.2 L233.7 633.1 L235.9 630.4 L237.1 628.8 L237.9 628.1 L238.8 627.6 L240.6 626.8 L243.7 625.2 L246.8 623.6 L248.7 622.9 L250.1 622.6 L251.6 622.4 L253.7 621.8 L256.9 620.4 L259.9 618.9 L261.6 618.1 L262.7 617.5 L263.6 616.8 L264.9 615.7 L267.2 613.7 L269.8 611.6 L271.5 609.9 L272.7 608.7 L273.6 607.6 L274.5 606.6 L275.6 605.4Z M255.4 619.1 L255.1 620.2 L254.7 621.2 L254.4 622.2 L254.0 623.3 L253.6 624.8 L253.2 626.8 L252.8 628.7 L252.6 629.9 L252.6 630.8 L252.7 631.4 L252.8 632.0 L252.8 632.8 L253.2 632.8 L253.5 632.0 L253.6 631.5 L253.8 630.9 L254.0 630.2 L254.3 629.0 L254.8 627.2 L255.4 625.3 L255.9 624.0 L256.4 622.9 L256.8 622.0 L257.2 621.0 L257.6 619.9Z M243.3 623.4 L242.5 623.4 L241.8 623.5 L241.2 623.6 L240.6 623.6 L239.7 623.5 L238.3 623.2 L236.9 622.7 L235.9 622.3 L235.2 622.0 L234.6 621.6 L233.9 621.2 L233.1 620.8 L232.9 621.2 L233.5 621.8 L234.0 622.3 L234.5 622.9 L235.2 623.5 L236.2 624.2 L237.7 624.8 L239.2 625.3 L240.4 625.6 L241.3 625.7 L242.0 625.6 L242.6 625.6 L243.3 625.6Z M277.1 633.8 L275.9 635.5 L275.1 636.7 L274.2 637.9 L273.1 639.6 L271.5 641.9 L269.0 645.4 L266.6 648.5 L265.2 650.1 L264.1 651.1 L263.0 652.4 L261.5 654.8 L259.3 659.1 L257.0 664.0 L255.6 667.7 L254.8 670.7 L254.2 673.4 L253.6 676.0 L252.8 678.9 L253.2 679.1 L254.2 676.1 L255.0 673.6 L255.7 671.0 L256.7 668.1 L258.2 664.5 L260.5 659.7 L262.8 655.5 L264.3 653.4 L265.3 652.3 L266.4 651.4 L268.1 649.7 L270.6 646.6 L273.2 643.1 L274.9 640.8 L276.0 639.2 L276.9 638.0 L277.8 636.8 L278.9 635.2Z M291.0 594.0 L291.6 594.3 L292.0 594.5 L292.6 594.7 L293.4 594.9 L294.4 595.2 L295.9 595.4 L297.4 595.5 L298.5 595.4 L299.3 595.3 L300.0 595.2 L300.6 595.0 L301.4 594.8 L301.4 594.4 L300.6 594.3 L299.9 594.2 L299.2 594.1 L298.5 594.1 L297.5 593.9 L296.1 593.6 L294.8 593.3 L294.0 593.0 L293.4 592.8 L293.0 592.5 L292.5 592.2 L291.8 592.0Z M288.7 616.9 L290.1 615.8 L291.3 614.7 L292.5 613.6 L293.7 612.6 L295.2 611.7 L297.3 611.0 L299.1 610.5 L299.8 610.4 L299.9 610.4 L300.3 610.8 L301.2 611.6 L302.6 612.6 L304.2 613.4 L305.2 614.1 L305.9 614.6 L306.5 615.1 L307.1 615.6 L307.9 616.2 L308.1 615.8 L307.5 615.2 L307.1 614.5 L306.6 613.9 L305.9 613.2 L304.9 612.4 L303.4 611.4 L302.1 610.5 L301.5 609.8 L301.1 609.1 L300.1 608.6 L298.8 608.6 L296.7 609.0 L294.4 609.8 L292.5 610.8 L291.0 611.9 L289.8 613.0 L288.6 614.1 L287.3 615.1Z M367.3 548.1 L367.4 546.9 L367.5 546.0 L367.6 545.0 L367.7 543.8 L367.8 542.3 L368.0 540.1 L368.1 538.2 L368.2 537.3 L368.2 536.8 L368.1 536.3 L368.2 535.2 L368.5 533.1 L368.8 530.6 L369.0 528.7 L369.2 527.2 L369.4 525.9 L369.5 524.6 L369.7 523.0 L369.3 523.0 L368.9 524.4 L368.6 525.7 L368.3 527.0 L367.9 528.5 L367.6 530.4 L367.1 532.9 L366.7 535.0 L366.5 536.1 L366.4 536.7 L366.3 537.2 L366.2 538.0 L366.0 539.9 L365.7 542.0 L365.6 543.6 L365.4 544.8 L365.3 545.7 L365.2 546.7 L365.1 547.9Z M375.5 558.6 L376.1 557.4 L376.7 556.4 L377.2 555.4 L377.9 554.2 L378.7 552.7 L379.9 550.5 L380.9 548.9 L381.3 548.5 L381.6 548.3 L382.2 547.6 L382.8 546.2 L383.6 543.2 L384.4 539.8 L384.7 537.3 L384.8 535.2 L384.9 533.1 L385.4 530.4 L386.6 526.7 L388.0 523.2 L389.1 521.0 L390.1 519.7 L391.0 518.9 L392.0 518.0 L393.0 516.6 L392.6 516.4 L391.5 517.6 L390.5 518.3 L389.5 519.1 L388.3 520.5 L387.0 522.7 L385.4 526.3 L384.1 530.1 L383.5 532.9 L383.3 535.1 L383.1 537.1 L382.8 539.5 L382.0 542.8 L381.0 545.6 L380.6 546.8 L380.5 546.8 L380.1 546.9 L379.3 547.7 L378.1 549.5 L376.9 551.6 L376.0 553.2 L375.3 554.3 L374.7 555.3 L374.2 556.3 L373.5 557.4Z M387.1 526.1 L386.7 525.3 L386.4 524.6 L386.1 524.0 L385.8 523.2 L385.4 522.2 L384.8 520.7 L384.3 519.3 L384.0 518.4 L383.7 517.7 L383.5 517.2 L383.3 516.6 L383.0 516.0 L382.6 516.0 L382.6 516.8 L382.6 517.3 L382.6 517.9 L382.6 518.7 L382.8 519.7 L383.2 521.3 L383.6 522.8 L383.9 523.9 L384.2 524.8 L384.4 525.5 L384.7 526.1 L384.9 526.9Z M383.1 544.1 L384.4 543.8 L385.5 543.6 L386.7 543.4 L388.2 543.0 L390.0 542.2 L392.4 540.7 L394.8 539.1 L396.3 537.7 L397.3 536.5 L398.0 535.4 L398.7 534.3 L399.6 533.2 L399.2 532.8 L398.1 533.9 L397.2 534.8 L396.4 535.7 L395.4 536.7 L393.8 537.9 L391.6 539.3 L389.2 540.5 L387.5 541.1 L386.3 541.3 L385.2 541.4 L384.0 541.6 L382.5 541.9Z M374.1 559.1 L375.2 559.4 L376.0 559.8 L376.9 560.2 L378.0 560.6 L379.6 561.0 L381.8 561.5 L383.6 561.9 L384.5 562.0 L385.0 562.0 L385.6 562.0 L386.8 562.0 L389.4 562.3 L392.2 562.7 L394.1 563.1 L395.6 563.4 L397.3 563.7 L399.5 563.8 L402.7 563.6 L406.0 563.2 L408.1 562.6 L409.5 561.9 L410.5 561.2 L411.5 560.5 L412.8 559.9 L412.6 559.5 L411.2 560.0 L410.2 560.6 L409.2 561.2 L407.8 561.7 L405.8 562.1 L402.7 562.4 L399.5 562.5 L397.4 562.3 L396.0 562.0 L394.5 561.6 L392.5 561.0 L389.6 560.5 L387.0 560.2 L385.6 560.1 L385.0 560.1 L384.8 560.1 L384.0 559.9 L382.2 559.5 L380.2 558.9 L378.7 558.5 L377.7 558.1 L376.9 557.7 L376.0 557.4 L374.9 556.9Z M401.9 563.8 L402.4 564.2 L402.8 564.6 L403.2 565.1 L403.8 565.6 L404.5 566.1 L405.5 566.7 L406.5 567.2 L407.3 567.4 L407.8 567.5 L408.2 567.4 L408.5 567.3 L408.9 567.2 L409.1 566.8 L408.6 566.6 L408.3 566.4 L408.0 566.3 L407.7 566.1 L407.2 565.8 L406.5 565.3 L405.7 564.6 L405.1 564.1 L404.7 563.7 L404.4 563.2 L404.0 562.7 L403.5 562.2Z M373.4 583.9 L374.1 583.5 L374.5 583.0 L374.9 582.7 L375.3 582.4 L376.0 582.0 L377.4 581.5 L378.6 580.9 L379.3 580.3 L379.2 580.2 L379.2 580.2 L380.3 580.3 L382.7 580.6 L385.1 581.0 L386.7 581.6 L388.1 582.3 L389.9 583.0 L392.3 583.5 L396.0 583.6 L399.8 583.4 L402.5 582.9 L404.5 582.2 L406.1 581.4 L407.6 580.6 L409.5 579.9 L409.3 579.5 L407.4 580.1 L405.8 580.7 L404.2 581.4 L402.3 581.9 L399.7 582.3 L396.0 582.4 L392.5 582.2 L390.2 581.7 L388.8 581.0 L387.4 580.2 L385.6 579.4 L382.9 578.8 L380.5 578.5 L379.2 578.4 L378.3 578.5 L377.9 578.9 L377.6 579.1 L376.6 579.5 L375.2 580.0 L374.2 580.5 L373.5 581.0 L373.0 581.4 L372.7 581.7 L372.2 582.1Z M368.6 600.4 L369.3 599.6 L369.9 598.9 L370.4 598.3 L371.0 597.7 L372.0 596.9 L373.6 595.9 L375.1 594.9 L375.9 594.0 L376.2 593.6 L376.3 593.6 L377.3 593.6 L379.3 593.9 L381.5 594.2 L382.8 594.4 L383.5 594.6 L384.5 595.1 L386.2 596.4 L389.0 598.6 L391.9 600.8 L393.8 602.2 L395.0 603.2 L396.2 604.5 L397.9 606.6 L400.6 609.9 L403.3 613.4 L405.1 616.0 L406.3 617.9 L407.2 619.5 L408.0 621.1 L409.2 623.0 L409.6 622.8 L408.5 620.8 L407.7 619.2 L407.0 617.5 L405.9 615.5 L404.1 612.9 L401.4 609.3 L398.8 605.9 L397.1 603.7 L395.9 602.3 L394.6 601.1 L392.8 599.6 L390.0 597.4 L387.1 595.1 L385.4 593.8 L384.2 593.0 L383.1 592.6 L381.8 592.4 L379.7 592.1 L377.5 591.7 L376.1 591.6 L375.1 592.0 L374.5 592.6 L373.8 593.2 L372.4 594.1 L370.8 595.1 L369.6 596.0 L368.8 596.8 L368.2 597.5 L367.7 598.1 L367.0 598.8Z M369.3 620.6 L370.2 620.8 L370.9 621.0 L371.7 621.1 L372.6 621.3 L373.9 621.6 L375.8 622.0 L377.5 622.4 L378.5 622.4 L378.9 622.3 L379.2 622.4 L380.3 622.7 L382.4 623.8 L384.6 624.8 L385.9 625.4 L386.7 625.9 L387.7 626.6 L389.5 627.9 L392.3 630.1 L395.1 632.3 L396.8 633.8 L397.9 635.0 L399.1 636.1 L401.0 637.7 L404.1 639.9 L407.4 642.1 L409.8 643.5 L411.5 644.3 L412.9 644.9 L414.2 645.4 L415.9 646.2 L416.1 645.8 L414.5 644.9 L413.1 644.3 L411.8 643.7 L410.2 642.8 L407.9 641.3 L404.7 639.1 L401.7 636.8 L400.0 635.2 L398.9 634.1 L397.8 632.8 L396.1 631.2 L393.3 628.9 L390.4 626.7 L388.8 625.3 L387.7 624.5 L386.7 623.9 L385.4 623.2 L383.2 622.0 L381.1 621.0 L379.8 620.4 L379.0 620.3 L378.5 620.3 L377.8 620.3 L376.2 620.0 L374.4 619.5 L373.1 619.1 L372.1 618.9 L371.4 618.8 L370.7 618.6 L369.7 618.4Z M391.7 629.9 L392.1 630.9 L392.4 631.7 L392.8 632.5 L393.2 633.4 L393.6 634.6 L394.2 636.2 L394.7 637.8 L395.0 638.8 L395.2 639.4 L395.4 639.9 L395.5 640.4 L395.8 641.0 L396.2 641.0 L396.2 640.3 L396.3 639.8 L396.4 639.2 L396.3 638.5 L396.2 637.4 L395.8 635.8 L395.4 634.1 L395.1 632.8 L394.8 631.8 L394.5 630.9 L394.2 630.1 L393.9 629.1Z M365.7 637.0 L366.7 637.5 L367.5 637.9 L368.3 638.2 L369.2 638.7 L370.5 639.5 L372.4 640.9 L374.2 642.0 L375.3 642.5 L375.8 642.7 L376.2 642.9 L377.1 644.1 L378.8 646.5 L380.5 649.0 L381.4 650.7 L382.0 652.1 L382.7 653.7 L383.7 656.0 L385.5 659.7 L387.4 663.4 L388.8 666.0 L389.8 667.9 L390.7 669.4 L391.6 670.9 L392.6 672.8 L393.0 672.6 L392.1 670.7 L391.3 669.1 L390.6 667.5 L389.7 665.6 L388.4 662.9 L386.5 659.1 L384.9 655.5 L384.0 653.2 L383.4 651.5 L382.8 650.0 L381.9 648.2 L380.2 645.5 L378.6 643.0 L377.6 641.7 L376.8 641.0 L376.1 640.7 L375.2 640.3 L373.6 639.1 L371.7 637.8 L370.3 636.8 L369.3 636.3 L368.4 635.9 L367.7 635.5 L366.7 635.0Z M355.9 591.9 L354.9 592.2 L354.1 592.5 L353.3 592.7 L352.3 593.0 L351.0 593.3 L348.9 593.6 L346.8 593.9 L345.4 594.1 L344.3 594.1 L343.4 594.2 L342.4 594.3 L341.3 594.4 L341.3 594.8 L342.4 595.0 L343.3 595.2 L344.2 595.3 L345.4 595.4 L346.9 595.5 L349.1 595.4 L351.2 595.2 L352.7 595.0 L353.8 594.8 L354.7 594.5 L355.5 594.3 L356.5 594.1Z M357.3 612.0 L356.4 612.6 L355.6 613.2 L354.8 613.8 L354.0 614.4 L352.9 615.3 L351.5 616.3 L350.2 617.2 L349.4 617.9 L349.0 618.3 L348.7 618.6 L348.3 618.9 L347.9 619.3 L348.1 619.7 L348.7 619.5 L349.1 619.4 L349.6 619.3 L350.2 619.0 L351.1 618.5 L352.5 617.7 L354.0 616.8 L355.1 616.1 L356.1 615.5 L356.9 615.0 L357.7 614.4 L358.5 613.8Z M249.0 745.1 L249.1 748.2 L249.1 750.8 L249.2 753.6 L249.3 756.8 L249.8 760.9 L250.7 766.4 L251.6 771.2 L252.4 773.9 L253.1 775.4 L253.8 776.7 L254.6 778.8 L255.9 783.0 L257.1 787.6 L257.8 790.9 L258.4 793.3 L258.8 795.2 L259.1 797.2 L259.7 799.5 L260.1 799.5 L259.7 797.0 L259.5 795.1 L259.3 793.1 L258.9 790.7 L258.2 787.4 L257.1 782.6 L256.0 778.4 L255.2 776.1 L254.6 774.7 L254.0 773.4 L253.4 770.8 L252.5 766.0 L251.7 760.6 L251.3 756.6 L251.2 753.5 L251.2 750.8 L251.2 748.1 L251.0 744.9Z M250.8 735.9 L250.2 737.2 L249.7 738.2 L249.2 739.3 L248.7 740.6 L248.0 742.4 L247.3 744.8 L246.7 747.2 L246.4 748.9 L246.4 750.0 L246.4 751.0 L246.4 751.8 L246.4 753.0 L246.8 753.0 L247.1 751.9 L247.2 751.0 L247.3 750.1 L247.6 749.1 L248.0 747.5 L248.7 745.2 L249.5 742.9 L250.2 741.2 L250.7 740.0 L251.3 739.0 L251.8 737.9 L252.4 736.7Z M288.9 662.0 L289.6 663.6 L290.2 665.0 L290.8 666.4 L291.6 668.1 L292.7 670.3 L294.1 673.3 L295.6 676.3 L296.6 678.3 L297.4 679.7 L298.1 680.7 L298.7 681.7 L299.5 683.1 L299.9 682.9 L299.3 681.4 L298.8 680.3 L298.3 679.2 L297.7 677.8 L296.8 675.7 L295.5 672.7 L294.1 669.6 L293.2 667.4 L292.5 665.7 L292.0 664.3 L291.4 662.9 L290.7 661.2Z M292.4 797.1 L292.7 799.1 L292.9 800.7 L293.2 802.4 L293.5 804.3 L293.8 806.8 L294.2 810.1 L294.7 813.2 L295.0 815.3 L295.2 816.7 L295.4 817.7 L295.5 818.7 L295.8 820.0 L296.2 820.0 L296.2 818.6 L296.2 817.6 L296.2 816.6 L296.2 815.2 L296.0 813.1 L295.8 809.9 L295.4 806.6 L295.2 804.1 L295.0 802.1 L294.8 800.5 L294.6 798.8 L294.4 796.9Z M346.9 782.6 L346.7 783.6 L346.5 784.5 L346.3 785.4 L346.1 786.5 L345.9 788.0 L345.7 789.9 L345.6 791.8 L345.5 793.0 L345.6 793.9 L345.7 794.5 L345.9 795.2 L346.0 796.0 L346.4 796.0 L346.6 795.2 L346.7 794.5 L346.7 793.9 L346.8 793.1 L347.0 791.9 L347.3 790.1 L347.6 788.2 L347.9 786.9 L348.2 785.9 L348.4 785.0 L348.7 784.1 L348.9 783.0Z M353.9 675.9 L352.9 677.0 L352.0 678.0 L351.2 678.9 L350.2 680.2 L348.9 682.0 L347.3 684.6 L345.9 687.3 L345.0 689.3 L344.5 690.8 L344.2 692.0 L343.9 693.2 L343.4 694.7 L343.8 694.9 L344.5 693.5 L345.0 692.3 L345.5 691.1 L346.1 689.8 L347.1 687.9 L348.7 685.4 L350.3 682.9 L351.5 681.2 L352.5 680.1 L353.4 679.3 L354.3 678.3 L355.3 677.1Z M356.8 655.1 L355.1 654.5 L353.7 653.9 L352.2 653.2 L350.3 652.6 L348.0 652.3 L345.0 652.2 L342.1 652.6 L340.2 653.2 L338.9 654.0 L338.1 654.8 L337.3 655.7 L336.2 656.4 L336.4 656.8 L337.7 656.2 L338.6 655.5 L339.5 654.9 L340.6 654.3 L342.3 653.9 L345.0 653.8 L347.8 653.9 L349.9 654.3 L351.5 654.9 L352.9 655.6 L354.4 656.3 L356.2 656.9Z M400.0 749.8 L400.2 751.0 L400.4 752.0 L400.6 753.0 L400.9 754.1 L401.2 755.8 L401.5 758.1 L401.8 760.4 L402.0 762.0 L402.1 763.2 L402.2 764.1 L402.3 765.0 L402.5 766.2 L402.9 766.2 L403.0 765.0 L403.1 764.1 L403.2 763.1 L403.3 761.9 L403.3 760.3 L403.1 757.9 L402.9 755.5 L402.7 753.8 L402.6 752.6 L402.4 751.6 L402.2 750.6 L402.0 749.4Z M396.7 732.8 L396.3 735.2 L395.8 737.1 L395.4 739.0 L395.0 741.4 L394.4 744.8 L393.7 749.5 L393.2 754.2 L392.8 757.5 L392.7 759.9 L392.7 761.9 L392.7 763.8 L392.6 766.2 L393.0 766.2 L393.3 763.8 L393.6 761.9 L393.8 760.0 L394.1 757.7 L394.5 754.4 L395.3 749.7 L396.0 745.0 L396.7 741.8 L397.2 739.4 L397.7 737.5 L398.2 735.6 L398.7 733.2Z M383.3 673.7 L384.8 675.1 L386.2 676.3 L387.5 677.4 L389.0 678.8 L390.9 680.7 L393.4 683.5 L395.8 686.3 L397.3 688.2 L398.3 689.5 L399.0 690.6 L399.8 691.7 L400.8 693.1 L401.2 692.9 L400.3 691.4 L399.8 690.2 L399.2 689.0 L398.3 687.5 L396.9 685.4 L394.6 682.5 L392.1 679.6 L390.2 677.6 L388.7 676.1 L387.4 674.9 L386.2 673.7 L384.7 672.3Z M389.3 838.6 L389.5 839.8 L389.8 840.7 L390.1 841.6 L390.4 842.7 L390.8 844.1 L391.3 846.1 L391.7 848.1 L392.0 849.5 L392.2 850.4 L392.4 851.1 L392.5 851.8 L392.8 852.7 L393.2 852.7 L393.2 851.7 L393.2 851.0 L393.2 850.2 L393.2 849.3 L393.1 847.9 L392.7 845.9 L392.4 843.8 L392.1 842.3 L391.9 841.1 L391.6 840.2 L391.4 839.3 L391.1 838.2Z M261.0 861.1 L261.1 862.0 L261.2 862.7 L261.3 863.4 L261.4 864.3 L261.7 865.5 L262.2 867.2 L262.7 868.8 L263.2 870.0 L263.6 870.8 L264.0 871.4 L264.4 871.9 L264.8 872.7 L265.2 872.5 L265.0 871.7 L264.8 871.0 L264.6 870.3 L264.4 869.5 L264.2 868.4 L263.8 866.8 L263.5 865.2 L263.3 864.0 L263.2 863.2 L263.2 862.5 L263.2 861.7 L263.0 860.9Z M265.3 926.6 L265.1 927.6 L265.1 928.5 L265.0 929.4 L264.9 930.4 L264.8 931.9 L264.7 933.9 L264.6 936.0 L264.6 937.4 L264.6 938.4 L264.7 939.2 L264.7 940.0 L264.8 941.0 L265.2 941.0 L265.4 940.0 L265.6 939.2 L265.7 938.4 L265.9 937.5 L266.1 936.1 L266.3 934.1 L266.6 932.1 L266.8 930.6 L266.9 929.6 L267.1 928.7 L267.2 927.9 L267.3 926.8Z M276.7 889.8 L277.0 891.5 L277.3 892.8 L277.6 894.1 L277.9 895.6 L278.1 897.8 L278.2 901.0 L278.2 904.2 L278.1 906.4 L278.0 908.1 L277.8 909.4 L277.6 910.8 L277.5 912.5 L277.9 912.5 L278.3 910.9 L278.7 909.6 L279.0 908.3 L279.4 906.6 L279.6 904.3 L279.8 901.0 L279.8 897.7 L279.6 895.4 L279.4 893.7 L279.2 892.4 L278.9 891.1 L278.7 889.6Z M312.3 941.0 L312.4 942.4 L312.5 943.5 L312.6 944.5 L312.6 945.8 L312.7 947.6 L312.7 950.0 L312.7 952.4 L312.8 954.0 L312.7 955.1 L312.7 956.0 L312.8 956.8 L312.8 958.0 L313.2 958.0 L313.4 956.9 L313.6 956.0 L313.8 955.2 L314.0 954.0 L314.1 952.4 L314.3 950.0 L314.3 947.6 L314.4 945.8 L314.4 944.5 L314.3 943.4 L314.3 942.3 L314.3 941.0Z M278.0 975.6 L277.8 978.5 L277.6 981.1 L277.4 983.7 L277.3 986.6 L277.1 990.1 L276.9 994.5 L276.9 998.4 L276.9 1000.8 L277.0 1002.1 L277.2 1002.9 L277.3 1003.7 L277.5 1005.0 L277.9 1005.0 L278.0 1003.7 L278.0 1002.9 L278.1 1002.1 L278.1 1000.8 L278.2 998.4 L278.5 994.5 L278.7 990.2 L279.0 986.7 L279.3 983.9 L279.5 981.3 L279.7 978.7 L280.0 975.8Z M333.7 923.8 L333.5 925.2 L333.3 926.2 L333.2 927.3 L333.0 928.7 L332.8 930.5 L332.7 932.9 L332.6 935.3 L332.6 937.0 L332.7 938.1 L332.8 939.0 L333.0 939.9 L333.1 941.0 L333.5 941.0 L333.7 939.9 L333.7 939.0 L333.8 938.1 L333.9 937.0 L334.1 935.4 L334.3 933.1 L334.6 930.7 L334.9 928.9 L335.1 927.7 L335.3 926.6 L335.5 925.5 L335.7 924.2Z M339.0 972.9 L338.9 975.4 L338.7 977.6 L338.6 979.8 L338.5 982.3 L338.3 985.3 L338.2 989.0 L338.2 992.3 L338.2 994.4 L338.3 995.5 L338.5 996.2 L338.6 996.9 L338.8 998.0 L339.2 998.0 L339.3 996.9 L339.4 996.2 L339.4 995.5 L339.5 994.4 L339.6 992.4 L339.8 989.0 L340.0 985.3 L340.2 982.4 L340.4 979.9 L340.6 977.7 L340.8 975.5 L341.0 973.1Z M372.0 932.5 L372.2 935.1 L372.4 937.4 L372.6 939.7 L372.9 942.3 L373.3 945.5 L373.8 949.6 L374.3 953.3 L374.7 955.6 L374.9 957.0 L375.2 957.8 L375.5 958.7 L375.8 960.0 L376.2 960.0 L376.1 958.6 L376.1 957.7 L376.1 956.8 L376.0 955.4 L375.8 953.1 L375.4 949.4 L375.0 945.3 L374.8 942.2 L374.6 939.6 L374.4 937.2 L374.3 934.9 L374.0 932.3Z M372.4 898.7 L373.3 899.5 L374.1 900.0 L374.8 900.4 L375.6 901.0 L376.6 902.2 L378.1 904.5 L379.4 906.7 L380.2 908.3 L380.7 909.5 L381.1 910.8 L381.6 912.6 L382.4 915.2 L383.2 917.7 L383.6 919.4 L383.8 920.4 L383.9 921.2 L384.1 922.0 L384.3 923.0 L384.7 923.0 L384.6 921.9 L384.7 921.1 L384.7 920.3 L384.6 919.2 L384.3 917.5 L383.6 914.8 L382.9 912.2 L382.5 910.4 L382.2 909.0 L381.7 907.6 L380.9 905.9 L379.5 903.5 L378.1 901.2 L376.9 899.7 L375.9 898.9 L375.1 898.4 L374.4 898.0 L373.6 897.3Z M296.0 999.8 L295.7 1001.6 L295.4 1002.9 L295.1 1004.2 L294.8 1006.1 L294.5 1008.9 L294.2 1013.4 L294.1 1018.0 L294.1 1021.6 L294.2 1024.4 L294.4 1026.8 L294.6 1029.2 L294.8 1032.0 L295.2 1032.0 L295.3 1029.2 L295.3 1026.8 L295.3 1024.4 L295.3 1021.6 L295.5 1018.1 L295.8 1013.4 L296.1 1009.1 L296.5 1006.3 L296.9 1004.6 L297.2 1003.3 L297.6 1002.0 L298.0 1000.2Z M294.3 977.7 L293.3 976.9 L292.3 975.7 L291.2 974.4 L289.7 973.4 L287.9 973.6 L286.4 975.3 L285.4 977.9 L285.0 980.7 L285.0 983.5 L285.2 986.4 L285.4 989.2 L285.5 992.0 L285.9 992.0 L286.1 989.2 L286.0 986.3 L286.0 983.5 L286.1 980.8 L286.6 978.3 L287.6 976.1 L288.7 974.9 L289.2 975.0 L290.0 975.6 L291.0 976.9 L292.1 978.2 L293.3 979.1Z M296.1 1000.4 L297.1 1002.7 L298.0 1004.6 L298.9 1006.4 L299.9 1008.6 L301.0 1011.8 L302.4 1016.2 L303.5 1020.4 L304.2 1022.9 L304.5 1024.4 L304.6 1025.9 L304.8 1028.2 L305.3 1032.1 L305.8 1036.2 L306.1 1039.0 L306.2 1040.9 L306.3 1042.3 L306.3 1043.8 L306.5 1045.7 L306.9 1045.7 L306.9 1043.8 L307.0 1042.3 L307.1 1040.8 L307.1 1038.9 L306.9 1036.1 L306.5 1031.9 L306.2 1028.1 L306.1 1025.8 L306.0 1024.2 L305.7 1022.5 L305.2 1020.0 L304.0 1015.8 L302.7 1011.2 L301.6 1008.0 L300.6 1005.6 L299.7 1003.7 L298.9 1001.9 L297.9 999.6Z M305.0 959.9 L305.6 962.1 L306.2 963.9 L306.8 965.6 L307.4 967.8 L308.2 971.0 L309.1 975.9 L310.0 980.5 L310.4 983.3 L310.6 985.1 L310.8 987.1 L311.0 989.9 L311.4 994.5 L311.8 999.4 L312.1 1002.7 L312.3 1005.0 L312.4 1006.7 L312.6 1008.4 L312.8 1010.7 L313.2 1010.7 L313.2 1008.4 L313.2 1006.7 L313.2 1004.9 L313.1 1002.7 L313.0 999.3 L312.6 994.5 L312.3 989.8 L312.2 987.0 L312.1 985.0 L312.0 983.1 L311.6 980.2 L310.9 975.5 L310.0 970.7 L309.2 967.3 L308.6 965.0 L308.0 963.3 L307.5 961.6 L306.8 959.3Z M353.3 988.8 L353.0 991.1 L352.7 993.0 L352.4 994.8 L352.0 997.1 L351.5 1000.3 L350.9 1004.9 L350.2 1009.5 L349.7 1012.7 L349.4 1015.1 L349.2 1017.1 L349.0 1019.0 L348.8 1021.4 L349.2 1021.4 L349.7 1019.1 L350.1 1017.2 L350.5 1015.3 L350.9 1012.9 L351.5 1009.7 L352.3 1005.1 L353.2 1000.6 L353.7 997.4 L354.2 995.1 L354.5 993.3 L354.9 991.5 L355.3 989.2Z M353.3 989.1 L353.6 991.8 L353.9 994.1 L354.1 996.2 L354.4 998.9 L354.6 1002.7 L354.8 1008.0 L354.9 1012.8 L354.8 1015.5 L354.7 1017.0 L354.5 1018.7 L354.4 1021.6 L354.4 1026.8 L354.5 1032.5 L354.6 1036.7 L354.8 1039.8 L355.0 1042.3 L355.3 1044.9 L355.5 1048.0 L355.9 1048.0 L355.9 1044.9 L355.8 1042.3 L355.7 1039.7 L355.6 1036.6 L355.6 1032.5 L355.6 1026.8 L355.7 1021.7 L355.9 1018.9 L356.2 1017.2 L356.4 1015.6 L356.6 1012.9 L356.6 1008.0 L356.4 1002.6 L356.3 998.8 L356.0 996.1 L355.8 993.8 L355.5 991.6 L355.3 988.9Z M364.1 946.5 L365.0 948.1 L365.9 949.4 L366.7 950.6 L367.5 952.1 L368.5 954.2 L369.7 957.2 L370.7 960.2 L371.2 962.3 L371.5 963.8 L371.6 965.0 L371.8 966.2 L372.1 967.7 L372.5 967.7 L372.4 966.1 L372.5 964.9 L372.6 963.7 L372.4 962.1 L372.0 959.9 L371.1 956.8 L370.0 953.6 L369.1 951.4 L368.3 949.7 L367.5 948.4 L366.7 947.1 L365.9 945.5Z M357.4 970.5 L358.3 972.0 L359.1 973.2 L359.9 974.3 L360.7 975.7 L361.7 977.9 L362.9 981.3 L363.9 984.5 L364.4 986.5 L364.6 987.9 L364.8 989.3 L364.9 991.3 L365.3 994.6 L365.7 997.9 L365.9 1000.0 L366.0 1001.4 L366.1 1002.5 L366.2 1003.6 L366.3 1005.0 L366.7 1005.0 L366.7 1003.6 L366.8 1002.5 L366.9 1001.4 L366.9 1000.0 L366.8 997.8 L366.5 994.4 L366.3 991.2 L366.2 989.2 L366.2 987.7 L366.0 986.2 L365.5 984.1 L364.5 980.7 L363.4 977.3 L362.4 974.9 L361.5 973.3 L360.7 972.1 L360.0 971.0 L359.2 969.5Z M372.8 931.6 L373.6 932.6 L374.5 933.4 L375.2 934.2 L376.0 935.1 L376.9 936.4 L377.9 938.3 L378.6 940.2 L379.0 941.5 L379.1 942.4 L379.1 943.1 L379.1 944.0 L379.3 945.0 L379.7 945.0 L379.8 944.0 L379.9 943.2 L380.1 942.4 L380.1 941.3 L379.9 939.8 L379.1 937.7 L378.2 935.7 L377.3 934.2 L376.5 933.1 L375.7 932.2 L375.0 931.4 L374.2 930.4Z" fill="#30a927" stroke="#fff" stroke-opacity="0.35" stroke-width="1.6" paint-order="stroke"/>
<path d="M298.4 468.0 C295.9 467.3 294.8 466.9 291.0 466.0 C287.2 465.1 289.8 467.5 287.0 465.4 C284.2 463.3 284.1 461.6 282.7 459.7 M368.3 815.6 C371.2 819.1 374.4 817.4 377.0 826.0 C379.6 834.6 376.3 836.2 376.0 841.3 M360.3 918.0 C358.5 920.7 358.3 922.1 355.0 926.0 C351.7 929.9 351.9 928.4 350.4 929.6" stroke="#30a927" stroke-width="1.56" fill="none" stroke-linecap="round" stroke-linejoin="round"/>
<path d="M381.0 485.4 C379.6 483.0 379.1 483.4 376.7 478.2 C374.3 473.0 374.8 472.5 373.9 469.7 M281.5 706.4 C282.3 705.6 282.4 705.1 284.0 704.0 C285.6 702.9 285.6 703.3 286.4 703.0 M291.4 763.0 C288.6 766.0 288.1 767.0 283.0 772.0 C277.9 777.0 278.3 776.0 276.0 778.0 M352.9 696.5 C354.3 693.7 354.2 693.5 357.0 688.0 C359.8 682.5 359.8 682.7 361.2 680.0 M356.2 733.0 C358.4 740.8 359.6 742.3 362.9 756.3 C366.2 770.3 363.5 762.1 366.0 775.0 C368.5 787.9 369.0 788.3 370.5 795.0 M347.9 782.8 C350.1 785.2 350.5 783.8 354.6 790.0 C358.7 796.2 355.7 792.9 360.3 801.4 C364.9 809.9 365.6 810.9 368.3 815.6 M372.0 770.0 C373.3 782.3 372.3 790.0 376.0 807.0 C379.7 824.0 378.3 810.5 383.0 821.0 C387.7 831.5 387.8 832.6 390.2 838.4 M282.0 827.0 C281.5 832.2 281.1 837.5 280.6 842.7 M282.0 827.0 C285.3 832.7 288.7 838.3 292.0 844.0 M280.6 842.7 C284.4 843.1 288.2 843.6 292.0 844.0 M280.6 842.7 C278.2 845.5 275.9 848.2 273.5 851.0 M280.6 842.7 C283.0 849.8 285.3 856.9 287.7 864.0 M292.0 844.0 C290.6 850.7 289.1 857.3 287.7 864.0 M273.5 851.0 C278.2 855.3 283.0 859.7 287.7 864.0 M289.0 909.6 C288.6 915.3 288.0 916.6 287.7 926.7 C287.4 936.8 288.3 932.6 288.2 940.0 C288.1 947.4 289.7 942.5 287.5 949.0 C285.3 955.5 284.5 950.7 281.7 959.6 C278.9 968.5 279.9 970.3 279.0 975.7 M292.0 844.0 C292.5 849.7 292.0 850.5 293.4 861.0 C294.8 871.5 295.3 867.7 296.2 875.4 C297.1 883.1 296.2 881.1 296.2 884.0 M368.3 815.6 C364.9 820.8 361.4 826.1 358.0 831.3 M368.3 815.6 C369.2 820.8 370.1 826.1 371.0 831.3 M358.0 831.3 C362.3 831.3 366.7 831.3 371.0 831.3 M371.0 831.3 C372.7 834.6 374.3 838.0 376.0 841.3 M358.0 831.3 C359.5 839.9 361.1 848.4 362.6 857.0 M376.0 841.3 C371.5 846.5 367.1 851.8 362.6 857.0 M371.0 831.3 C368.2 839.9 365.4 848.4 362.6 857.0 M376.0 841.3 C375.5 847.9 376.5 848.8 374.6 861.0 C372.7 873.2 372.7 870.3 370.3 878.0 C367.9 885.7 368.4 882.0 367.4 884.0 M287.5 949.0 C288.3 954.3 287.7 955.2 289.8 965.0 C291.9 974.8 291.1 972.1 293.8 978.4 C296.5 984.7 296.7 976.6 297.8 983.8 C298.9 991.0 297.3 994.6 297.0 1000.0 M347.6 954.0 C348.9 957.7 348.9 958.7 351.6 965.0 C354.3 971.3 354.8 965.0 355.7 973.0 C356.6 981.0 354.8 983.7 354.3 989.0" stroke="#30a927" stroke-width="1.69" fill="none" stroke-linecap="round" stroke-linejoin="round"/>
<path d="M308.0 448.0 C306.7 451.3 307.2 451.3 304.0 458.0 C300.8 464.7 303.1 462.2 298.4 468.0 C293.7 473.8 294.6 470.6 289.8 475.4 C285.0 480.2 285.9 480.1 284.0 482.5 M294.0 448.3 C292.1 450.7 292.2 451.7 288.4 455.5 C284.6 459.3 287.5 458.3 282.7 459.7 C277.9 461.1 279.2 459.3 274.0 459.7 C268.8 460.1 269.3 460.6 267.0 461.0 M395.2 458.3 C395.5 461.1 396.5 462.1 396.0 466.8 C395.5 471.5 394.5 470.6 393.8 472.5 M393.8 472.5 C391.4 474.9 391.0 475.3 386.7 479.6 C382.4 483.9 382.0 480.2 381.0 485.4 C380.0 490.6 381.9 489.6 383.8 495.3 C385.7 501.0 385.7 497.6 386.7 502.4 C387.7 507.2 386.7 507.2 386.7 509.6 M271.5 558.0 C274.3 558.0 273.9 557.4 280.0 558.0 C286.1 558.6 286.5 559.1 289.8 559.7 M279.8 569.7 C281.2 570.8 281.3 570.8 284.0 573.0 C286.7 575.2 286.7 575.2 288.0 576.3 M271.5 584.7 C274.7 586.8 274.4 588.2 281.0 591.0 C287.6 593.8 287.9 592.3 291.4 593.0 M274.8 604.6 C276.9 606.4 276.6 606.2 281.0 610.0 C285.4 613.8 285.7 614.0 288.0 616.0 M278.0 634.5 C279.7 631.3 279.7 631.2 283.0 625.0 C286.3 618.8 286.3 619.0 288.0 616.0 M278.0 634.5 C280.0 636.0 280.1 636.2 284.0 639.0 C287.9 641.8 287.9 641.5 289.8 642.8 M283.0 544.8 C285.3 544.9 285.0 544.5 290.0 545.0 C295.0 545.5 295.3 545.9 298.0 546.4 M318.0 496.6 C318.7 499.7 320.0 499.4 320.0 506.0 C320.0 512.6 318.7 513.0 318.0 516.5 M309.7 513.2 C310.1 515.8 311.0 515.5 311.0 521.0 C311.0 526.5 310.1 526.9 309.7 529.8 M301.4 524.9 C300.9 528.6 301.1 528.8 300.0 536.0 C298.9 543.2 298.7 542.9 298.0 546.4 M374.5 558.0 C371.7 558.7 371.5 558.3 366.0 560.0 C360.5 561.7 360.6 562.0 357.9 563.0 M366.2 569.7 C364.8 571.5 364.2 571.7 362.0 575.0 C359.8 578.3 360.3 578.1 359.5 579.7 M372.8 583.0 C369.9 585.0 369.5 585.7 364.0 589.0 C358.5 592.3 358.8 591.7 356.2 593.0 M367.8 599.6 C365.9 601.7 365.3 601.6 362.0 606.0 C358.7 610.4 359.3 610.6 357.9 612.9 M369.5 619.5 C367.3 622.0 366.3 621.5 363.0 627.0 C359.7 632.5 360.7 633.0 359.5 636.0 M369.5 619.5 C367.0 618.3 365.9 618.2 362.0 616.0 C358.1 613.8 359.3 613.9 357.9 612.9 M366.2 548.0 C363.5 547.7 363.0 547.5 358.0 547.0 C353.0 546.5 353.5 546.6 351.2 546.4 M333.0 496.6 C332.3 499.7 330.5 499.4 331.0 506.0 C331.5 512.6 333.4 513.0 334.6 516.5 M338.0 511.6 C337.7 514.4 335.9 513.9 337.0 520.0 C338.1 526.1 339.9 526.5 341.3 529.8 M346.2 523.2 C346.5 527.1 345.3 527.3 347.0 535.0 C348.7 542.7 349.8 542.6 351.2 546.4 M356.2 538.0 C356.1 542.0 355.4 541.7 356.0 550.0 C356.6 558.3 357.3 558.7 357.9 563.0 M278.0 634.5 C274.7 638.3 273.5 638.6 268.0 646.0 C262.5 653.4 265.9 646.4 261.5 656.6 C257.1 666.8 257.7 659.9 254.9 676.5 C252.1 693.1 254.3 686.5 253.2 706.4 C252.1 726.3 252.7 723.4 251.6 736.3 C250.5 749.2 250.5 742.1 250.0 745.0 M254.9 676.5 C257.6 683.2 258.0 683.2 263.0 696.5 C268.0 709.8 265.9 707.6 269.8 716.4 C273.7 725.2 273.1 720.8 274.8 723.0 M369.5 619.5 C370.3 623.0 369.8 623.2 372.0 630.0 C374.2 636.8 373.2 630.0 376.2 640.0 C379.2 650.0 377.7 645.7 381.0 660.0 C384.3 674.3 386.5 670.8 386.0 683.0 C385.5 695.2 383.9 686.5 379.5 696.5 C375.1 706.5 375.0 707.5 372.8 713.0 M386.0 683.0 C388.3 690.8 388.9 689.7 392.8 706.4 C396.7 723.1 395.0 718.6 397.7 733.0 C400.4 747.4 399.9 744.1 401.0 749.6 M277.7 817.0 C275.3 821.3 275.3 821.0 270.6 830.0 C265.9 839.0 266.4 833.7 263.5 844.0 C260.6 854.3 262.5 855.3 262.0 861.0 M270.6 830.0 C271.1 834.7 271.0 837.0 272.0 844.0 C273.0 851.0 271.6 843.3 273.5 851.0 C275.4 858.7 275.3 858.0 277.7 867.0 C280.1 876.0 280.6 870.4 280.6 878.0 C280.6 885.6 280.1 882.0 277.7 889.7 C275.3 897.4 276.8 893.4 273.5 901.0 C270.2 908.6 270.2 903.9 267.8 912.5 C265.4 921.1 266.8 922.0 266.3 926.7 M277.7 817.0 C278.5 818.3 278.6 817.7 280.0 821.0 C281.4 824.3 281.3 825.0 282.0 827.0 M287.7 864.0 C286.7 867.8 284.8 866.8 284.8 875.4 C284.8 884.0 286.3 878.3 287.7 889.7 C289.1 901.1 288.1 897.3 289.0 909.6 C289.9 921.9 288.1 916.2 290.5 926.7 C292.9 937.2 292.5 931.6 296.2 941.0 C299.9 950.4 299.7 950.3 301.5 955.0 M287.7 889.7 C290.5 887.8 291.4 884.0 296.2 884.0 C301.0 884.0 297.7 883.0 302.0 889.7 C306.3 896.4 305.7 893.6 309.0 904.0 C312.3 914.4 310.6 908.7 312.0 921.0 C313.4 933.3 312.9 934.3 313.3 941.0 M302.0 889.7 C302.0 896.3 301.5 897.3 302.0 909.6 C302.5 921.9 303.1 916.2 303.4 926.7 C303.7 937.2 302.5 932.6 303.0 941.0 C303.5 949.4 303.8 945.8 304.8 952.0 C305.8 958.2 306.9 953.6 305.9 959.6 C304.9 965.6 304.6 961.9 301.9 970.0 C299.2 978.1 299.2 979.2 297.8 983.8 M358.0 831.3 C357.3 841.2 357.6 844.4 356.0 861.0 C354.4 877.6 356.0 868.7 353.2 881.0 C350.4 893.3 352.2 888.5 347.5 898.0 C342.8 907.5 343.3 900.9 339.0 909.6 C334.7 918.3 336.1 919.2 334.7 924.0 M347.5 898.0 C348.0 903.7 348.0 904.5 349.0 915.0 C350.0 925.5 351.4 920.9 350.4 929.6 C349.4 938.3 347.8 935.2 346.0 941.0 C344.2 946.8 344.5 942.7 345.0 947.0 C345.5 951.3 348.1 949.8 347.6 954.0 C347.1 958.2 346.0 953.3 343.5 959.6 C341.0 965.9 341.2 968.5 340.0 973.0 M362.6 857.0 C363.7 862.2 364.4 863.6 366.0 872.6 C367.6 881.6 368.3 876.4 367.4 884.0 C366.5 891.6 365.6 886.9 363.2 895.4 C360.8 903.9 361.3 900.1 360.3 909.6 C359.3 919.1 359.7 915.2 360.3 924.0 C360.9 932.8 360.4 928.7 362.0 936.0 C363.6 943.3 364.9 938.1 365.0 946.0 C365.1 953.9 364.6 951.6 362.4 959.6 C360.2 967.6 360.5 965.5 358.3 970.0 C356.1 974.5 356.6 972.0 355.7 973.0 M367.4 884.0 C369.3 888.7 370.6 887.7 373.0 898.0 C375.4 908.3 374.6 903.5 374.6 915.0 C374.6 926.5 373.5 926.6 373.0 932.4" stroke="#30a927" stroke-width="1.82" fill="none" stroke-linecap="round" stroke-linejoin="round"/>
<path d="M329.7 458.0 C327.3 456.7 327.8 456.8 322.6 454.0 C317.4 451.2 320.2 452.0 314.0 449.7 C307.8 447.4 310.7 447.5 304.0 447.0 C297.3 446.5 299.7 448.8 294.0 448.3 C288.3 447.8 291.7 447.9 287.0 445.5 C282.3 443.1 284.2 443.2 279.9 441.0 C275.6 438.8 276.0 439.7 274.0 439.0 M278.0 634.5 C278.4 639.0 278.7 639.5 279.3 648.0 C279.9 656.5 278.6 648.3 279.8 660.0 C281.0 671.7 282.4 667.5 283.0 683.0 C283.6 698.5 284.2 693.1 281.5 706.4 C278.8 719.7 277.4 708.6 274.8 723.0 C272.2 737.4 273.8 731.9 273.8 749.6 C273.8 767.3 273.9 760.5 274.8 776.0 C275.7 791.5 275.5 782.3 276.5 796.0 C277.5 809.7 277.3 810.0 277.7 817.0 M289.8 661.0 C289.8 664.0 290.4 661.5 289.8 670.0 C289.2 678.5 289.1 675.5 288.0 686.5 C286.9 697.5 284.7 693.0 286.4 703.0 C288.1 713.0 290.2 703.1 293.0 716.4 C295.8 729.7 295.3 727.5 294.8 743.0 C294.3 758.5 292.5 748.7 291.4 763.0 C290.3 777.3 290.7 774.7 291.4 786.0 C292.1 797.3 293.7 791.0 293.4 797.0 C293.1 803.0 293.8 796.8 290.5 804.0 C287.2 811.2 286.2 811.3 283.4 818.5 C280.6 825.7 282.5 823.2 282.0 825.6 M357.9 659.4 C356.8 665.1 356.3 664.1 354.6 676.5 C352.9 688.9 352.4 683.2 352.9 696.5 C353.4 709.8 355.6 702.0 356.2 716.4 C356.8 730.8 356.3 724.2 354.6 739.7 C352.9 755.2 353.4 748.6 351.2 763.0 C349.0 777.4 349.0 776.2 347.9 782.8 M366.5 650.0 C365.8 653.3 366.3 650.0 364.5 660.0 C362.7 670.0 361.7 667.8 361.2 680.0 C360.7 692.2 359.0 685.5 362.9 696.5 C366.8 707.5 369.3 698.6 372.8 713.0 C376.3 727.4 374.0 722.0 373.5 739.7 C373.0 757.4 372.0 749.4 371.2 766.2 C370.4 783.0 371.3 777.4 371.0 790.0 C370.7 802.6 371.2 795.5 370.3 804.0 C369.4 812.5 369.0 811.7 368.3 815.6" stroke="#30a927" stroke-width="1.95" fill="none" stroke-linecap="round" stroke-linejoin="round"/>
<path d="M359.7 376.8 C361.0 377.9 360.7 378.0 363.5 380.0 C366.3 382.0 365.0 380.6 368.0 382.8 C371.0 385.0 369.6 384.1 372.5 386.5 C375.4 388.9 375.3 388.8 376.7 390.0 M368.0 382.8 C366.1 385.5 366.5 386.3 362.3 391.0 C358.1 395.7 361.0 392.7 355.4 397.0 C349.8 401.3 352.4 399.0 345.4 404.0 C338.4 409.0 338.1 409.3 334.5 412.0" stroke="#30a927" stroke-width="2.08" fill="none" stroke-linecap="round" stroke-linejoin="round"/>
<path d="M334.0 499.6 C336.3 502.0 335.8 502.9 341.0 506.7 C346.2 510.5 344.4 509.1 349.7 511.0 C355.0 512.9 350.6 511.0 356.8 512.4 C363.0 513.8 360.6 514.8 368.2 515.3 C375.8 515.8 373.4 515.7 379.6 513.8 C385.8 511.9 382.0 512.9 386.7 509.6 C391.4 506.3 390.5 508.7 393.8 503.9 C397.1 499.1 396.0 501.9 396.7 495.3 C397.4 488.7 397.0 491.6 396.0 484.0 C395.0 476.4 396.9 478.2 393.8 472.5 C390.7 466.8 389.5 471.5 386.7 466.8 C383.9 462.1 385.8 461.1 385.3 458.3 M325.8 480.0 C323.2 485.5 323.4 485.5 318.0 496.6 C312.6 507.7 315.2 503.8 309.7 513.2 C304.2 522.6 307.5 517.7 301.4 524.9 C295.3 532.1 297.5 528.2 291.4 534.8 C285.3 541.4 289.6 537.1 283.0 544.8 C276.4 552.5 272.6 549.7 271.5 558.0 C270.4 566.3 279.8 560.8 279.8 569.7 C279.8 578.6 273.2 573.1 271.5 584.7 C269.8 596.3 272.6 588.0 274.8 604.6 C277.0 621.2 276.9 624.5 278.0 634.5 M326.0 484.0 C325.0 489.3 325.7 489.2 323.0 500.0 C320.3 510.8 322.4 506.6 318.0 516.5 C313.6 526.4 316.4 519.8 309.7 529.8 C303.0 539.8 304.6 536.4 298.0 546.4 C291.4 556.4 293.1 549.7 289.8 559.7 C286.5 569.7 287.5 565.2 288.0 576.3 C288.5 587.4 291.4 579.8 291.4 593.0 C291.4 606.2 288.5 599.4 288.0 616.0 C287.5 632.6 289.2 627.8 289.8 642.8 C290.4 657.8 290.1 648.6 289.8 661.0 C289.5 673.4 289.3 673.7 289.0 680.0 M327.5 482.0 C328.2 488.0 327.2 488.5 329.6 500.0 C332.0 511.5 330.7 506.6 334.6 516.5 C338.5 526.4 335.8 519.8 341.3 529.8 C346.8 539.8 345.7 535.3 351.2 546.4 C356.7 557.5 355.1 551.9 357.9 563.0 C360.7 574.1 360.1 569.7 359.5 579.7 C358.9 589.7 356.7 581.9 356.2 593.0 C355.7 604.1 356.8 598.6 357.9 612.9 C359.0 627.2 359.5 620.5 359.5 636.0 C359.5 651.5 358.9 646.1 357.9 659.4 C356.9 672.7 357.0 670.5 356.5 676.0 M328.0 486.0 C329.7 489.5 329.7 488.1 333.0 496.6 C336.3 505.1 333.6 502.7 338.0 511.6 C342.4 520.5 340.1 514.4 346.2 523.2 C352.3 532.0 349.5 529.7 356.2 538.0 C362.9 546.3 360.1 541.3 366.2 548.0 C372.3 554.7 374.5 550.8 374.5 558.0 C374.5 565.2 366.8 561.4 366.2 569.7 C365.6 578.0 372.3 573.0 372.8 583.0 C373.3 593.0 368.9 587.4 367.8 599.6 C366.7 611.8 370.0 607.4 369.5 619.5 C369.0 631.6 367.2 625.8 366.2 636.0 C365.2 646.2 366.4 645.3 366.5 650.0" stroke="#30a927" stroke-width="2.21" fill="none" stroke-linecap="round" stroke-linejoin="round"/>
<path d="M329.6 441.0 C329.6 446.7 330.1 449.7 329.7 458.0 C329.3 466.3 329.4 461.2 328.5 466.0 C327.6 470.8 327.8 467.8 326.9 472.5 C326.0 477.2 326.2 477.5 325.8 480.0" stroke="#2d8c20" stroke-width="3.45" fill="none" stroke-linecap="round" stroke-linejoin="round"/>
<path d="M329.6 441.0 C329.6 446.7 330.1 449.7 329.7 458.0 C329.3 466.3 329.4 461.2 328.5 466.0 C327.6 470.8 327.8 467.8 326.9 472.5 C326.0 477.2 326.2 477.5 325.8 480.0" stroke="#63c84a" stroke-width="1.95" fill="none" stroke-linecap="round" stroke-linejoin="round" transform="translate(-0.35,0)"/>
<ellipse cx="359.7" cy="377.0" rx="2.5" ry="3.6" transform="rotate(10 359.7 377.0)" fill="url(#ndg)" stroke="#35a026" stroke-width="0.9"/>
<ellipse cx="368.0" cy="382.8" rx="2.5" ry="3.6" transform="rotate(-50 368.0 382.8)" fill="url(#ndg)" stroke="#35a026" stroke-width="0.9"/>
<ellipse cx="376.7" cy="390.0" rx="2.5" ry="3.6" transform="rotate(-50 376.7 390.0)" fill="url(#ndg)" stroke="#35a026" stroke-width="0.9"/>
<ellipse cx="355.4" cy="397.0" rx="2.5" ry="3.6" transform="rotate(50 355.4 397.0)" fill="url(#ndg)" stroke="#35a026" stroke-width="0.9"/>
<ellipse cx="329.6" cy="459.0" rx="2.8" ry="4.2" transform="rotate(5 329.6 459.0)" fill="url(#ndg)" stroke="#35a026" stroke-width="0.9"/>
<ellipse cx="326.9" cy="473.0" rx="2.9" ry="4.4" transform="rotate(10 326.9 473.0)" fill="url(#ndg)" stroke="#35a026" stroke-width="0.9"/>
<ellipse cx="287.0" cy="445.5" rx="2.4" ry="3.4" transform="rotate(70 287.0 445.5)" fill="url(#ndg)" stroke="#35a026" stroke-width="0.9"/>
<ellipse cx="282.7" cy="459.7" rx="2.4" ry="3.4" transform="rotate(60 282.7 459.7)" fill="url(#ndg)" stroke="#35a026" stroke-width="0.9"/>
<ellipse cx="298.4" cy="468.0" rx="2.4" ry="3.4" transform="rotate(40 298.4 468.0)" fill="url(#ndg)" stroke="#35a026" stroke-width="0.9"/>
<ellipse cx="279.9" cy="441.0" rx="2.4" ry="3.4" transform="rotate(70 279.9 441.0)" fill="url(#ndg)" stroke="#35a026" stroke-width="0.9"/>
<ellipse cx="349.7" cy="511.0" rx="2.4" ry="3.6" transform="rotate(75 349.7 511.0)" fill="url(#ndg)" stroke="#35a026" stroke-width="0.9"/>
<ellipse cx="379.6" cy="513.8" rx="2.4" ry="3.6" transform="rotate(-80 379.6 513.8)" fill="url(#ndg)" stroke="#35a026" stroke-width="0.9"/>
<ellipse cx="396.7" cy="495.3" rx="2.4" ry="3.6" transform="rotate(5 396.7 495.3)" fill="url(#ndg)" stroke="#35a026" stroke-width="0.9"/>
<ellipse cx="393.8" cy="472.5" rx="2.4" ry="3.6" transform="rotate(-10 393.8 472.5)" fill="url(#ndg)" stroke="#35a026" stroke-width="0.9"/>
<ellipse cx="381.0" cy="485.4" rx="2.4" ry="3.6" transform="rotate(30 381.0 485.4)" fill="url(#ndg)" stroke="#35a026" stroke-width="0.9"/>
<ellipse cx="386.7" cy="502.4" rx="2.4" ry="3.6" transform="rotate(-10 386.7 502.4)" fill="url(#ndg)" stroke="#35a026" stroke-width="0.9"/>
<ellipse cx="318.0" cy="496.6" rx="2.6" ry="3.6" transform="rotate(26 318.0 496.6)" fill="url(#ndg)" stroke="#35a026" stroke-width="0.9"/>
<ellipse cx="309.7" cy="513.2" rx="2.6" ry="3.6" transform="rotate(30 309.7 513.2)" fill="url(#ndg)" stroke="#35a026" stroke-width="0.9"/>
<ellipse cx="301.4" cy="524.9" rx="2.6" ry="3.6" transform="rotate(40 301.4 524.9)" fill="url(#ndg)" stroke="#35a026" stroke-width="0.9"/>
<ellipse cx="291.4" cy="534.8" rx="2.6" ry="3.6" transform="rotate(43 291.4 534.8)" fill="url(#ndg)" stroke="#35a026" stroke-width="0.9"/>
<ellipse cx="283.0" cy="544.8" rx="2.6" ry="3.6" transform="rotate(41 283.0 544.8)" fill="url(#ndg)" stroke="#35a026" stroke-width="0.9"/>
<ellipse cx="279.8" cy="569.7" rx="2.6" ry="3.6" transform="rotate(0 279.8 569.7)" fill="url(#ndg)" stroke="#35a026" stroke-width="0.9"/>
<ellipse cx="271.5" cy="584.7" rx="2.6" ry="3.6" transform="rotate(8 271.5 584.7)" fill="url(#ndg)" stroke="#35a026" stroke-width="0.9"/>
<ellipse cx="274.8" cy="604.6" rx="2.6" ry="3.6" transform="rotate(-7 274.8 604.6)" fill="url(#ndg)" stroke="#35a026" stroke-width="0.9"/>
<ellipse cx="278.0" cy="634.5" rx="2.6" ry="3.6" transform="rotate(5 278.0 634.5)" fill="url(#ndg)" stroke="#35a026" stroke-width="0.9"/>
<ellipse cx="271.5" cy="558.0" rx="3.3" ry="4.4" transform="rotate(20 271.5 558.0)" fill="url(#ndg)" stroke="#35a026" stroke-width="0.9"/>
<ellipse cx="318.0" cy="516.5" rx="2.6" ry="3.6" transform="rotate(24 318.0 516.5)" fill="url(#ndg)" stroke="#35a026" stroke-width="0.9"/>
<ellipse cx="309.7" cy="529.8" rx="2.6" ry="3.6" transform="rotate(34 309.7 529.8)" fill="url(#ndg)" stroke="#35a026" stroke-width="0.9"/>
<ellipse cx="288.0" cy="576.3" rx="2.6" ry="3.6" transform="rotate(-3 288.0 576.3)" fill="url(#ndg)" stroke="#35a026" stroke-width="0.9"/>
<ellipse cx="291.4" cy="593.0" rx="2.6" ry="3.6" transform="rotate(0 291.4 593.0)" fill="url(#ndg)" stroke="#35a026" stroke-width="0.9"/>
<ellipse cx="288.0" cy="616.0" rx="2.6" ry="3.6" transform="rotate(2 288.0 616.0)" fill="url(#ndg)" stroke="#35a026" stroke-width="0.9"/>
<ellipse cx="289.8" cy="642.8" rx="2.6" ry="3.6" transform="rotate(-2 289.8 642.8)" fill="url(#ndg)" stroke="#35a026" stroke-width="0.9"/>
<ellipse cx="289.8" cy="661.0" rx="2.6" ry="3.6" transform="rotate(1 289.8 661.0)" fill="url(#ndg)" stroke="#35a026" stroke-width="0.9"/>
<ellipse cx="298.0" cy="546.4" rx="3.2" ry="4.4" transform="rotate(35 298.0 546.4)" fill="url(#ndg)" stroke="#35a026" stroke-width="0.9"/>
<ellipse cx="329.6" cy="500.0" rx="2.6" ry="3.6" transform="rotate(-12 329.6 500.0)" fill="url(#ndg)" stroke="#35a026" stroke-width="0.9"/>
<ellipse cx="334.6" cy="516.5" rx="2.6" ry="3.6" transform="rotate(-21 334.6 516.5)" fill="url(#ndg)" stroke="#35a026" stroke-width="0.9"/>
<ellipse cx="341.3" cy="529.8" rx="2.6" ry="3.6" transform="rotate(-29 341.3 529.8)" fill="url(#ndg)" stroke="#35a026" stroke-width="0.9"/>
<ellipse cx="351.2" cy="546.4" rx="2.6" ry="3.6" transform="rotate(-27 351.2 546.4)" fill="url(#ndg)" stroke="#35a026" stroke-width="0.9"/>
<ellipse cx="357.9" cy="563.0" rx="2.6" ry="3.6" transform="rotate(-14 357.9 563.0)" fill="url(#ndg)" stroke="#35a026" stroke-width="0.9"/>
<ellipse cx="356.2" cy="593.0" rx="2.6" ry="3.6" transform="rotate(3 356.2 593.0)" fill="url(#ndg)" stroke="#35a026" stroke-width="0.9"/>
<ellipse cx="357.9" cy="612.9" rx="2.6" ry="3.6" transform="rotate(-4 357.9 612.9)" fill="url(#ndg)" stroke="#35a026" stroke-width="0.9"/>
<ellipse cx="359.5" cy="636.0" rx="2.6" ry="3.6" transform="rotate(0 359.5 636.0)" fill="url(#ndg)" stroke="#35a026" stroke-width="0.9"/>
<ellipse cx="338.0" cy="511.6" rx="2.6" ry="3.6" transform="rotate(-26 338.0 511.6)" fill="url(#ndg)" stroke="#35a026" stroke-width="0.9"/>
<ellipse cx="346.2" cy="523.2" rx="2.6" ry="3.6" transform="rotate(-35 346.2 523.2)" fill="url(#ndg)" stroke="#35a026" stroke-width="0.9"/>
<ellipse cx="356.2" cy="538.0" rx="2.6" ry="3.6" transform="rotate(-39 356.2 538.0)" fill="url(#ndg)" stroke="#35a026" stroke-width="0.9"/>
<ellipse cx="366.2" cy="548.0" rx="2.6" ry="3.6" transform="rotate(-42 366.2 548.0)" fill="url(#ndg)" stroke="#35a026" stroke-width="0.9"/>
<ellipse cx="366.2" cy="569.7" rx="2.6" ry="3.6" transform="rotate(4 366.2 569.7)" fill="url(#ndg)" stroke="#35a026" stroke-width="0.9"/>
<ellipse cx="372.8" cy="583.0" rx="2.6" ry="3.6" transform="rotate(-3 372.8 583.0)" fill="url(#ndg)" stroke="#35a026" stroke-width="0.9"/>
<ellipse cx="367.8" cy="599.6" rx="2.6" ry="3.6" transform="rotate(5 367.8 599.6)" fill="url(#ndg)" stroke="#35a026" stroke-width="0.9"/>
<ellipse cx="369.5" cy="619.5" rx="2.6" ry="3.6" transform="rotate(3 369.5 619.5)" fill="url(#ndg)" stroke="#35a026" stroke-width="0.9"/>
<ellipse cx="374.5" cy="558.0" rx="3.3" ry="4.4" transform="rotate(-20 374.5 558.0)" fill="url(#ndg)" stroke="#35a026" stroke-width="0.9"/>
<ellipse cx="282.0" cy="827.0" rx="2.6" ry="2.9" transform="rotate(0 282.0 827.0)" fill="url(#ndg)" stroke="#35a026" stroke-width="0.9"/>
<ellipse cx="280.6" cy="842.7" rx="2.6" ry="2.9" transform="rotate(0 280.6 842.7)" fill="url(#ndg)" stroke="#35a026" stroke-width="0.9"/>
<ellipse cx="292.0" cy="844.0" rx="2.6" ry="2.9" transform="rotate(0 292.0 844.0)" fill="url(#ndg)" stroke="#35a026" stroke-width="0.9"/>
<ellipse cx="273.5" cy="851.0" rx="2.6" ry="2.9" transform="rotate(0 273.5 851.0)" fill="url(#ndg)" stroke="#35a026" stroke-width="0.9"/>
<ellipse cx="287.7" cy="864.0" rx="2.6" ry="2.9" transform="rotate(0 287.7 864.0)" fill="url(#ndg)" stroke="#35a026" stroke-width="0.9"/>
<ellipse cx="368.3" cy="815.6" rx="2.6" ry="2.9" transform="rotate(0 368.3 815.6)" fill="url(#ndg)" stroke="#35a026" stroke-width="0.9"/>
<ellipse cx="358.0" cy="831.3" rx="2.6" ry="2.9" transform="rotate(0 358.0 831.3)" fill="url(#ndg)" stroke="#35a026" stroke-width="0.9"/>
<ellipse cx="371.0" cy="831.3" rx="2.6" ry="2.9" transform="rotate(0 371.0 831.3)" fill="url(#ndg)" stroke="#35a026" stroke-width="0.9"/>
<ellipse cx="376.0" cy="841.3" rx="2.6" ry="2.9" transform="rotate(0 376.0 841.3)" fill="url(#ndg)" stroke="#35a026" stroke-width="0.9"/>
<ellipse cx="362.6" cy="857.0" rx="2.6" ry="2.9" transform="rotate(0 362.6 857.0)" fill="url(#ndg)" stroke="#35a026" stroke-width="0.9"/>
</g>
<g stroke="#1f1f1f" stroke-width="1.4" fill="none" stroke-linejoin="miter">
<path d="M174.8 203.7 L210 203.7 L319.5 286.5"/>
<path d="M123.6 329 L196.5 329"/>
<path d="M105.8 404.2 L253 404.2"/>
<path d="M427.6 281.6 L517.4 281.6"/>
<path d="M390 419.8 L505.8 419.8"/>
</g>
<g font-size="14px" fill="#1c1c1c">
<text x="120.1" y="208.8">Thymus</text>
<text x="32.9" y="332.9">Bone marrow</text>
<text x="68.8" y="408.9">Liver</text>
<text x="556.7" y="280.8" text-anchor="middle">Lymphatic</text>
<text x="556.2" y="294.8" text-anchor="middle">system</text>
<text x="511.5" y="423.8">Spleen</text>
</g>
<text x="5.2" y="1182.9" font-size="7.6px" letter-spacing="0.675" fill="#565656">© MAYO FOUNDATION FOR MEDICAL EDUCATION AND RESEARCH. ALL RIGHTS RESERVED.</text>
</svg></body></html>
